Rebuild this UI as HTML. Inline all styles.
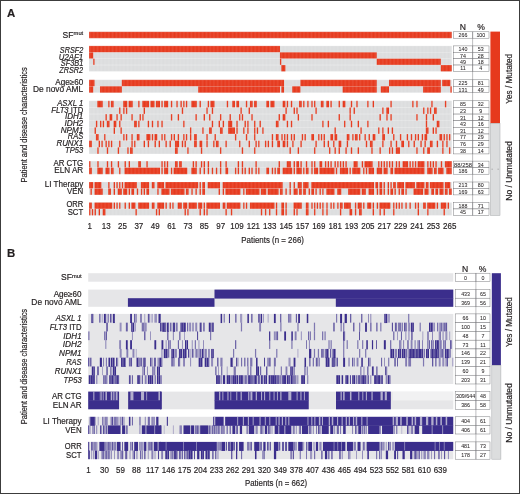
<!DOCTYPE html>
<html><head><meta charset="utf-8"><title>Figure</title>
<style>
html,body{margin:0;padding:0;background:#fff;}
body{width:520px;height:495px;overflow:hidden;position:relative;font-family:"Liberation Sans",sans-serif;}
svg{will-change:transform;display:block;position:absolute;left:0;top:0;}
svg text{font-family:"Liberation Sans",sans-serif;fill:#231f20;stroke:#231f20;stroke-width:0.18px;}
.i{font-style:italic;}
</style></head><body>
<svg width="520" height="495" viewBox="0 0 520 495">
<defs>
<pattern id="pa" patternUnits="userSpaceOnUse" x="88.95" y="0" width="1.3632" height="10"><rect x="0" y="0" width="0.3" height="10" fill="#fff" opacity="0.2"/></pattern>
</defs>
<rect x="0.5" y="0.5" width="519" height="493" fill="#fff" stroke="#3c3c3c" stroke-width="1"/>
<rect x="89.1" y="31.8" width="362.6" height="6.4" fill="#dcddde"/>
<rect x="89.1" y="45.9" width="362.6" height="25.52" fill="#dcddde"/>
<rect x="89.1" y="79.8" width="362.6" height="12.9" fill="#dcddde"/>
<rect x="89.1" y="100.8" width="362.6" height="53.12" fill="#dcddde"/>
<rect x="89.1" y="161.1" width="362.6" height="13.1" fill="#dcddde"/>
<rect x="89.1" y="182" width="362.6" height="12.9" fill="#dcddde"/>
<rect x="89.1" y="202.5" width="362.6" height="12.9" fill="#dcddde"/>
<rect x="89.1" y="31.8" width="362.61" height="6.4" fill="#e6391d"/>
<rect x="89.1" y="31.8" width="362.6" height="6.4" fill="url(#pa)"/>
<line x1="89.1" y1="38.2" x2="451.7" y2="38.2" stroke="#fff" stroke-width="0.5" opacity="0.3"/>
<line x1="89.1" y1="31.8" x2="451.7" y2="31.8" stroke="#fff" stroke-width="0.5" opacity="0.3"/>
<text transform="translate(83.2,37.7) scale(1.0330,1)" font-size="8.3" text-anchor="end">SF<tspan font-size="5.6" dy="-2.8">mut</tspan></text>
<rect x="453.3" y="31.8" width="35.7" height="6.4" fill="#fff" stroke="#6d6e71" stroke-width="0.45"/>
<line x1="472.6" y1="31.8" x2="472.6" y2="38.2" stroke="#6d6e71" stroke-width="0.45"/>
<text transform="translate(462.95,37.12) scale(0.9000,1)" font-size="5.9" text-anchor="middle" style="stroke-width:0.05px">266</text>
<text transform="translate(480.8,37.12) scale(0.9000,1)" font-size="5.9" text-anchor="middle" style="stroke-width:0.05px">100</text>
<rect x="89.1" y="45.9" width="190.85" height="6.38" fill="#e6391d"/>
<rect x="89.1" y="45.9" width="362.6" height="6.38" fill="url(#pa)"/>
<line x1="89.1" y1="52.28" x2="451.7" y2="52.28" stroke="#fff" stroke-width="0.5" opacity="0.3"/>
<line x1="89.1" y1="45.9" x2="451.7" y2="45.9" stroke="#fff" stroke-width="0.5" opacity="0.3"/>
<text transform="translate(83.2,52.76) scale(0.8747,1)" font-size="8.3" text-anchor="end"><tspan class="i">SRSF2</tspan></text>
<rect x="453.3" y="45.9" width="35.7" height="6.38" fill="#fff" stroke="#6d6e71" stroke-width="0.45"/>
<line x1="472.6" y1="45.9" x2="472.6" y2="52.28" stroke="#6d6e71" stroke-width="0.45"/>
<text transform="translate(462.95,51.21) scale(0.9000,1)" font-size="5.9" text-anchor="middle" style="stroke-width:0.05px">140</text>
<text transform="translate(480.8,51.21) scale(0.9000,1)" font-size="5.9" text-anchor="middle" style="stroke-width:0.05px">53</text>
<rect x="89.1" y="52.28" width="4.09" height="6.38" fill="#e6391d"/>
<rect x="279.95" y="52.28" width="96.79" height="6.38" fill="#e6391d"/>
<rect x="89.1" y="52.28" width="362.6" height="6.38" fill="url(#pa)"/>
<line x1="89.1" y1="58.66" x2="451.7" y2="58.66" stroke="#fff" stroke-width="0.5" opacity="0.3"/>
<line x1="89.1" y1="52.28" x2="451.7" y2="52.28" stroke="#fff" stroke-width="0.5" opacity="0.3"/>
<text transform="translate(83.2,59.55) scale(0.9445,1)" font-size="8.3" text-anchor="end"><tspan class="i">U2AF1</tspan></text>
<rect x="453.3" y="52.28" width="35.7" height="6.38" fill="#fff" stroke="#6d6e71" stroke-width="0.45"/>
<line x1="472.6" y1="52.28" x2="472.6" y2="58.66" stroke="#6d6e71" stroke-width="0.45"/>
<text transform="translate(462.95,57.59) scale(0.9000,1)" font-size="5.9" text-anchor="middle" style="stroke-width:0.05px">74</text>
<text transform="translate(480.8,57.59) scale(0.9000,1)" font-size="5.9" text-anchor="middle" style="stroke-width:0.05px">28</text>
<rect x="93.19" y="58.66" width="1.36" height="6.38" fill="#e6391d"/>
<rect x="279.95" y="58.66" width="1.36" height="6.38" fill="#e6391d"/>
<rect x="376.74" y="58.66" width="64.07" height="6.38" fill="#e6391d"/>
<rect x="89.1" y="58.66" width="362.6" height="6.38" fill="url(#pa)"/>
<line x1="89.1" y1="65.04" x2="451.7" y2="65.04" stroke="#fff" stroke-width="0.5" opacity="0.3"/>
<line x1="89.1" y1="58.66" x2="451.7" y2="58.66" stroke="#fff" stroke-width="0.5" opacity="0.3"/>
<text transform="translate(83.2,66.06) scale(0.8827,1)" font-size="8.3" text-anchor="end"><tspan class="i">SF3B1</tspan></text>
<rect x="453.3" y="58.66" width="35.7" height="6.38" fill="#fff" stroke="#6d6e71" stroke-width="0.45"/>
<line x1="472.6" y1="58.66" x2="472.6" y2="65.04" stroke="#6d6e71" stroke-width="0.45"/>
<text transform="translate(462.95,63.97) scale(0.9000,1)" font-size="5.9" text-anchor="middle" style="stroke-width:0.05px">49</text>
<text transform="translate(480.8,63.97) scale(0.9000,1)" font-size="5.9" text-anchor="middle" style="stroke-width:0.05px">18</text>
<rect x="281.31" y="65.04" width="4.09" height="6.38" fill="#e6391d"/>
<rect x="440.81" y="65.04" width="10.91" height="6.38" fill="#e6391d"/>
<rect x="89.1" y="65.04" width="362.6" height="6.38" fill="url(#pa)"/>
<line x1="89.1" y1="71.42" x2="451.7" y2="71.42" stroke="#fff" stroke-width="0.5" opacity="0.3"/>
<line x1="89.1" y1="65.04" x2="451.7" y2="65.04" stroke="#fff" stroke-width="0.5" opacity="0.3"/>
<text transform="translate(83.2,72.85) scale(0.8820,1)" font-size="8.3" text-anchor="end"><tspan class="i">ZRSR2</tspan></text>
<rect x="453.3" y="65.04" width="35.7" height="6.38" fill="#fff" stroke="#6d6e71" stroke-width="0.45"/>
<line x1="472.6" y1="65.04" x2="472.6" y2="71.42" stroke="#6d6e71" stroke-width="0.45"/>
<text transform="translate(462.95,70.35) scale(0.9000,1)" font-size="5.9" text-anchor="middle" style="stroke-width:0.05px">11</text>
<text transform="translate(480.8,70.35) scale(0.9000,1)" font-size="5.9" text-anchor="middle" style="stroke-width:0.05px">4</text>
<rect x="89.1" y="79.8" width="5.45" height="6.45" fill="#e6391d"/>
<rect x="121.82" y="79.8" width="162.22" height="6.45" fill="#e6391d"/>
<rect x="300.4" y="79.8" width="76.34" height="6.45" fill="#e6391d"/>
<rect x="389" y="79.8" width="51.8" height="6.45" fill="#e6391d"/>
<rect x="442.17" y="79.8" width="8.18" height="6.45" fill="#e6391d"/>
<rect x="89.1" y="79.8" width="362.6" height="6.45" fill="url(#pa)"/>
<line x1="89.1" y1="86.25" x2="451.7" y2="86.25" stroke="#fff" stroke-width="0.5" opacity="0.3"/>
<line x1="89.1" y1="79.8" x2="451.7" y2="79.8" stroke="#fff" stroke-width="0.5" opacity="0.3"/>
<text transform="translate(83.2,85.4) scale(0.9805,1)" font-size="8.3" text-anchor="end">Age≥60</text>
<rect x="453.3" y="79.8" width="35.7" height="6.45" fill="#fff" stroke="#6d6e71" stroke-width="0.45"/>
<line x1="472.6" y1="79.8" x2="472.6" y2="86.25" stroke="#6d6e71" stroke-width="0.45"/>
<text transform="translate(462.95,85.15) scale(0.9000,1)" font-size="5.9" text-anchor="middle" style="stroke-width:0.05px">225</text>
<text transform="translate(480.8,85.15) scale(0.9000,1)" font-size="5.9" text-anchor="middle" style="stroke-width:0.05px">81</text>
<rect x="89.1" y="86.25" width="4.09" height="6.45" fill="#e6391d"/>
<rect x="100.01" y="86.25" width="21.81" height="6.45" fill="#e6391d"/>
<rect x="198.16" y="86.25" width="81.79" height="6.45" fill="#e6391d"/>
<rect x="281.31" y="86.25" width="2.73" height="6.45" fill="#e6391d"/>
<rect x="292.22" y="86.25" width="8.18" height="6.45" fill="#e6391d"/>
<rect x="342.66" y="86.25" width="34.08" height="6.45" fill="#e6391d"/>
<rect x="380.82" y="86.25" width="8.18" height="6.45" fill="#e6391d"/>
<rect x="423.08" y="86.25" width="17.72" height="6.45" fill="#e6391d"/>
<rect x="450.35" y="86.25" width="1.36" height="6.45" fill="#e6391d"/>
<rect x="89.1" y="86.25" width="362.6" height="6.45" fill="url(#pa)"/>
<line x1="89.1" y1="92.7" x2="451.7" y2="92.7" stroke="#fff" stroke-width="0.5" opacity="0.3"/>
<line x1="89.1" y1="86.25" x2="451.7" y2="86.25" stroke="#fff" stroke-width="0.5" opacity="0.3"/>
<text transform="translate(83.2,92.3) scale(1.0094,1)" font-size="8.3" text-anchor="end">De novo AML</text>
<rect x="453.3" y="86.25" width="35.7" height="6.45" fill="#fff" stroke="#6d6e71" stroke-width="0.45"/>
<line x1="472.6" y1="86.25" x2="472.6" y2="92.7" stroke="#6d6e71" stroke-width="0.45"/>
<text transform="translate(462.95,91.6) scale(0.9000,1)" font-size="5.9" text-anchor="middle" style="stroke-width:0.05px">131</text>
<text transform="translate(480.8,91.6) scale(0.9000,1)" font-size="5.9" text-anchor="middle" style="stroke-width:0.05px">49</text>
<rect x="97.28" y="100.8" width="5.45" height="6.64" fill="#e6391d"/>
<rect x="108.18" y="100.8" width="1.36" height="6.64" fill="#e6391d"/>
<rect x="110.91" y="100.8" width="2.73" height="6.64" fill="#e6391d"/>
<rect x="123.18" y="100.8" width="4.09" height="6.64" fill="#e6391d"/>
<rect x="128.63" y="100.8" width="4.09" height="6.64" fill="#e6391d"/>
<rect x="138.18" y="100.8" width="1.36" height="6.64" fill="#e6391d"/>
<rect x="142.26" y="100.8" width="6.82" height="6.64" fill="#e6391d"/>
<rect x="150.44" y="100.8" width="4.09" height="6.64" fill="#e6391d"/>
<rect x="155.9" y="100.8" width="4.09" height="6.64" fill="#e6391d"/>
<rect x="161.35" y="100.8" width="1.36" height="6.64" fill="#e6391d"/>
<rect x="164.08" y="100.8" width="4.09" height="6.64" fill="#e6391d"/>
<rect x="170.89" y="100.8" width="1.36" height="6.64" fill="#e6391d"/>
<rect x="176.34" y="100.8" width="1.36" height="6.64" fill="#e6391d"/>
<rect x="180.43" y="100.8" width="1.36" height="6.64" fill="#e6391d"/>
<rect x="183.16" y="100.8" width="1.36" height="6.64" fill="#e6391d"/>
<rect x="185.89" y="100.8" width="1.36" height="6.64" fill="#e6391d"/>
<rect x="191.34" y="100.8" width="5.45" height="6.64" fill="#e6391d"/>
<rect x="199.52" y="100.8" width="1.36" height="6.64" fill="#e6391d"/>
<rect x="207.7" y="100.8" width="1.36" height="6.64" fill="#e6391d"/>
<rect x="210.42" y="100.8" width="4.09" height="6.64" fill="#e6391d"/>
<rect x="226.78" y="100.8" width="1.36" height="6.64" fill="#e6391d"/>
<rect x="232.24" y="100.8" width="2.73" height="6.64" fill="#e6391d"/>
<rect x="236.33" y="100.8" width="2.73" height="6.64" fill="#e6391d"/>
<rect x="245.87" y="100.8" width="1.36" height="6.64" fill="#e6391d"/>
<rect x="249.96" y="100.8" width="2.73" height="6.64" fill="#e6391d"/>
<rect x="254.05" y="100.8" width="2.73" height="6.64" fill="#e6391d"/>
<rect x="266.32" y="100.8" width="2.73" height="6.64" fill="#e6391d"/>
<rect x="270.41" y="100.8" width="4.09" height="6.64" fill="#e6391d"/>
<rect x="282.67" y="100.8" width="2.73" height="6.64" fill="#e6391d"/>
<rect x="286.76" y="100.8" width="1.36" height="6.64" fill="#e6391d"/>
<rect x="290.85" y="100.8" width="1.36" height="6.64" fill="#e6391d"/>
<rect x="299.03" y="100.8" width="2.73" height="6.64" fill="#e6391d"/>
<rect x="303.12" y="100.8" width="1.36" height="6.64" fill="#e6391d"/>
<rect x="307.21" y="100.8" width="1.36" height="6.64" fill="#e6391d"/>
<rect x="311.3" y="100.8" width="1.36" height="6.64" fill="#e6391d"/>
<rect x="314.03" y="100.8" width="1.36" height="6.64" fill="#e6391d"/>
<rect x="320.84" y="100.8" width="2.73" height="6.64" fill="#e6391d"/>
<rect x="326.3" y="100.8" width="2.73" height="6.64" fill="#e6391d"/>
<rect x="330.39" y="100.8" width="1.36" height="6.64" fill="#e6391d"/>
<rect x="338.57" y="100.8" width="1.36" height="6.64" fill="#e6391d"/>
<rect x="342.66" y="100.8" width="2.73" height="6.64" fill="#e6391d"/>
<rect x="350.83" y="100.8" width="1.36" height="6.64" fill="#e6391d"/>
<rect x="356.29" y="100.8" width="1.36" height="6.64" fill="#e6391d"/>
<rect x="367.19" y="100.8" width="1.36" height="6.64" fill="#e6391d"/>
<rect x="372.65" y="100.8" width="1.36" height="6.64" fill="#e6391d"/>
<rect x="390.37" y="100.8" width="1.36" height="6.64" fill="#e6391d"/>
<rect x="412.18" y="100.8" width="1.36" height="6.64" fill="#e6391d"/>
<rect x="416.27" y="100.8" width="1.36" height="6.64" fill="#e6391d"/>
<rect x="431.26" y="100.8" width="1.36" height="6.64" fill="#e6391d"/>
<rect x="444.9" y="100.8" width="1.36" height="6.64" fill="#e6391d"/>
<rect x="89.1" y="100.8" width="362.6" height="6.64" fill="url(#pa)"/>
<line x1="89.1" y1="107.44" x2="451.7" y2="107.44" stroke="#fff" stroke-width="0.5" opacity="0.3"/>
<line x1="89.1" y1="100.8" x2="451.7" y2="100.8" stroke="#fff" stroke-width="0.5" opacity="0.3"/>
<text transform="translate(83.2,105.9) scale(0.9287,1)" font-size="8.3" text-anchor="end"><tspan class="i">ASXL 1</tspan></text>
<rect x="453.3" y="100.8" width="35.7" height="6.64" fill="#fff" stroke="#6d6e71" stroke-width="0.45"/>
<line x1="472.6" y1="100.8" x2="472.6" y2="107.44" stroke="#6d6e71" stroke-width="0.45"/>
<text transform="translate(462.95,106.24) scale(0.9000,1)" font-size="5.9" text-anchor="middle" style="stroke-width:0.05px">85</text>
<text transform="translate(480.8,106.24) scale(0.9000,1)" font-size="5.9" text-anchor="middle" style="stroke-width:0.05px">32</text>
<rect x="119.09" y="107.44" width="1.36" height="6.64" fill="#e6391d"/>
<rect x="123.18" y="107.44" width="1.36" height="6.64" fill="#e6391d"/>
<rect x="125.91" y="107.44" width="1.36" height="6.64" fill="#e6391d"/>
<rect x="143.63" y="107.44" width="1.36" height="6.64" fill="#e6391d"/>
<rect x="181.8" y="107.44" width="1.36" height="6.64" fill="#e6391d"/>
<rect x="206.34" y="107.44" width="1.36" height="6.64" fill="#e6391d"/>
<rect x="211.79" y="107.44" width="1.36" height="6.64" fill="#e6391d"/>
<rect x="240.42" y="107.44" width="1.36" height="6.64" fill="#e6391d"/>
<rect x="248.59" y="107.44" width="1.36" height="6.64" fill="#e6391d"/>
<rect x="285.4" y="107.44" width="1.36" height="6.64" fill="#e6391d"/>
<rect x="293.58" y="107.44" width="1.36" height="6.64" fill="#e6391d"/>
<rect x="296.31" y="107.44" width="1.36" height="6.64" fill="#e6391d"/>
<rect x="315.39" y="107.44" width="1.36" height="6.64" fill="#e6391d"/>
<rect x="349.47" y="107.44" width="1.36" height="6.64" fill="#e6391d"/>
<rect x="353.56" y="107.44" width="1.36" height="6.64" fill="#e6391d"/>
<rect x="382.19" y="107.44" width="1.36" height="6.64" fill="#e6391d"/>
<rect x="386.28" y="107.44" width="2.73" height="6.64" fill="#e6391d"/>
<rect x="423.08" y="107.44" width="1.36" height="6.64" fill="#e6391d"/>
<rect x="427.17" y="107.44" width="1.36" height="6.64" fill="#e6391d"/>
<rect x="429.9" y="107.44" width="1.36" height="6.64" fill="#e6391d"/>
<rect x="433.99" y="107.44" width="2.73" height="6.64" fill="#e6391d"/>
<rect x="89.1" y="107.44" width="362.6" height="6.64" fill="url(#pa)"/>
<line x1="89.1" y1="114.08" x2="451.7" y2="114.08" stroke="#fff" stroke-width="0.5" opacity="0.3"/>
<line x1="89.1" y1="107.44" x2="451.7" y2="107.44" stroke="#fff" stroke-width="0.5" opacity="0.3"/>
<text transform="translate(83.2,112.7) scale(0.9293,1)" font-size="8.3" text-anchor="end"><tspan class="i">FLT3</tspan> ITD</text>
<rect x="453.3" y="107.44" width="35.7" height="6.64" fill="#fff" stroke="#6d6e71" stroke-width="0.45"/>
<line x1="472.6" y1="107.44" x2="472.6" y2="114.08" stroke="#6d6e71" stroke-width="0.45"/>
<text transform="translate(462.95,112.88) scale(0.9000,1)" font-size="5.9" text-anchor="middle" style="stroke-width:0.05px">23</text>
<text transform="translate(480.8,112.88) scale(0.9000,1)" font-size="5.9" text-anchor="middle" style="stroke-width:0.05px">9</text>
<rect x="105.46" y="114.08" width="1.36" height="6.64" fill="#e6391d"/>
<rect x="109.55" y="114.08" width="2.73" height="6.64" fill="#e6391d"/>
<rect x="116.36" y="114.08" width="1.36" height="6.64" fill="#e6391d"/>
<rect x="120.45" y="114.08" width="1.36" height="6.64" fill="#e6391d"/>
<rect x="131.36" y="114.08" width="1.36" height="6.64" fill="#e6391d"/>
<rect x="139.54" y="114.08" width="1.36" height="6.64" fill="#e6391d"/>
<rect x="142.26" y="114.08" width="1.36" height="6.64" fill="#e6391d"/>
<rect x="170.89" y="114.08" width="1.36" height="6.64" fill="#e6391d"/>
<rect x="177.71" y="114.08" width="1.36" height="6.64" fill="#e6391d"/>
<rect x="195.43" y="114.08" width="1.36" height="6.64" fill="#e6391d"/>
<rect x="203.61" y="114.08" width="1.36" height="6.64" fill="#e6391d"/>
<rect x="209.06" y="114.08" width="1.36" height="6.64" fill="#e6391d"/>
<rect x="219.97" y="114.08" width="1.36" height="6.64" fill="#e6391d"/>
<rect x="229.51" y="114.08" width="1.36" height="6.64" fill="#e6391d"/>
<rect x="239.05" y="114.08" width="1.36" height="6.64" fill="#e6391d"/>
<rect x="241.78" y="114.08" width="1.36" height="6.64" fill="#e6391d"/>
<rect x="251.32" y="114.08" width="1.36" height="6.64" fill="#e6391d"/>
<rect x="278.58" y="114.08" width="1.36" height="6.64" fill="#e6391d"/>
<rect x="282.67" y="114.08" width="2.73" height="6.64" fill="#e6391d"/>
<rect x="297.67" y="114.08" width="1.36" height="6.64" fill="#e6391d"/>
<rect x="311.3" y="114.08" width="1.36" height="6.64" fill="#e6391d"/>
<rect x="338.57" y="114.08" width="1.36" height="6.64" fill="#e6391d"/>
<rect x="349.47" y="114.08" width="1.36" height="6.64" fill="#e6391d"/>
<rect x="379.46" y="114.08" width="1.36" height="6.64" fill="#e6391d"/>
<rect x="386.28" y="114.08" width="1.36" height="6.64" fill="#e6391d"/>
<rect x="390.37" y="114.08" width="1.36" height="6.64" fill="#e6391d"/>
<rect x="416.27" y="114.08" width="1.36" height="6.64" fill="#e6391d"/>
<rect x="425.81" y="114.08" width="1.36" height="6.64" fill="#e6391d"/>
<rect x="432.63" y="114.08" width="1.36" height="6.64" fill="#e6391d"/>
<rect x="89.1" y="114.08" width="362.6" height="6.64" fill="url(#pa)"/>
<line x1="89.1" y1="120.72" x2="451.7" y2="120.72" stroke="#fff" stroke-width="0.5" opacity="0.3"/>
<line x1="89.1" y1="114.08" x2="451.7" y2="114.08" stroke="#fff" stroke-width="0.5" opacity="0.3"/>
<text transform="translate(83.2,119.4) scale(0.9677,1)" font-size="8.3" text-anchor="end"><tspan class="i">IDH1</tspan></text>
<rect x="453.3" y="114.08" width="35.7" height="6.64" fill="#fff" stroke="#6d6e71" stroke-width="0.45"/>
<line x1="472.6" y1="114.08" x2="472.6" y2="120.72" stroke="#6d6e71" stroke-width="0.45"/>
<text transform="translate(462.95,119.52) scale(0.9000,1)" font-size="5.9" text-anchor="middle" style="stroke-width:0.05px">31</text>
<text transform="translate(480.8,119.52) scale(0.9000,1)" font-size="5.9" text-anchor="middle" style="stroke-width:0.05px">12</text>
<rect x="95.92" y="120.72" width="1.36" height="6.64" fill="#e6391d"/>
<rect x="100.01" y="120.72" width="1.36" height="6.64" fill="#e6391d"/>
<rect x="102.73" y="120.72" width="1.36" height="6.64" fill="#e6391d"/>
<rect x="106.82" y="120.72" width="2.73" height="6.64" fill="#e6391d"/>
<rect x="113.64" y="120.72" width="2.73" height="6.64" fill="#e6391d"/>
<rect x="119.09" y="120.72" width="1.36" height="6.64" fill="#e6391d"/>
<rect x="134.09" y="120.72" width="2.73" height="6.64" fill="#e6391d"/>
<rect x="138.18" y="120.72" width="1.36" height="6.64" fill="#e6391d"/>
<rect x="147.72" y="120.72" width="1.36" height="6.64" fill="#e6391d"/>
<rect x="151.81" y="120.72" width="1.36" height="6.64" fill="#e6391d"/>
<rect x="157.26" y="120.72" width="1.36" height="6.64" fill="#e6391d"/>
<rect x="161.35" y="120.72" width="1.36" height="6.64" fill="#e6391d"/>
<rect x="183.16" y="120.72" width="1.36" height="6.64" fill="#e6391d"/>
<rect x="211.79" y="120.72" width="1.36" height="6.64" fill="#e6391d"/>
<rect x="218.6" y="120.72" width="1.36" height="6.64" fill="#e6391d"/>
<rect x="222.69" y="120.72" width="1.36" height="6.64" fill="#e6391d"/>
<rect x="228.15" y="120.72" width="4.09" height="6.64" fill="#e6391d"/>
<rect x="236.33" y="120.72" width="1.36" height="6.64" fill="#e6391d"/>
<rect x="244.5" y="120.72" width="1.36" height="6.64" fill="#e6391d"/>
<rect x="247.23" y="120.72" width="1.36" height="6.64" fill="#e6391d"/>
<rect x="254.05" y="120.72" width="1.36" height="6.64" fill="#e6391d"/>
<rect x="259.5" y="120.72" width="1.36" height="6.64" fill="#e6391d"/>
<rect x="275.86" y="120.72" width="2.73" height="6.64" fill="#e6391d"/>
<rect x="286.76" y="120.72" width="1.36" height="6.64" fill="#e6391d"/>
<rect x="290.85" y="120.72" width="1.36" height="6.64" fill="#e6391d"/>
<rect x="322.21" y="120.72" width="1.36" height="6.64" fill="#e6391d"/>
<rect x="327.66" y="120.72" width="1.36" height="6.64" fill="#e6391d"/>
<rect x="344.02" y="120.72" width="1.36" height="6.64" fill="#e6391d"/>
<rect x="350.83" y="120.72" width="1.36" height="6.64" fill="#e6391d"/>
<rect x="357.65" y="120.72" width="1.36" height="6.64" fill="#e6391d"/>
<rect x="367.19" y="120.72" width="1.36" height="6.64" fill="#e6391d"/>
<rect x="425.81" y="120.72" width="1.36" height="6.64" fill="#e6391d"/>
<rect x="436.72" y="120.72" width="2.73" height="6.64" fill="#e6391d"/>
<rect x="89.1" y="120.72" width="362.6" height="6.64" fill="url(#pa)"/>
<line x1="89.1" y1="127.36" x2="451.7" y2="127.36" stroke="#fff" stroke-width="0.5" opacity="0.3"/>
<line x1="89.1" y1="120.72" x2="451.7" y2="120.72" stroke="#fff" stroke-width="0.5" opacity="0.3"/>
<text transform="translate(83.2,126) scale(0.9942,1)" font-size="8.3" text-anchor="end"><tspan class="i">IDH2</tspan></text>
<rect x="453.3" y="120.72" width="35.7" height="6.64" fill="#fff" stroke="#6d6e71" stroke-width="0.45"/>
<line x1="472.6" y1="120.72" x2="472.6" y2="127.36" stroke="#6d6e71" stroke-width="0.45"/>
<text transform="translate(462.95,126.16) scale(0.9000,1)" font-size="5.9" text-anchor="middle" style="stroke-width:0.05px">43</text>
<text transform="translate(480.8,126.16) scale(0.9000,1)" font-size="5.9" text-anchor="middle" style="stroke-width:0.05px">16</text>
<rect x="94.55" y="127.36" width="1.36" height="6.64" fill="#e6391d"/>
<rect x="113.64" y="127.36" width="1.36" height="6.64" fill="#e6391d"/>
<rect x="120.45" y="127.36" width="1.36" height="6.64" fill="#e6391d"/>
<rect x="189.98" y="127.36" width="1.36" height="6.64" fill="#e6391d"/>
<rect x="202.25" y="127.36" width="1.36" height="6.64" fill="#e6391d"/>
<rect x="209.06" y="127.36" width="2.73" height="6.64" fill="#e6391d"/>
<rect x="219.97" y="127.36" width="2.73" height="6.64" fill="#e6391d"/>
<rect x="228.15" y="127.36" width="6.82" height="6.64" fill="#e6391d"/>
<rect x="236.33" y="127.36" width="1.36" height="6.64" fill="#e6391d"/>
<rect x="243.14" y="127.36" width="1.36" height="6.64" fill="#e6391d"/>
<rect x="247.23" y="127.36" width="1.36" height="6.64" fill="#e6391d"/>
<rect x="254.05" y="127.36" width="1.36" height="6.64" fill="#e6391d"/>
<rect x="256.77" y="127.36" width="1.36" height="6.64" fill="#e6391d"/>
<rect x="262.23" y="127.36" width="1.36" height="6.64" fill="#e6391d"/>
<rect x="334.48" y="127.36" width="1.36" height="6.64" fill="#e6391d"/>
<rect x="360.38" y="127.36" width="1.36" height="6.64" fill="#e6391d"/>
<rect x="378.1" y="127.36" width="1.36" height="6.64" fill="#e6391d"/>
<rect x="382.19" y="127.36" width="1.36" height="6.64" fill="#e6391d"/>
<rect x="387.64" y="127.36" width="1.36" height="6.64" fill="#e6391d"/>
<rect x="391.73" y="127.36" width="1.36" height="6.64" fill="#e6391d"/>
<rect x="425.81" y="127.36" width="2.73" height="6.64" fill="#e6391d"/>
<rect x="432.63" y="127.36" width="1.36" height="6.64" fill="#e6391d"/>
<rect x="435.35" y="127.36" width="1.36" height="6.64" fill="#e6391d"/>
<rect x="89.1" y="127.36" width="362.6" height="6.64" fill="url(#pa)"/>
<line x1="89.1" y1="134" x2="451.7" y2="134" stroke="#fff" stroke-width="0.5" opacity="0.3"/>
<line x1="89.1" y1="127.36" x2="451.7" y2="127.36" stroke="#fff" stroke-width="0.5" opacity="0.3"/>
<text transform="translate(83.2,132.5) scale(0.9800,1)" font-size="8.3" text-anchor="end"><tspan class="i">NPM1</tspan></text>
<rect x="453.3" y="127.36" width="35.7" height="6.64" fill="#fff" stroke="#6d6e71" stroke-width="0.45"/>
<line x1="472.6" y1="127.36" x2="472.6" y2="134" stroke="#6d6e71" stroke-width="0.45"/>
<text transform="translate(462.95,132.8) scale(0.9000,1)" font-size="5.9" text-anchor="middle" style="stroke-width:0.05px">31</text>
<text transform="translate(480.8,132.8) scale(0.9000,1)" font-size="5.9" text-anchor="middle" style="stroke-width:0.05px">12</text>
<rect x="95.92" y="134" width="2.73" height="6.64" fill="#e6391d"/>
<rect x="104.1" y="134" width="1.36" height="6.64" fill="#e6391d"/>
<rect x="123.18" y="134" width="1.36" height="6.64" fill="#e6391d"/>
<rect x="125.91" y="134" width="1.36" height="6.64" fill="#e6391d"/>
<rect x="131.36" y="134" width="1.36" height="6.64" fill="#e6391d"/>
<rect x="136.81" y="134" width="2.73" height="6.64" fill="#e6391d"/>
<rect x="146.35" y="134" width="4.09" height="6.64" fill="#e6391d"/>
<rect x="151.81" y="134" width="1.36" height="6.64" fill="#e6391d"/>
<rect x="154.53" y="134" width="2.73" height="6.64" fill="#e6391d"/>
<rect x="161.35" y="134" width="1.36" height="6.64" fill="#e6391d"/>
<rect x="164.08" y="134" width="1.36" height="6.64" fill="#e6391d"/>
<rect x="170.89" y="134" width="1.36" height="6.64" fill="#e6391d"/>
<rect x="173.62" y="134" width="1.36" height="6.64" fill="#e6391d"/>
<rect x="177.71" y="134" width="1.36" height="6.64" fill="#e6391d"/>
<rect x="183.16" y="134" width="1.36" height="6.64" fill="#e6391d"/>
<rect x="185.89" y="134" width="1.36" height="6.64" fill="#e6391d"/>
<rect x="189.98" y="134" width="1.36" height="6.64" fill="#e6391d"/>
<rect x="194.07" y="134" width="2.73" height="6.64" fill="#e6391d"/>
<rect x="206.34" y="134" width="1.36" height="6.64" fill="#e6391d"/>
<rect x="214.51" y="134" width="1.36" height="6.64" fill="#e6391d"/>
<rect x="234.96" y="134" width="1.36" height="6.64" fill="#e6391d"/>
<rect x="245.87" y="134" width="1.36" height="6.64" fill="#e6391d"/>
<rect x="254.05" y="134" width="1.36" height="6.64" fill="#e6391d"/>
<rect x="271.77" y="134" width="1.36" height="6.64" fill="#e6391d"/>
<rect x="275.86" y="134" width="2.73" height="6.64" fill="#e6391d"/>
<rect x="281.31" y="134" width="1.36" height="6.64" fill="#e6391d"/>
<rect x="284.04" y="134" width="1.36" height="6.64" fill="#e6391d"/>
<rect x="286.76" y="134" width="1.36" height="6.64" fill="#e6391d"/>
<rect x="290.85" y="134" width="1.36" height="6.64" fill="#e6391d"/>
<rect x="293.58" y="134" width="1.36" height="6.64" fill="#e6391d"/>
<rect x="301.76" y="134" width="1.36" height="6.64" fill="#e6391d"/>
<rect x="304.49" y="134" width="1.36" height="6.64" fill="#e6391d"/>
<rect x="311.3" y="134" width="2.73" height="6.64" fill="#e6391d"/>
<rect x="318.12" y="134" width="1.36" height="6.64" fill="#e6391d"/>
<rect x="320.84" y="134" width="1.36" height="6.64" fill="#e6391d"/>
<rect x="323.57" y="134" width="1.36" height="6.64" fill="#e6391d"/>
<rect x="330.39" y="134" width="2.73" height="6.64" fill="#e6391d"/>
<rect x="334.48" y="134" width="2.73" height="6.64" fill="#e6391d"/>
<rect x="346.74" y="134" width="2.73" height="6.64" fill="#e6391d"/>
<rect x="352.2" y="134" width="1.36" height="6.64" fill="#e6391d"/>
<rect x="354.92" y="134" width="2.73" height="6.64" fill="#e6391d"/>
<rect x="359.01" y="134" width="1.36" height="6.64" fill="#e6391d"/>
<rect x="364.47" y="134" width="1.36" height="6.64" fill="#e6391d"/>
<rect x="368.56" y="134" width="1.36" height="6.64" fill="#e6391d"/>
<rect x="372.65" y="134" width="2.73" height="6.64" fill="#e6391d"/>
<rect x="382.19" y="134" width="2.73" height="6.64" fill="#e6391d"/>
<rect x="393.09" y="134" width="1.36" height="6.64" fill="#e6391d"/>
<rect x="399.91" y="134" width="1.36" height="6.64" fill="#e6391d"/>
<rect x="406.73" y="134" width="1.36" height="6.64" fill="#e6391d"/>
<rect x="410.82" y="134" width="1.36" height="6.64" fill="#e6391d"/>
<rect x="414.9" y="134" width="1.36" height="6.64" fill="#e6391d"/>
<rect x="417.63" y="134" width="1.36" height="6.64" fill="#e6391d"/>
<rect x="421.72" y="134" width="1.36" height="6.64" fill="#e6391d"/>
<rect x="424.45" y="134" width="2.73" height="6.64" fill="#e6391d"/>
<rect x="439.44" y="134" width="2.73" height="6.64" fill="#e6391d"/>
<rect x="443.53" y="134" width="1.36" height="6.64" fill="#e6391d"/>
<rect x="446.26" y="134" width="1.36" height="6.64" fill="#e6391d"/>
<rect x="448.98" y="134" width="1.36" height="6.64" fill="#e6391d"/>
<rect x="89.1" y="134" width="362.6" height="6.64" fill="url(#pa)"/>
<line x1="89.1" y1="140.64" x2="451.7" y2="140.64" stroke="#fff" stroke-width="0.5" opacity="0.3"/>
<line x1="89.1" y1="134" x2="451.7" y2="134" stroke="#fff" stroke-width="0.5" opacity="0.3"/>
<text transform="translate(83.2,139.2) scale(0.9082,1)" font-size="8.3" text-anchor="end"><tspan class="i">RAS</tspan></text>
<rect x="453.3" y="134" width="35.7" height="6.64" fill="#fff" stroke="#6d6e71" stroke-width="0.45"/>
<line x1="472.6" y1="134" x2="472.6" y2="140.64" stroke="#6d6e71" stroke-width="0.45"/>
<text transform="translate(462.95,139.44) scale(0.9000,1)" font-size="5.9" text-anchor="middle" style="stroke-width:0.05px">77</text>
<text transform="translate(480.8,139.44) scale(0.9000,1)" font-size="5.9" text-anchor="middle" style="stroke-width:0.05px">29</text>
<rect x="89.1" y="140.64" width="2.73" height="6.64" fill="#e6391d"/>
<rect x="98.64" y="140.64" width="1.36" height="6.64" fill="#e6391d"/>
<rect x="101.37" y="140.64" width="1.36" height="6.64" fill="#e6391d"/>
<rect x="105.46" y="140.64" width="1.36" height="6.64" fill="#e6391d"/>
<rect x="108.18" y="140.64" width="1.36" height="6.64" fill="#e6391d"/>
<rect x="110.91" y="140.64" width="1.36" height="6.64" fill="#e6391d"/>
<rect x="119.09" y="140.64" width="1.36" height="6.64" fill="#e6391d"/>
<rect x="131.36" y="140.64" width="1.36" height="6.64" fill="#e6391d"/>
<rect x="134.09" y="140.64" width="1.36" height="6.64" fill="#e6391d"/>
<rect x="143.63" y="140.64" width="1.36" height="6.64" fill="#e6391d"/>
<rect x="147.72" y="140.64" width="1.36" height="6.64" fill="#e6391d"/>
<rect x="154.53" y="140.64" width="1.36" height="6.64" fill="#e6391d"/>
<rect x="158.62" y="140.64" width="1.36" height="6.64" fill="#e6391d"/>
<rect x="165.44" y="140.64" width="1.36" height="6.64" fill="#e6391d"/>
<rect x="169.53" y="140.64" width="1.36" height="6.64" fill="#e6391d"/>
<rect x="174.98" y="140.64" width="4.09" height="6.64" fill="#e6391d"/>
<rect x="181.8" y="140.64" width="1.36" height="6.64" fill="#e6391d"/>
<rect x="184.52" y="140.64" width="1.36" height="6.64" fill="#e6391d"/>
<rect x="194.07" y="140.64" width="2.73" height="6.64" fill="#e6391d"/>
<rect x="199.52" y="140.64" width="2.73" height="6.64" fill="#e6391d"/>
<rect x="206.34" y="140.64" width="1.36" height="6.64" fill="#e6391d"/>
<rect x="213.15" y="140.64" width="1.36" height="6.64" fill="#e6391d"/>
<rect x="215.88" y="140.64" width="2.73" height="6.64" fill="#e6391d"/>
<rect x="225.42" y="140.64" width="1.36" height="6.64" fill="#e6391d"/>
<rect x="239.05" y="140.64" width="1.36" height="6.64" fill="#e6391d"/>
<rect x="248.59" y="140.64" width="1.36" height="6.64" fill="#e6391d"/>
<rect x="255.41" y="140.64" width="1.36" height="6.64" fill="#e6391d"/>
<rect x="258.14" y="140.64" width="1.36" height="6.64" fill="#e6391d"/>
<rect x="264.95" y="140.64" width="1.36" height="6.64" fill="#e6391d"/>
<rect x="267.68" y="140.64" width="1.36" height="6.64" fill="#e6391d"/>
<rect x="271.77" y="140.64" width="1.36" height="6.64" fill="#e6391d"/>
<rect x="277.22" y="140.64" width="2.73" height="6.64" fill="#e6391d"/>
<rect x="282.67" y="140.64" width="2.73" height="6.64" fill="#e6391d"/>
<rect x="286.76" y="140.64" width="1.36" height="6.64" fill="#e6391d"/>
<rect x="292.22" y="140.64" width="1.36" height="6.64" fill="#e6391d"/>
<rect x="300.4" y="140.64" width="1.36" height="6.64" fill="#e6391d"/>
<rect x="315.39" y="140.64" width="1.36" height="6.64" fill="#e6391d"/>
<rect x="323.57" y="140.64" width="1.36" height="6.64" fill="#e6391d"/>
<rect x="327.66" y="140.64" width="1.36" height="6.64" fill="#e6391d"/>
<rect x="333.11" y="140.64" width="1.36" height="6.64" fill="#e6391d"/>
<rect x="338.57" y="140.64" width="2.73" height="6.64" fill="#e6391d"/>
<rect x="346.74" y="140.64" width="1.36" height="6.64" fill="#e6391d"/>
<rect x="365.83" y="140.64" width="1.36" height="6.64" fill="#e6391d"/>
<rect x="369.92" y="140.64" width="2.73" height="6.64" fill="#e6391d"/>
<rect x="382.19" y="140.64" width="1.36" height="6.64" fill="#e6391d"/>
<rect x="390.37" y="140.64" width="1.36" height="6.64" fill="#e6391d"/>
<rect x="395.82" y="140.64" width="1.36" height="6.64" fill="#e6391d"/>
<rect x="401.27" y="140.64" width="2.73" height="6.64" fill="#e6391d"/>
<rect x="408.09" y="140.64" width="1.36" height="6.64" fill="#e6391d"/>
<rect x="413.54" y="140.64" width="1.36" height="6.64" fill="#e6391d"/>
<rect x="420.36" y="140.64" width="1.36" height="6.64" fill="#e6391d"/>
<rect x="424.45" y="140.64" width="1.36" height="6.64" fill="#e6391d"/>
<rect x="429.9" y="140.64" width="2.73" height="6.64" fill="#e6391d"/>
<rect x="436.72" y="140.64" width="1.36" height="6.64" fill="#e6391d"/>
<rect x="442.17" y="140.64" width="1.36" height="6.64" fill="#e6391d"/>
<rect x="446.26" y="140.64" width="1.36" height="6.64" fill="#e6391d"/>
<rect x="89.1" y="140.64" width="362.6" height="6.64" fill="url(#pa)"/>
<line x1="89.1" y1="147.28" x2="451.7" y2="147.28" stroke="#fff" stroke-width="0.5" opacity="0.3"/>
<line x1="89.1" y1="140.64" x2="451.7" y2="140.64" stroke="#fff" stroke-width="0.5" opacity="0.3"/>
<text transform="translate(83.2,146) scale(0.9525,1)" font-size="8.3" text-anchor="end"><tspan class="i">RUNX1</tspan></text>
<rect x="453.3" y="140.64" width="35.7" height="6.64" fill="#fff" stroke="#6d6e71" stroke-width="0.45"/>
<line x1="472.6" y1="140.64" x2="472.6" y2="147.28" stroke="#6d6e71" stroke-width="0.45"/>
<text transform="translate(462.95,146.08) scale(0.9000,1)" font-size="5.9" text-anchor="middle" style="stroke-width:0.05px">76</text>
<text transform="translate(480.8,146.08) scale(0.9000,1)" font-size="5.9" text-anchor="middle" style="stroke-width:0.05px">29</text>
<rect x="97.28" y="147.28" width="1.36" height="6.64" fill="#e6391d"/>
<rect x="106.82" y="147.28" width="1.36" height="6.64" fill="#e6391d"/>
<rect x="117.73" y="147.28" width="1.36" height="6.64" fill="#e6391d"/>
<rect x="127.27" y="147.28" width="1.36" height="6.64" fill="#e6391d"/>
<rect x="130" y="147.28" width="2.73" height="6.64" fill="#e6391d"/>
<rect x="174.98" y="147.28" width="2.73" height="6.64" fill="#e6391d"/>
<rect x="187.25" y="147.28" width="1.36" height="6.64" fill="#e6391d"/>
<rect x="200.88" y="147.28" width="1.36" height="6.64" fill="#e6391d"/>
<rect x="219.97" y="147.28" width="1.36" height="6.64" fill="#e6391d"/>
<rect x="241.78" y="147.28" width="1.36" height="6.64" fill="#e6391d"/>
<rect x="254.05" y="147.28" width="1.36" height="6.64" fill="#e6391d"/>
<rect x="289.49" y="147.28" width="1.36" height="6.64" fill="#e6391d"/>
<rect x="297.67" y="147.28" width="1.36" height="6.64" fill="#e6391d"/>
<rect x="314.03" y="147.28" width="1.36" height="6.64" fill="#e6391d"/>
<rect x="329.02" y="147.28" width="1.36" height="6.64" fill="#e6391d"/>
<rect x="334.48" y="147.28" width="1.36" height="6.64" fill="#e6391d"/>
<rect x="338.57" y="147.28" width="1.36" height="6.64" fill="#e6391d"/>
<rect x="345.38" y="147.28" width="1.36" height="6.64" fill="#e6391d"/>
<rect x="350.83" y="147.28" width="1.36" height="6.64" fill="#e6391d"/>
<rect x="357.65" y="147.28" width="1.36" height="6.64" fill="#e6391d"/>
<rect x="371.28" y="147.28" width="1.36" height="6.64" fill="#e6391d"/>
<rect x="379.46" y="147.28" width="1.36" height="6.64" fill="#e6391d"/>
<rect x="389" y="147.28" width="1.36" height="6.64" fill="#e6391d"/>
<rect x="391.73" y="147.28" width="1.36" height="6.64" fill="#e6391d"/>
<rect x="395.82" y="147.28" width="4.09" height="6.64" fill="#e6391d"/>
<rect x="416.27" y="147.28" width="1.36" height="6.64" fill="#e6391d"/>
<rect x="423.08" y="147.28" width="1.36" height="6.64" fill="#e6391d"/>
<rect x="427.17" y="147.28" width="2.73" height="6.64" fill="#e6391d"/>
<rect x="442.17" y="147.28" width="1.36" height="6.64" fill="#e6391d"/>
<rect x="448.98" y="147.28" width="1.36" height="6.64" fill="#e6391d"/>
<rect x="89.1" y="147.28" width="362.6" height="6.64" fill="url(#pa)"/>
<line x1="89.1" y1="153.92" x2="451.7" y2="153.92" stroke="#fff" stroke-width="0.5" opacity="0.3"/>
<line x1="89.1" y1="147.28" x2="451.7" y2="147.28" stroke="#fff" stroke-width="0.5" opacity="0.3"/>
<text transform="translate(83.2,152.8) scale(0.9123,1)" font-size="8.3" text-anchor="end"><tspan class="i">TP53</tspan></text>
<rect x="453.3" y="147.28" width="35.7" height="6.64" fill="#fff" stroke="#6d6e71" stroke-width="0.45"/>
<line x1="472.6" y1="147.28" x2="472.6" y2="153.92" stroke="#6d6e71" stroke-width="0.45"/>
<text transform="translate(462.95,152.72) scale(0.9000,1)" font-size="5.9" text-anchor="middle" style="stroke-width:0.05px">38</text>
<text transform="translate(480.8,152.72) scale(0.9000,1)" font-size="5.9" text-anchor="middle" style="stroke-width:0.05px">14</text>
<rect x="89.1" y="161.1" width="1.36" height="6.55" fill="#e6391d"/>
<rect x="97.28" y="161.1" width="1.36" height="6.55" fill="#e6391d"/>
<rect x="106.82" y="161.1" width="1.36" height="6.55" fill="#e6391d"/>
<rect x="110.91" y="161.1" width="1.36" height="6.55" fill="#e6391d"/>
<rect x="117.73" y="161.1" width="1.36" height="6.55" fill="#e6391d"/>
<rect x="124.54" y="161.1" width="1.36" height="6.55" fill="#e6391d"/>
<rect x="128.63" y="161.1" width="1.36" height="6.55" fill="#e6391d"/>
<rect x="138.18" y="161.1" width="2.73" height="6.55" fill="#e6391d"/>
<rect x="146.35" y="161.1" width="1.36" height="6.55" fill="#e6391d"/>
<rect x="161.35" y="161.1" width="1.36" height="6.55" fill="#e6391d"/>
<rect x="164.08" y="161.1" width="1.36" height="6.55" fill="#e6391d"/>
<rect x="166.8" y="161.1" width="1.36" height="6.55" fill="#e6391d"/>
<rect x="174.98" y="161.1" width="2.73" height="6.55" fill="#e6391d"/>
<rect x="179.07" y="161.1" width="2.73" height="6.55" fill="#e6391d"/>
<rect x="192.7" y="161.1" width="1.36" height="6.55" fill="#e6391d"/>
<rect x="195.43" y="161.1" width="1.36" height="6.55" fill="#e6391d"/>
<rect x="200.88" y="161.1" width="1.36" height="6.55" fill="#e6391d"/>
<rect x="203.61" y="161.1" width="1.36" height="6.55" fill="#e6391d"/>
<rect x="207.7" y="161.1" width="1.36" height="6.55" fill="#e6391d"/>
<rect x="219.97" y="161.1" width="1.36" height="6.55" fill="#e6391d"/>
<rect x="225.42" y="161.1" width="1.36" height="6.55" fill="#e6391d"/>
<rect x="237.69" y="161.1" width="1.36" height="6.55" fill="#e6391d"/>
<rect x="241.78" y="161.1" width="1.36" height="6.55" fill="#e6391d"/>
<rect x="255.41" y="161.1" width="1.36" height="6.55" fill="#e6391d"/>
<rect x="278.58" y="161.1" width="1.36" height="6.55" fill="#e6391d"/>
<rect x="286.76" y="161.1" width="4.09" height="6.55" fill="#e6391d"/>
<rect x="293.58" y="161.1" width="1.36" height="6.55" fill="#e6391d"/>
<rect x="296.31" y="161.1" width="2.73" height="6.55" fill="#e6391d"/>
<rect x="300.4" y="161.1" width="1.36" height="6.55" fill="#e6391d"/>
<rect x="305.85" y="161.1" width="1.36" height="6.55" fill="#e6391d"/>
<rect x="311.3" y="161.1" width="1.36" height="6.55" fill="#e6391d"/>
<rect x="314.03" y="161.1" width="1.36" height="6.55" fill="#e6391d"/>
<rect x="319.48" y="161.1" width="2.73" height="6.55" fill="#e6391d"/>
<rect x="324.93" y="161.1" width="1.36" height="6.55" fill="#e6391d"/>
<rect x="327.66" y="161.1" width="1.36" height="6.55" fill="#e6391d"/>
<rect x="330.39" y="161.1" width="1.36" height="6.55" fill="#e6391d"/>
<rect x="334.48" y="161.1" width="1.36" height="6.55" fill="#e6391d"/>
<rect x="337.2" y="161.1" width="1.36" height="6.55" fill="#e6391d"/>
<rect x="339.93" y="161.1" width="1.36" height="6.55" fill="#e6391d"/>
<rect x="342.66" y="161.1" width="1.36" height="6.55" fill="#e6391d"/>
<rect x="345.38" y="161.1" width="1.36" height="6.55" fill="#e6391d"/>
<rect x="353.56" y="161.1" width="4.09" height="6.55" fill="#e6391d"/>
<rect x="361.74" y="161.1" width="1.36" height="6.55" fill="#e6391d"/>
<rect x="364.47" y="161.1" width="8.18" height="6.55" fill="#e6391d"/>
<rect x="378.1" y="161.1" width="1.36" height="6.55" fill="#e6391d"/>
<rect x="380.82" y="161.1" width="1.36" height="6.55" fill="#e6391d"/>
<rect x="383.55" y="161.1" width="1.36" height="6.55" fill="#e6391d"/>
<rect x="386.28" y="161.1" width="1.36" height="6.55" fill="#e6391d"/>
<rect x="389" y="161.1" width="1.36" height="6.55" fill="#e6391d"/>
<rect x="391.73" y="161.1" width="1.36" height="6.55" fill="#e6391d"/>
<rect x="395.82" y="161.1" width="1.36" height="6.55" fill="#e6391d"/>
<rect x="398.55" y="161.1" width="1.36" height="6.55" fill="#e6391d"/>
<rect x="402.64" y="161.1" width="5.45" height="6.55" fill="#e6391d"/>
<rect x="409.45" y="161.1" width="1.36" height="6.55" fill="#e6391d"/>
<rect x="412.18" y="161.1" width="1.36" height="6.55" fill="#e6391d"/>
<rect x="414.9" y="161.1" width="1.36" height="6.55" fill="#e6391d"/>
<rect x="417.63" y="161.1" width="6.82" height="6.55" fill="#e6391d"/>
<rect x="427.17" y="161.1" width="1.36" height="6.55" fill="#e6391d"/>
<rect x="429.9" y="161.1" width="1.36" height="6.55" fill="#e6391d"/>
<rect x="432.63" y="161.1" width="1.36" height="6.55" fill="#e6391d"/>
<rect x="435.35" y="161.1" width="1.36" height="6.55" fill="#e6391d"/>
<rect x="440.81" y="161.1" width="1.36" height="6.55" fill="#e6391d"/>
<rect x="444.9" y="161.1" width="6.82" height="6.55" fill="#e6391d"/>
<rect x="89.1" y="161.1" width="362.6" height="6.55" fill="url(#pa)"/>
<line x1="89.1" y1="167.65" x2="451.7" y2="167.65" stroke="#fff" stroke-width="0.5" opacity="0.3"/>
<line x1="89.1" y1="161.1" x2="451.7" y2="161.1" stroke="#fff" stroke-width="0.5" opacity="0.3"/>
<text transform="translate(83.2,166.4) scale(0.9472,1)" font-size="8.3" text-anchor="end">AR CTG</text>
<rect x="453.3" y="161.1" width="35.7" height="6.55" fill="#fff" stroke="#6d6e71" stroke-width="0.45"/>
<line x1="472.6" y1="161.1" x2="472.6" y2="167.65" stroke="#6d6e71" stroke-width="0.45"/>
<text transform="translate(462.95,166.5) scale(0.9919,1)" font-size="5.9" text-anchor="middle" style="stroke-width:0.05px">88/258</text>
<text transform="translate(480.8,166.5) scale(0.9000,1)" font-size="5.9" text-anchor="middle" style="stroke-width:0.05px">34</text>
<rect x="89.1" y="167.65" width="2.73" height="6.55" fill="#e6391d"/>
<rect x="97.28" y="167.65" width="5.45" height="6.55" fill="#e6391d"/>
<rect x="105.46" y="167.65" width="4.09" height="6.55" fill="#e6391d"/>
<rect x="110.91" y="167.65" width="2.73" height="6.55" fill="#e6391d"/>
<rect x="119.09" y="167.65" width="1.36" height="6.55" fill="#e6391d"/>
<rect x="124.54" y="167.65" width="35.44" height="6.55" fill="#e6391d"/>
<rect x="161.35" y="167.65" width="1.36" height="6.55" fill="#e6391d"/>
<rect x="164.08" y="167.65" width="4.09" height="6.55" fill="#e6391d"/>
<rect x="170.89" y="167.65" width="1.36" height="6.55" fill="#e6391d"/>
<rect x="173.62" y="167.65" width="13.63" height="6.55" fill="#e6391d"/>
<rect x="191.34" y="167.65" width="5.45" height="6.55" fill="#e6391d"/>
<rect x="199.52" y="167.65" width="1.36" height="6.55" fill="#e6391d"/>
<rect x="203.61" y="167.65" width="1.36" height="6.55" fill="#e6391d"/>
<rect x="207.7" y="167.65" width="1.36" height="6.55" fill="#e6391d"/>
<rect x="211.79" y="167.65" width="1.36" height="6.55" fill="#e6391d"/>
<rect x="215.88" y="167.65" width="1.36" height="6.55" fill="#e6391d"/>
<rect x="219.97" y="167.65" width="1.36" height="6.55" fill="#e6391d"/>
<rect x="225.42" y="167.65" width="2.73" height="6.55" fill="#e6391d"/>
<rect x="234.96" y="167.65" width="1.36" height="6.55" fill="#e6391d"/>
<rect x="237.69" y="167.65" width="1.36" height="6.55" fill="#e6391d"/>
<rect x="241.78" y="167.65" width="1.36" height="6.55" fill="#e6391d"/>
<rect x="244.5" y="167.65" width="1.36" height="6.55" fill="#e6391d"/>
<rect x="248.59" y="167.65" width="1.36" height="6.55" fill="#e6391d"/>
<rect x="251.32" y="167.65" width="1.36" height="6.55" fill="#e6391d"/>
<rect x="255.41" y="167.65" width="1.36" height="6.55" fill="#e6391d"/>
<rect x="258.14" y="167.65" width="1.36" height="6.55" fill="#e6391d"/>
<rect x="266.32" y="167.65" width="2.73" height="6.55" fill="#e6391d"/>
<rect x="271.77" y="167.65" width="1.36" height="6.55" fill="#e6391d"/>
<rect x="274.5" y="167.65" width="1.36" height="6.55" fill="#e6391d"/>
<rect x="277.22" y="167.65" width="2.73" height="6.55" fill="#e6391d"/>
<rect x="282.67" y="167.65" width="9.54" height="6.55" fill="#e6391d"/>
<rect x="293.58" y="167.65" width="1.36" height="6.55" fill="#e6391d"/>
<rect x="296.31" y="167.65" width="5.45" height="6.55" fill="#e6391d"/>
<rect x="303.12" y="167.65" width="1.36" height="6.55" fill="#e6391d"/>
<rect x="305.85" y="167.65" width="2.73" height="6.55" fill="#e6391d"/>
<rect x="311.3" y="167.65" width="1.36" height="6.55" fill="#e6391d"/>
<rect x="314.03" y="167.65" width="4.09" height="6.55" fill="#e6391d"/>
<rect x="319.48" y="167.65" width="15" height="6.55" fill="#e6391d"/>
<rect x="335.84" y="167.65" width="1.36" height="6.55" fill="#e6391d"/>
<rect x="339.93" y="167.65" width="8.18" height="6.55" fill="#e6391d"/>
<rect x="349.47" y="167.65" width="1.36" height="6.55" fill="#e6391d"/>
<rect x="352.2" y="167.65" width="8.18" height="6.55" fill="#e6391d"/>
<rect x="363.1" y="167.65" width="1.36" height="6.55" fill="#e6391d"/>
<rect x="365.83" y="167.65" width="1.36" height="6.55" fill="#e6391d"/>
<rect x="368.56" y="167.65" width="5.45" height="6.55" fill="#e6391d"/>
<rect x="376.74" y="167.65" width="5.45" height="6.55" fill="#e6391d"/>
<rect x="383.55" y="167.65" width="4.09" height="6.55" fill="#e6391d"/>
<rect x="390.37" y="167.65" width="2.73" height="6.55" fill="#e6391d"/>
<rect x="394.46" y="167.65" width="29.99" height="6.55" fill="#e6391d"/>
<rect x="427.17" y="167.65" width="5.45" height="6.55" fill="#e6391d"/>
<rect x="433.99" y="167.65" width="2.73" height="6.55" fill="#e6391d"/>
<rect x="438.08" y="167.65" width="5.45" height="6.55" fill="#e6391d"/>
<rect x="446.26" y="167.65" width="5.45" height="6.55" fill="#e6391d"/>
<rect x="89.1" y="167.65" width="362.6" height="6.55" fill="url(#pa)"/>
<line x1="89.1" y1="174.2" x2="451.7" y2="174.2" stroke="#fff" stroke-width="0.5" opacity="0.3"/>
<line x1="89.1" y1="167.65" x2="451.7" y2="167.65" stroke="#fff" stroke-width="0.5" opacity="0.3"/>
<text transform="translate(83.2,173.3) scale(0.9788,1)" font-size="8.3" text-anchor="end">ELN AR</text>
<rect x="453.3" y="167.65" width="35.7" height="6.55" fill="#fff" stroke="#6d6e71" stroke-width="0.45"/>
<line x1="472.6" y1="167.65" x2="472.6" y2="174.2" stroke="#6d6e71" stroke-width="0.45"/>
<text transform="translate(462.95,173.05) scale(0.9000,1)" font-size="5.9" text-anchor="middle" style="stroke-width:0.05px">186</text>
<text transform="translate(480.8,173.05) scale(0.9000,1)" font-size="5.9" text-anchor="middle" style="stroke-width:0.05px">70</text>
<rect x="89.1" y="182" width="4.09" height="6.45" fill="#e6391d"/>
<rect x="94.55" y="182" width="6.82" height="6.45" fill="#e6391d"/>
<rect x="108.18" y="182" width="1.36" height="6.45" fill="#e6391d"/>
<rect x="113.64" y="182" width="1.36" height="6.45" fill="#e6391d"/>
<rect x="116.36" y="182" width="1.36" height="6.45" fill="#e6391d"/>
<rect x="119.09" y="182" width="1.36" height="6.45" fill="#e6391d"/>
<rect x="121.82" y="182" width="1.36" height="6.45" fill="#e6391d"/>
<rect x="124.54" y="182" width="12.27" height="6.45" fill="#e6391d"/>
<rect x="140.9" y="182" width="8.18" height="6.45" fill="#e6391d"/>
<rect x="151.81" y="182" width="2.73" height="6.45" fill="#e6391d"/>
<rect x="157.26" y="182" width="6.82" height="6.45" fill="#e6391d"/>
<rect x="165.44" y="182" width="32.72" height="6.45" fill="#e6391d"/>
<rect x="199.52" y="182" width="1.36" height="6.45" fill="#e6391d"/>
<rect x="202.25" y="182" width="2.73" height="6.45" fill="#e6391d"/>
<rect x="207.7" y="182" width="12.27" height="6.45" fill="#e6391d"/>
<rect x="222.69" y="182" width="59.98" height="6.45" fill="#e6391d"/>
<rect x="289.49" y="182" width="1.36" height="6.45" fill="#e6391d"/>
<rect x="293.58" y="182" width="1.36" height="6.45" fill="#e6391d"/>
<rect x="297.67" y="182" width="4.09" height="6.45" fill="#e6391d"/>
<rect x="303.12" y="182" width="5.45" height="6.45" fill="#e6391d"/>
<rect x="311.3" y="182" width="62.71" height="6.45" fill="#e6391d"/>
<rect x="375.37" y="182" width="2.73" height="6.45" fill="#e6391d"/>
<rect x="379.46" y="182" width="2.73" height="6.45" fill="#e6391d"/>
<rect x="383.55" y="182" width="1.36" height="6.45" fill="#e6391d"/>
<rect x="387.64" y="182" width="1.36" height="6.45" fill="#e6391d"/>
<rect x="390.37" y="182" width="1.36" height="6.45" fill="#e6391d"/>
<rect x="393.09" y="182" width="2.73" height="6.45" fill="#e6391d"/>
<rect x="397.18" y="182" width="6.82" height="6.45" fill="#e6391d"/>
<rect x="405.36" y="182" width="9.54" height="6.45" fill="#e6391d"/>
<rect x="416.27" y="182" width="8.18" height="6.45" fill="#e6391d"/>
<rect x="425.81" y="182" width="2.73" height="6.45" fill="#e6391d"/>
<rect x="429.9" y="182" width="13.63" height="6.45" fill="#e6391d"/>
<rect x="444.9" y="182" width="5.45" height="6.45" fill="#e6391d"/>
<rect x="89.1" y="182" width="362.6" height="6.45" fill="url(#pa)"/>
<line x1="89.1" y1="188.45" x2="451.7" y2="188.45" stroke="#fff" stroke-width="0.5" opacity="0.3"/>
<line x1="89.1" y1="182" x2="451.7" y2="182" stroke="#fff" stroke-width="0.5" opacity="0.3"/>
<text transform="translate(83.2,187.05) scale(0.9765,1)" font-size="8.3" text-anchor="end">LI Therapy</text>
<rect x="453.3" y="182" width="35.7" height="6.45" fill="#fff" stroke="#6d6e71" stroke-width="0.45"/>
<line x1="472.6" y1="182" x2="472.6" y2="188.45" stroke="#6d6e71" stroke-width="0.45"/>
<text transform="translate(462.95,187.35) scale(0.9000,1)" font-size="5.9" text-anchor="middle" style="stroke-width:0.05px">213</text>
<text transform="translate(480.8,187.35) scale(0.9000,1)" font-size="5.9" text-anchor="middle" style="stroke-width:0.05px">80</text>
<rect x="90.46" y="188.45" width="1.36" height="6.45" fill="#e6391d"/>
<rect x="94.55" y="188.45" width="8.18" height="6.45" fill="#e6391d"/>
<rect x="108.18" y="188.45" width="2.73" height="6.45" fill="#e6391d"/>
<rect x="113.64" y="188.45" width="1.36" height="6.45" fill="#e6391d"/>
<rect x="117.73" y="188.45" width="4.09" height="6.45" fill="#e6391d"/>
<rect x="123.18" y="188.45" width="4.09" height="6.45" fill="#e6391d"/>
<rect x="128.63" y="188.45" width="1.36" height="6.45" fill="#e6391d"/>
<rect x="131.36" y="188.45" width="2.73" height="6.45" fill="#e6391d"/>
<rect x="136.81" y="188.45" width="1.36" height="6.45" fill="#e6391d"/>
<rect x="140.9" y="188.45" width="1.36" height="6.45" fill="#e6391d"/>
<rect x="143.63" y="188.45" width="1.36" height="6.45" fill="#e6391d"/>
<rect x="146.35" y="188.45" width="2.73" height="6.45" fill="#e6391d"/>
<rect x="157.26" y="188.45" width="1.36" height="6.45" fill="#e6391d"/>
<rect x="161.35" y="188.45" width="8.18" height="6.45" fill="#e6391d"/>
<rect x="170.89" y="188.45" width="13.63" height="6.45" fill="#e6391d"/>
<rect x="185.89" y="188.45" width="2.73" height="6.45" fill="#e6391d"/>
<rect x="191.34" y="188.45" width="1.36" height="6.45" fill="#e6391d"/>
<rect x="195.43" y="188.45" width="1.36" height="6.45" fill="#e6391d"/>
<rect x="199.52" y="188.45" width="1.36" height="6.45" fill="#e6391d"/>
<rect x="202.25" y="188.45" width="2.73" height="6.45" fill="#e6391d"/>
<rect x="218.6" y="188.45" width="1.36" height="6.45" fill="#e6391d"/>
<rect x="222.69" y="188.45" width="1.36" height="6.45" fill="#e6391d"/>
<rect x="225.42" y="188.45" width="15" height="6.45" fill="#e6391d"/>
<rect x="243.14" y="188.45" width="1.36" height="6.45" fill="#e6391d"/>
<rect x="245.87" y="188.45" width="13.63" height="6.45" fill="#e6391d"/>
<rect x="260.86" y="188.45" width="5.45" height="6.45" fill="#e6391d"/>
<rect x="267.68" y="188.45" width="10.91" height="6.45" fill="#e6391d"/>
<rect x="279.95" y="188.45" width="2.73" height="6.45" fill="#e6391d"/>
<rect x="285.4" y="188.45" width="1.36" height="6.45" fill="#e6391d"/>
<rect x="289.49" y="188.45" width="1.36" height="6.45" fill="#e6391d"/>
<rect x="293.58" y="188.45" width="4.09" height="6.45" fill="#e6391d"/>
<rect x="299.03" y="188.45" width="2.73" height="6.45" fill="#e6391d"/>
<rect x="303.12" y="188.45" width="2.73" height="6.45" fill="#e6391d"/>
<rect x="308.58" y="188.45" width="1.36" height="6.45" fill="#e6391d"/>
<rect x="311.3" y="188.45" width="2.73" height="6.45" fill="#e6391d"/>
<rect x="315.39" y="188.45" width="1.36" height="6.45" fill="#e6391d"/>
<rect x="319.48" y="188.45" width="1.36" height="6.45" fill="#e6391d"/>
<rect x="322.21" y="188.45" width="1.36" height="6.45" fill="#e6391d"/>
<rect x="326.3" y="188.45" width="8.18" height="6.45" fill="#e6391d"/>
<rect x="337.2" y="188.45" width="4.09" height="6.45" fill="#e6391d"/>
<rect x="348.11" y="188.45" width="12.27" height="6.45" fill="#e6391d"/>
<rect x="361.74" y="188.45" width="4.09" height="6.45" fill="#e6391d"/>
<rect x="368.56" y="188.45" width="5.45" height="6.45" fill="#e6391d"/>
<rect x="376.74" y="188.45" width="1.36" height="6.45" fill="#e6391d"/>
<rect x="379.46" y="188.45" width="2.73" height="6.45" fill="#e6391d"/>
<rect x="383.55" y="188.45" width="1.36" height="6.45" fill="#e6391d"/>
<rect x="387.64" y="188.45" width="1.36" height="6.45" fill="#e6391d"/>
<rect x="390.37" y="188.45" width="2.73" height="6.45" fill="#e6391d"/>
<rect x="394.46" y="188.45" width="1.36" height="6.45" fill="#e6391d"/>
<rect x="398.55" y="188.45" width="1.36" height="6.45" fill="#e6391d"/>
<rect x="401.27" y="188.45" width="2.73" height="6.45" fill="#e6391d"/>
<rect x="405.36" y="188.45" width="1.36" height="6.45" fill="#e6391d"/>
<rect x="413.54" y="188.45" width="9.54" height="6.45" fill="#e6391d"/>
<rect x="424.45" y="188.45" width="4.09" height="6.45" fill="#e6391d"/>
<rect x="431.26" y="188.45" width="2.73" height="6.45" fill="#e6391d"/>
<rect x="435.35" y="188.45" width="2.73" height="6.45" fill="#e6391d"/>
<rect x="439.44" y="188.45" width="4.09" height="6.45" fill="#e6391d"/>
<rect x="444.9" y="188.45" width="2.73" height="6.45" fill="#e6391d"/>
<rect x="448.98" y="188.45" width="2.73" height="6.45" fill="#e6391d"/>
<rect x="89.1" y="188.45" width="362.6" height="6.45" fill="url(#pa)"/>
<line x1="89.1" y1="194.9" x2="451.7" y2="194.9" stroke="#fff" stroke-width="0.5" opacity="0.3"/>
<line x1="89.1" y1="188.45" x2="451.7" y2="188.45" stroke="#fff" stroke-width="0.5" opacity="0.3"/>
<text transform="translate(83.2,193.85) scale(0.9551,1)" font-size="8.3" text-anchor="end">VEN</text>
<rect x="453.3" y="188.45" width="35.7" height="6.45" fill="#fff" stroke="#6d6e71" stroke-width="0.45"/>
<line x1="472.6" y1="188.45" x2="472.6" y2="194.9" stroke="#6d6e71" stroke-width="0.45"/>
<text transform="translate(462.95,193.8) scale(0.9000,1)" font-size="5.9" text-anchor="middle" style="stroke-width:0.05px">169</text>
<text transform="translate(480.8,193.8) scale(0.9000,1)" font-size="5.9" text-anchor="middle" style="stroke-width:0.05px">63</text>
<rect x="89.1" y="202.5" width="2.73" height="6.45" fill="#e6391d"/>
<rect x="94.55" y="202.5" width="17.72" height="6.45" fill="#e6391d"/>
<rect x="113.64" y="202.5" width="1.36" height="6.45" fill="#e6391d"/>
<rect x="116.36" y="202.5" width="1.36" height="6.45" fill="#e6391d"/>
<rect x="119.09" y="202.5" width="1.36" height="6.45" fill="#e6391d"/>
<rect x="124.54" y="202.5" width="1.36" height="6.45" fill="#e6391d"/>
<rect x="128.63" y="202.5" width="1.36" height="6.45" fill="#e6391d"/>
<rect x="131.36" y="202.5" width="4.09" height="6.45" fill="#e6391d"/>
<rect x="138.18" y="202.5" width="10.91" height="6.45" fill="#e6391d"/>
<rect x="151.81" y="202.5" width="2.73" height="6.45" fill="#e6391d"/>
<rect x="157.26" y="202.5" width="6.82" height="6.45" fill="#e6391d"/>
<rect x="165.44" y="202.5" width="1.36" height="6.45" fill="#e6391d"/>
<rect x="169.53" y="202.5" width="1.36" height="6.45" fill="#e6391d"/>
<rect x="172.26" y="202.5" width="1.36" height="6.45" fill="#e6391d"/>
<rect x="177.71" y="202.5" width="4.09" height="6.45" fill="#e6391d"/>
<rect x="183.16" y="202.5" width="4.09" height="6.45" fill="#e6391d"/>
<rect x="188.61" y="202.5" width="8.18" height="6.45" fill="#e6391d"/>
<rect x="198.16" y="202.5" width="4.09" height="6.45" fill="#e6391d"/>
<rect x="203.61" y="202.5" width="1.36" height="6.45" fill="#e6391d"/>
<rect x="206.34" y="202.5" width="13.63" height="6.45" fill="#e6391d"/>
<rect x="222.69" y="202.5" width="2.73" height="6.45" fill="#e6391d"/>
<rect x="226.78" y="202.5" width="13.63" height="6.45" fill="#e6391d"/>
<rect x="243.14" y="202.5" width="1.36" height="6.45" fill="#e6391d"/>
<rect x="245.87" y="202.5" width="1.36" height="6.45" fill="#e6391d"/>
<rect x="249.96" y="202.5" width="24.54" height="6.45" fill="#e6391d"/>
<rect x="275.86" y="202.5" width="1.36" height="6.45" fill="#e6391d"/>
<rect x="281.31" y="202.5" width="2.73" height="6.45" fill="#e6391d"/>
<rect x="285.4" y="202.5" width="1.36" height="6.45" fill="#e6391d"/>
<rect x="293.58" y="202.5" width="8.18" height="6.45" fill="#e6391d"/>
<rect x="305.85" y="202.5" width="2.73" height="6.45" fill="#e6391d"/>
<rect x="311.3" y="202.5" width="1.36" height="6.45" fill="#e6391d"/>
<rect x="314.03" y="202.5" width="1.36" height="6.45" fill="#e6391d"/>
<rect x="316.75" y="202.5" width="1.36" height="6.45" fill="#e6391d"/>
<rect x="319.48" y="202.5" width="1.36" height="6.45" fill="#e6391d"/>
<rect x="322.21" y="202.5" width="1.36" height="6.45" fill="#e6391d"/>
<rect x="326.3" y="202.5" width="1.36" height="6.45" fill="#e6391d"/>
<rect x="330.39" y="202.5" width="1.36" height="6.45" fill="#e6391d"/>
<rect x="333.11" y="202.5" width="1.36" height="6.45" fill="#e6391d"/>
<rect x="337.2" y="202.5" width="1.36" height="6.45" fill="#e6391d"/>
<rect x="339.93" y="202.5" width="2.73" height="6.45" fill="#e6391d"/>
<rect x="344.02" y="202.5" width="6.82" height="6.45" fill="#e6391d"/>
<rect x="354.92" y="202.5" width="1.36" height="6.45" fill="#e6391d"/>
<rect x="357.65" y="202.5" width="4.09" height="6.45" fill="#e6391d"/>
<rect x="363.1" y="202.5" width="1.36" height="6.45" fill="#e6391d"/>
<rect x="367.19" y="202.5" width="4.09" height="6.45" fill="#e6391d"/>
<rect x="372.65" y="202.5" width="1.36" height="6.45" fill="#e6391d"/>
<rect x="376.74" y="202.5" width="1.36" height="6.45" fill="#e6391d"/>
<rect x="379.46" y="202.5" width="10.91" height="6.45" fill="#e6391d"/>
<rect x="393.09" y="202.5" width="1.36" height="6.45" fill="#e6391d"/>
<rect x="395.82" y="202.5" width="1.36" height="6.45" fill="#e6391d"/>
<rect x="398.55" y="202.5" width="1.36" height="6.45" fill="#e6391d"/>
<rect x="401.27" y="202.5" width="1.36" height="6.45" fill="#e6391d"/>
<rect x="405.36" y="202.5" width="1.36" height="6.45" fill="#e6391d"/>
<rect x="409.45" y="202.5" width="1.36" height="6.45" fill="#e6391d"/>
<rect x="414.9" y="202.5" width="1.36" height="6.45" fill="#e6391d"/>
<rect x="417.63" y="202.5" width="1.36" height="6.45" fill="#e6391d"/>
<rect x="423.08" y="202.5" width="2.73" height="6.45" fill="#e6391d"/>
<rect x="427.17" y="202.5" width="8.18" height="6.45" fill="#e6391d"/>
<rect x="436.72" y="202.5" width="1.36" height="6.45" fill="#e6391d"/>
<rect x="440.81" y="202.5" width="5.45" height="6.45" fill="#e6391d"/>
<rect x="447.62" y="202.5" width="1.36" height="6.45" fill="#e6391d"/>
<rect x="89.1" y="202.5" width="362.6" height="6.45" fill="url(#pa)"/>
<line x1="89.1" y1="208.95" x2="451.7" y2="208.95" stroke="#fff" stroke-width="0.5" opacity="0.3"/>
<line x1="89.1" y1="202.5" x2="451.7" y2="202.5" stroke="#fff" stroke-width="0.5" opacity="0.3"/>
<text transform="translate(83.2,207.4) scale(0.9109,1)" font-size="8.3" text-anchor="end">ORR</text>
<rect x="453.3" y="202.5" width="35.7" height="6.45" fill="#fff" stroke="#6d6e71" stroke-width="0.45"/>
<line x1="472.6" y1="202.5" x2="472.6" y2="208.95" stroke="#6d6e71" stroke-width="0.45"/>
<text transform="translate(462.95,207.85) scale(0.9000,1)" font-size="5.9" text-anchor="middle" style="stroke-width:0.05px">188</text>
<text transform="translate(480.8,207.85) scale(0.9000,1)" font-size="5.9" text-anchor="middle" style="stroke-width:0.05px">71</text>
<rect x="89.1" y="208.95" width="1.36" height="6.45" fill="#e6391d"/>
<rect x="91.83" y="208.95" width="1.36" height="6.45" fill="#e6391d"/>
<rect x="94.55" y="208.95" width="1.36" height="6.45" fill="#e6391d"/>
<rect x="98.64" y="208.95" width="1.36" height="6.45" fill="#e6391d"/>
<rect x="102.73" y="208.95" width="2.73" height="6.45" fill="#e6391d"/>
<rect x="135.45" y="208.95" width="1.36" height="6.45" fill="#e6391d"/>
<rect x="155.9" y="208.95" width="1.36" height="6.45" fill="#e6391d"/>
<rect x="158.62" y="208.95" width="1.36" height="6.45" fill="#e6391d"/>
<rect x="184.52" y="208.95" width="1.36" height="6.45" fill="#e6391d"/>
<rect x="187.25" y="208.95" width="1.36" height="6.45" fill="#e6391d"/>
<rect x="199.52" y="208.95" width="1.36" height="6.45" fill="#e6391d"/>
<rect x="203.61" y="208.95" width="1.36" height="6.45" fill="#e6391d"/>
<rect x="206.34" y="208.95" width="1.36" height="6.45" fill="#e6391d"/>
<rect x="225.42" y="208.95" width="1.36" height="6.45" fill="#e6391d"/>
<rect x="230.87" y="208.95" width="1.36" height="6.45" fill="#e6391d"/>
<rect x="260.86" y="208.95" width="1.36" height="6.45" fill="#e6391d"/>
<rect x="264.95" y="208.95" width="1.36" height="6.45" fill="#e6391d"/>
<rect x="269.04" y="208.95" width="1.36" height="6.45" fill="#e6391d"/>
<rect x="275.86" y="208.95" width="1.36" height="6.45" fill="#e6391d"/>
<rect x="281.31" y="208.95" width="2.73" height="6.45" fill="#e6391d"/>
<rect x="285.4" y="208.95" width="1.36" height="6.45" fill="#e6391d"/>
<rect x="293.58" y="208.95" width="1.36" height="6.45" fill="#e6391d"/>
<rect x="296.31" y="208.95" width="1.36" height="6.45" fill="#e6391d"/>
<rect x="305.85" y="208.95" width="2.73" height="6.45" fill="#e6391d"/>
<rect x="314.03" y="208.95" width="1.36" height="6.45" fill="#e6391d"/>
<rect x="322.21" y="208.95" width="1.36" height="6.45" fill="#e6391d"/>
<rect x="326.3" y="208.95" width="1.36" height="6.45" fill="#e6391d"/>
<rect x="339.93" y="208.95" width="1.36" height="6.45" fill="#e6391d"/>
<rect x="349.47" y="208.95" width="2.73" height="6.45" fill="#e6391d"/>
<rect x="354.92" y="208.95" width="1.36" height="6.45" fill="#e6391d"/>
<rect x="359.01" y="208.95" width="2.73" height="6.45" fill="#e6391d"/>
<rect x="372.65" y="208.95" width="1.36" height="6.45" fill="#e6391d"/>
<rect x="379.46" y="208.95" width="1.36" height="6.45" fill="#e6391d"/>
<rect x="383.55" y="208.95" width="1.36" height="6.45" fill="#e6391d"/>
<rect x="393.09" y="208.95" width="1.36" height="6.45" fill="#e6391d"/>
<rect x="417.63" y="208.95" width="1.36" height="6.45" fill="#e6391d"/>
<rect x="427.17" y="208.95" width="1.36" height="6.45" fill="#e6391d"/>
<rect x="443.53" y="208.95" width="1.36" height="6.45" fill="#e6391d"/>
<rect x="89.1" y="208.95" width="362.6" height="6.45" fill="url(#pa)"/>
<line x1="89.1" y1="215.4" x2="451.7" y2="215.4" stroke="#fff" stroke-width="0.5" opacity="0.3"/>
<line x1="89.1" y1="208.95" x2="451.7" y2="208.95" stroke="#fff" stroke-width="0.5" opacity="0.3"/>
<text transform="translate(83.2,214.7) scale(0.9337,1)" font-size="8.3" text-anchor="end">SCT</text>
<rect x="453.3" y="208.95" width="35.7" height="6.45" fill="#fff" stroke="#6d6e71" stroke-width="0.45"/>
<line x1="472.6" y1="208.95" x2="472.6" y2="215.4" stroke="#6d6e71" stroke-width="0.45"/>
<text transform="translate(462.95,214.3) scale(0.9000,1)" font-size="5.9" text-anchor="middle" style="stroke-width:0.05px">45</text>
<text transform="translate(480.8,214.3) scale(0.9000,1)" font-size="5.9" text-anchor="middle" style="stroke-width:0.05px">17</text>
<line x1="472.6" y1="31.8" x2="472.6" y2="215.4" stroke="#6d6e71" stroke-width="0.45"/>
<rect x="88.2" y="273.2" width="365.1" height="8.5" fill="#e6e6e8"/>
<rect x="88.2" y="289.6" width="365.1" height="17.2" fill="#e6e6e8"/>
<rect x="88.2" y="313.9" width="365.1" height="70.08" fill="#e6e6e8"/>
<rect x="88.2" y="391.6" width="365.1" height="17.7" fill="#e6e6e8"/>
<rect x="88.2" y="416.8" width="365.1" height="17.2" fill="#e6e6e8"/>
<rect x="88.2" y="441.9" width="365.1" height="17.3" fill="#e6e6e8"/>
<text transform="translate(81.6,280.35) scale(1.0330,1)" font-size="8.3" text-anchor="end">SF<tspan font-size="5.6" dy="-2.8">mut</tspan></text>
<rect x="455.2" y="273.2" width="34.8" height="8.5" fill="#fff" stroke="#6d6e71" stroke-width="0.45"/>
<line x1="475.9" y1="273.2" x2="475.9" y2="281.7" stroke="#6d6e71" stroke-width="0.45"/>
<text transform="translate(465.55,279.57) scale(0.9000,1)" font-size="5.9" text-anchor="middle" style="stroke-width:0.05px">0</text>
<text transform="translate(482.95,279.57) scale(0.9000,1)" font-size="5.9" text-anchor="middle" style="stroke-width:0.05px">0</text>
<rect x="214.49" y="289.6" width="238.8" height="9" fill="#3b2e8c"/>
<text transform="translate(81.6,296.8) scale(0.9805,1)" font-size="8.3" text-anchor="end">Age≥60</text>
<rect x="455.2" y="289.6" width="34.8" height="8.6" fill="#fff" stroke="#6d6e71" stroke-width="0.45"/>
<line x1="475.9" y1="289.6" x2="475.9" y2="298.2" stroke="#6d6e71" stroke-width="0.45"/>
<text transform="translate(465.55,296.02) scale(0.9000,1)" font-size="5.9" text-anchor="middle" style="stroke-width:0.05px">433</text>
<text transform="translate(482.95,296.02) scale(0.9000,1)" font-size="5.9" text-anchor="middle" style="stroke-width:0.05px">65</text>
<rect x="127.91" y="298.2" width="86.59" height="8.6" fill="#3b2e8c"/>
<rect x="335.82" y="298.2" width="117.47" height="8.6" fill="#3b2e8c"/>
<text transform="translate(81.6,305.4) scale(1.0094,1)" font-size="8.3" text-anchor="end">De novo AML</text>
<rect x="455.2" y="298.2" width="34.8" height="8.6" fill="#fff" stroke="#6d6e71" stroke-width="0.45"/>
<line x1="475.9" y1="298.2" x2="475.9" y2="306.8" stroke="#6d6e71" stroke-width="0.45"/>
<text transform="translate(465.55,304.62) scale(0.9000,1)" font-size="5.9" text-anchor="middle" style="stroke-width:0.05px">369</text>
<text transform="translate(482.95,304.62) scale(0.9000,1)" font-size="5.9" text-anchor="middle" style="stroke-width:0.05px">56</text>
<rect x="91.33" y="313.9" width="1.97" height="9.16" fill="#3b2e8c"/>
<rect x="99.37" y="313.9" width="0.83" height="8.76" fill="#3b2e8c" opacity="0.95"/>
<rect x="100.67" y="313.9" width="0.21" height="8.76" fill="#3b2e8c" opacity="0.95"/>
<rect x="101.64" y="313.9" width="1.21" height="8.76" fill="#3b2e8c" opacity="0.3"/>
<rect x="103.92" y="313.9" width="2.27" height="9.16" fill="#3b2e8c"/>
<rect x="107.71" y="313.9" width="0.83" height="8.76" fill="#3b2e8c" opacity="0.95"/>
<rect x="109.98" y="313.9" width="0.85" height="8.76" fill="#3b2e8c" opacity="0.95"/>
<rect x="111.55" y="313.9" width="0.63" height="8.76" fill="#3b2e8c" opacity="0.95"/>
<rect x="113.01" y="313.9" width="1.97" height="9.16" fill="#3b2e8c"/>
<rect x="130.14" y="313.9" width="1.82" height="9.16" fill="#3b2e8c"/>
<rect x="134.23" y="313.9" width="0.9" height="8.76" fill="#3b2e8c" opacity="0.95"/>
<rect x="135.69" y="313.9" width="0.77" height="8.76" fill="#3b2e8c" opacity="0.95"/>
<rect x="140.3" y="313.9" width="0.57" height="8.76" fill="#3b2e8c" opacity="0.95"/>
<rect x="141.25" y="313.9" width="0.56" height="8.76" fill="#3b2e8c" opacity="0.95"/>
<rect x="144.09" y="313.9" width="1.21" height="8.76" fill="#3b2e8c" opacity="0.3"/>
<rect x="147.88" y="313.9" width="0.97" height="8.76" fill="#3b2e8c" opacity="0.95"/>
<rect x="149.51" y="313.9" width="0.6" height="8.76" fill="#3b2e8c" opacity="0.95"/>
<rect x="151.67" y="313.9" width="0.79" height="8.76" fill="#3b2e8c" opacity="0.6499999999999999"/>
<rect x="154.7" y="313.9" width="0.78" height="8.76" fill="#3b2e8c" opacity="0.95"/>
<rect x="156.04" y="313.9" width="0.47" height="8.76" fill="#3b2e8c" opacity="0.95"/>
<rect x="158.49" y="313.9" width="1.52" height="9.16" fill="#3b2e8c"/>
<rect x="160" y="313.9" width="0.73" height="8.76" fill="#3b2e8c" opacity="0.95"/>
<rect x="220.61" y="313.9" width="1.52" height="9.16" fill="#3b2e8c"/>
<rect x="223.64" y="313.9" width="1.21" height="8.76" fill="#3b2e8c" opacity="0.6"/>
<rect x="228.94" y="313.9" width="1.06" height="9.16" fill="#3b2e8c"/>
<rect x="235.27" y="313.9" width="0.64" height="8.76" fill="#3b2e8c" opacity="0.95"/>
<rect x="236.39" y="313.9" width="0.39" height="8.76" fill="#3b2e8c" opacity="0.95"/>
<rect x="240.58" y="313.9" width="0.61" height="8.76" fill="#3b2e8c" opacity="0.95"/>
<rect x="241.7" y="313.9" width="0.39" height="8.76" fill="#3b2e8c" opacity="0.95"/>
<rect x="247.39" y="313.9" width="1.52" height="9.16" fill="#3b2e8c"/>
<rect x="251.18" y="313.9" width="0.67" height="8.76" fill="#3b2e8c" opacity="0.95"/>
<rect x="252.28" y="313.9" width="0.42" height="8.76" fill="#3b2e8c" opacity="0.95"/>
<rect x="258" y="313.9" width="0.74" height="8.76" fill="#3b2e8c" opacity="0.95"/>
<rect x="259.29" y="313.9" width="0.68" height="8.76" fill="#3b2e8c" opacity="0.95"/>
<rect x="260.58" y="313.9" width="1.52" height="9.16" fill="#3b2e8c"/>
<rect x="263.3" y="313.9" width="0.65" height="8.76" fill="#3b2e8c" opacity="0.6499999999999999"/>
<rect x="267.55" y="313.9" width="1.21" height="8.76" fill="#3b2e8c" opacity="0.3"/>
<rect x="273.91" y="313.9" width="1.82" height="9.16" fill="#3b2e8c"/>
<rect x="280.27" y="313.9" width="0.97" height="8.76" fill="#3b2e8c" opacity="0.95"/>
<rect x="288.3" y="313.9" width="0.65" height="8.76" fill="#3b2e8c" opacity="0.95"/>
<rect x="289.46" y="313.9" width="0.73" height="8.76" fill="#3b2e8c" opacity="0.95"/>
<rect x="290.59" y="313.9" width="0.61" height="8.76" fill="#3b2e8c" opacity="0.95"/>
<rect x="295.88" y="313.9" width="0.91" height="8.76" fill="#3b2e8c" opacity="0.95"/>
<rect x="298.15" y="313.9" width="1.82" height="9.16" fill="#3b2e8c"/>
<rect x="306.76" y="313.9" width="1.52" height="9.16" fill="#3b2e8c"/>
<rect x="336" y="313.9" width="1.21" height="8.76" fill="#3b2e8c" opacity="0.6"/>
<rect x="340.09" y="313.9" width="1.97" height="9.16" fill="#3b2e8c"/>
<rect x="344.64" y="313.9" width="2.27" height="9.16" fill="#3b2e8c"/>
<rect x="350.24" y="313.9" width="0.76" height="8.76" fill="#3b2e8c" opacity="0.95"/>
<rect x="351.53" y="313.9" width="0.23" height="8.76" fill="#3b2e8c" opacity="0.95"/>
<rect x="361.3" y="313.9" width="0.71" height="8.76" fill="#3b2e8c" opacity="0.95"/>
<rect x="362.52" y="313.9" width="0.29" height="8.76" fill="#3b2e8c" opacity="0.95"/>
<rect x="368.12" y="313.9" width="0.76" height="8.76" fill="#3b2e8c" opacity="0.6499999999999999"/>
<rect x="370.44" y="313.9" width="0.8" height="8.76" fill="#3b2e8c" opacity="0.6499999999999999"/>
<rect x="384.3" y="313.9" width="3.03" height="9.16" fill="#3b2e8c"/>
<rect x="388.39" y="313.9" width="1.21" height="8.76" fill="#3b2e8c" opacity="0.6"/>
<rect x="408.09" y="313.9" width="1.21" height="8.76" fill="#3b2e8c" opacity="0.6"/>
<rect x="92.53" y="313.9" width="0.33" height="8.76" fill="#e6e6e8" opacity="0.76"/>
<rect x="105.3" y="313.9" width="0.37" height="8.76" fill="#e6e6e8" opacity="0.52"/>
<rect x="113.95" y="313.9" width="0.39" height="8.76" fill="#e6e6e8" opacity="0.53"/>
<rect x="385.31" y="313.9" width="0.34" height="8.76" fill="#e6e6e8" opacity="0.75"/>
<text transform="translate(81.6,321.18) scale(0.9287,1)" font-size="8.3" text-anchor="end"><tspan class="i">ASXL 1</tspan></text>
<rect x="455.2" y="313.9" width="34.8" height="8.76" fill="#fff" stroke="#6d6e71" stroke-width="0.45"/>
<line x1="475.9" y1="313.9" x2="475.9" y2="322.66" stroke="#6d6e71" stroke-width="0.45"/>
<text transform="translate(465.55,320.4) scale(0.9000,1)" font-size="5.9" text-anchor="middle" style="stroke-width:0.05px">66</text>
<text transform="translate(482.95,320.4) scale(0.9000,1)" font-size="5.9" text-anchor="middle" style="stroke-width:0.05px">10</text>
<rect x="106.19" y="322.66" width="0.63" height="8.76" fill="#3b2e8c" opacity="0.95"/>
<rect x="107.24" y="322.66" width="0.71" height="8.76" fill="#3b2e8c" opacity="0.95"/>
<rect x="119.83" y="322.66" width="0.67" height="8.76" fill="#3b2e8c" opacity="0.95"/>
<rect x="121.06" y="322.66" width="0.29" height="8.76" fill="#3b2e8c" opacity="0.95"/>
<rect x="125.9" y="322.66" width="0.86" height="8.76" fill="#3b2e8c" opacity="0.95"/>
<rect x="127.34" y="322.66" width="0.6" height="8.76" fill="#3b2e8c" opacity="0.95"/>
<rect x="131.2" y="322.66" width="3.03" height="9.16" fill="#3b2e8c"/>
<rect x="134.99" y="322.66" width="0.59" height="8.76" fill="#3b2e8c" opacity="0.6499999999999999"/>
<rect x="141.81" y="322.66" width="0.86" height="8.76" fill="#3b2e8c" opacity="0.95"/>
<rect x="143.35" y="322.66" width="0.83" height="8.76" fill="#3b2e8c" opacity="0.95"/>
<rect x="144.69" y="322.66" width="0.73" height="8.76" fill="#3b2e8c" opacity="0.95"/>
<rect x="145.88" y="322.66" width="0.48" height="8.76" fill="#3b2e8c" opacity="0.95"/>
<rect x="160" y="322.66" width="0.95" height="8.76" fill="#3b2e8c" opacity="0.95"/>
<rect x="161.4" y="322.66" width="0.64" height="8.76" fill="#3b2e8c" opacity="0.95"/>
<rect x="162.27" y="322.66" width="3.79" height="9.16" fill="#3b2e8c"/>
<rect x="166.82" y="322.66" width="2.27" height="9.16" fill="#3b2e8c"/>
<rect x="170.3" y="322.66" width="0.96" height="8.76" fill="#3b2e8c" opacity="0.95"/>
<rect x="171.9" y="322.66" width="0.23" height="8.76" fill="#3b2e8c" opacity="0.95"/>
<rect x="172.88" y="322.66" width="2.27" height="9.16" fill="#3b2e8c"/>
<rect x="176.36" y="322.66" width="0.66" height="8.76" fill="#3b2e8c" opacity="0.95"/>
<rect x="177.45" y="322.66" width="0.43" height="8.76" fill="#3b2e8c" opacity="0.95"/>
<rect x="180.45" y="322.66" width="5.3" height="9.16" fill="#3b2e8c"/>
<rect x="187.27" y="322.66" width="0.89" height="8.76" fill="#3b2e8c" opacity="0.95"/>
<rect x="189.55" y="322.66" width="0.71" height="8.76" fill="#3b2e8c" opacity="0.95"/>
<rect x="190.67" y="322.66" width="0.39" height="8.76" fill="#3b2e8c" opacity="0.95"/>
<rect x="192.58" y="322.66" width="0.85" height="8.76" fill="#3b2e8c" opacity="0.95"/>
<rect x="195.61" y="322.66" width="0.63" height="8.76" fill="#3b2e8c" opacity="0.95"/>
<rect x="196.63" y="322.66" width="0.49" height="8.76" fill="#3b2e8c" opacity="0.95"/>
<rect x="199.7" y="322.66" width="1.97" height="9.16" fill="#3b2e8c"/>
<rect x="203.18" y="322.66" width="0.61" height="8.76" fill="#3b2e8c" opacity="0.95"/>
<rect x="204.18" y="322.66" width="0.51" height="8.76" fill="#3b2e8c" opacity="0.95"/>
<rect x="208.79" y="322.66" width="1.97" height="9.16" fill="#3b2e8c"/>
<rect x="211.52" y="322.66" width="2.27" height="9.16" fill="#3b2e8c"/>
<rect x="240.88" y="322.66" width="1.21" height="8.76" fill="#3b2e8c" opacity="0.6"/>
<rect x="259.52" y="322.66" width="0.64" height="8.76" fill="#3b2e8c" opacity="0.95"/>
<rect x="260.52" y="322.66" width="0.51" height="8.76" fill="#3b2e8c" opacity="0.95"/>
<rect x="280.27" y="322.66" width="1.21" height="8.76" fill="#3b2e8c" opacity="0.6"/>
<rect x="297.39" y="322.66" width="1.21" height="8.76" fill="#3b2e8c" opacity="0.6"/>
<rect x="313.88" y="322.66" width="1.21" height="8.76" fill="#3b2e8c" opacity="0.6"/>
<rect x="333.27" y="322.66" width="0.62" height="8.76" fill="#3b2e8c" opacity="0.95"/>
<rect x="334.22" y="322.66" width="0.57" height="8.76" fill="#3b2e8c" opacity="0.95"/>
<rect x="340.55" y="322.66" width="1.21" height="8.76" fill="#3b2e8c" opacity="0.6"/>
<rect x="343.12" y="322.66" width="1.21" height="8.76" fill="#3b2e8c" opacity="0.6"/>
<rect x="353.27" y="322.66" width="0.78" height="8.76" fill="#3b2e8c" opacity="0.95"/>
<rect x="354.47" y="322.66" width="0.31" height="8.76" fill="#3b2e8c" opacity="0.95"/>
<rect x="359.03" y="322.66" width="1.21" height="8.76" fill="#3b2e8c" opacity="0.6"/>
<rect x="365.09" y="322.66" width="1.82" height="9.16" fill="#3b2e8c"/>
<rect x="370.39" y="322.66" width="0.99" height="8.76" fill="#3b2e8c" opacity="0.95"/>
<rect x="376" y="322.66" width="0.6" height="8.76" fill="#3b2e8c" opacity="0.95"/>
<rect x="377.1" y="322.66" width="0.41" height="8.76" fill="#3b2e8c" opacity="0.95"/>
<rect x="380.21" y="322.66" width="1.21" height="8.76" fill="#3b2e8c" opacity="0.6"/>
<rect x="391.88" y="322.66" width="0.99" height="8.76" fill="#3b2e8c" opacity="0.95"/>
<rect x="394.91" y="322.66" width="0.88" height="8.76" fill="#3b2e8c" opacity="0.95"/>
<rect x="396.35" y="322.66" width="0.64" height="8.76" fill="#3b2e8c" opacity="0.95"/>
<rect x="397.94" y="322.66" width="0.6" height="8.76" fill="#3b2e8c" opacity="0.95"/>
<rect x="398.87" y="322.66" width="0.72" height="8.76" fill="#3b2e8c" opacity="0.95"/>
<rect x="399.94" y="322.66" width="0.73" height="8.76" fill="#3b2e8c" opacity="0.95"/>
<rect x="401.73" y="322.66" width="0.86" height="8.76" fill="#3b2e8c" opacity="0.95"/>
<rect x="404" y="322.66" width="0.83" height="8.76" fill="#3b2e8c" opacity="0.95"/>
<rect x="405.38" y="322.66" width="0.61" height="8.76" fill="#3b2e8c" opacity="0.95"/>
<rect x="406.43" y="322.66" width="0.6" height="8.76" fill="#3b2e8c" opacity="0.95"/>
<rect x="408.55" y="322.66" width="0.96" height="8.76" fill="#3b2e8c" opacity="0.95"/>
<rect x="410.82" y="322.66" width="3.03" height="9.16" fill="#3b2e8c"/>
<rect x="419.61" y="322.66" width="1.21" height="8.76" fill="#3b2e8c" opacity="0.6"/>
<rect x="429" y="322.66" width="3.33" height="9.16" fill="#3b2e8c"/>
<rect x="432.33" y="322.66" width="0.81" height="8.76" fill="#3b2e8c" opacity="0.95"/>
<rect x="433.76" y="322.66" width="0.74" height="8.76" fill="#3b2e8c" opacity="0.95"/>
<rect x="437.33" y="322.66" width="0.87" height="8.76" fill="#3b2e8c" opacity="0.95"/>
<rect x="439.61" y="322.66" width="0.9" height="8.76" fill="#3b2e8c" opacity="0.95"/>
<rect x="441.18" y="322.66" width="0.7" height="8.76" fill="#3b2e8c" opacity="0.95"/>
<rect x="442.64" y="322.66" width="0.84" height="8.76" fill="#3b2e8c" opacity="0.95"/>
<rect x="444.02" y="322.66" width="0.69" height="8.76" fill="#3b2e8c" opacity="0.95"/>
<rect x="445.21" y="322.66" width="0.59" height="8.76" fill="#3b2e8c" opacity="0.95"/>
<rect x="446.18" y="322.66" width="0.9" height="8.76" fill="#3b2e8c" opacity="0.95"/>
<rect x="132.62" y="322.66" width="0.38" height="8.76" fill="#e6e6e8" opacity="0.89"/>
<rect x="163.95" y="322.66" width="0.36" height="8.76" fill="#e6e6e8" opacity="0.56"/>
<rect x="165.36" y="322.66" width="0.36" height="8.76" fill="#e6e6e8" opacity="0.83"/>
<rect x="168.24" y="322.66" width="0.43" height="8.76" fill="#e6e6e8" opacity="0.65"/>
<rect x="173.84" y="322.66" width="0.31" height="8.76" fill="#e6e6e8" opacity="0.58"/>
<rect x="181.74" y="322.66" width="0.36" height="8.76" fill="#e6e6e8" opacity="0.73"/>
<rect x="183.59" y="322.66" width="0.36" height="8.76" fill="#e6e6e8" opacity="0.82"/>
<rect x="200.82" y="322.66" width="0.41" height="8.76" fill="#e6e6e8" opacity="0.71"/>
<rect x="212.67" y="322.66" width="0.5" height="8.76" fill="#e6e6e8" opacity="0.55"/>
<rect x="412.4" y="322.66" width="0.33" height="8.76" fill="#e6e6e8" opacity="0.70"/>
<rect x="430.5" y="322.66" width="0.45" height="8.76" fill="#e6e6e8" opacity="0.73"/>
<text transform="translate(81.6,329.94) scale(0.9293,1)" font-size="8.3" text-anchor="end"><tspan class="i">FLT3</tspan> ITD</text>
<rect x="455.2" y="322.66" width="34.8" height="8.76" fill="#fff" stroke="#6d6e71" stroke-width="0.45"/>
<line x1="475.9" y1="322.66" x2="475.9" y2="331.42" stroke="#6d6e71" stroke-width="0.45"/>
<text transform="translate(465.55,329.16) scale(0.9000,1)" font-size="5.9" text-anchor="middle" style="stroke-width:0.05px">100</text>
<text transform="translate(482.95,329.16) scale(0.9000,1)" font-size="5.9" text-anchor="middle" style="stroke-width:0.05px">15</text>
<rect x="88.2" y="331.42" width="1.32" height="8.76" fill="#3b2e8c" opacity="0.6"/>
<rect x="104.37" y="331.42" width="0.93" height="8.76" fill="#3b2e8c" opacity="0.95"/>
<rect x="105.86" y="331.42" width="0.93" height="8.76" fill="#3b2e8c" opacity="0.95"/>
<rect x="131.96" y="331.42" width="0.72" height="8.76" fill="#3b2e8c" opacity="0.6499999999999999"/>
<rect x="144.09" y="331.42" width="0.74" height="8.76" fill="#3b2e8c" opacity="0.95"/>
<rect x="145.23" y="331.42" width="0.37" height="8.76" fill="#3b2e8c" opacity="0.95"/>
<rect x="150.15" y="331.42" width="0.68" height="8.76" fill="#3b2e8c" opacity="0.6499999999999999"/>
<rect x="167.27" y="331.42" width="0.69" height="8.76" fill="#3b2e8c" opacity="0.95"/>
<rect x="168.41" y="331.42" width="0.38" height="8.76" fill="#3b2e8c" opacity="0.95"/>
<rect x="172.88" y="331.42" width="0.85" height="8.76" fill="#3b2e8c" opacity="0.6499999999999999"/>
<rect x="179.39" y="331.42" width="0.97" height="8.76" fill="#3b2e8c" opacity="0.95"/>
<rect x="184.24" y="331.42" width="0.58" height="8.76" fill="#3b2e8c" opacity="0.6499999999999999"/>
<rect x="197.12" y="331.42" width="0.96" height="8.76" fill="#3b2e8c" opacity="0.95"/>
<rect x="210" y="331.42" width="1.21" height="8.76" fill="#3b2e8c" opacity="0.6"/>
<rect x="269.06" y="331.42" width="1.21" height="9.16" fill="#3b2e8c"/>
<rect x="273.91" y="331.42" width="0.61" height="8.76" fill="#3b2e8c" opacity="0.95"/>
<rect x="275.01" y="331.42" width="0.41" height="8.76" fill="#3b2e8c" opacity="0.95"/>
<rect x="276.18" y="331.42" width="0.56" height="8.76" fill="#3b2e8c" opacity="0.95"/>
<rect x="277.21" y="331.42" width="0.85" height="8.76" fill="#3b2e8c" opacity="0.95"/>
<rect x="284.21" y="331.42" width="1.82" height="9.16" fill="#3b2e8c"/>
<rect x="291.33" y="331.42" width="1.52" height="9.16" fill="#3b2e8c"/>
<rect x="294.82" y="331.42" width="0.6" height="8.76" fill="#3b2e8c" opacity="0.95"/>
<rect x="295.73" y="331.42" width="0.61" height="8.76" fill="#3b2e8c" opacity="0.95"/>
<rect x="300.88" y="331.42" width="0.71" height="8.76" fill="#3b2e8c" opacity="0.6499999999999999"/>
<rect x="308.27" y="331.42" width="0.96" height="8.76" fill="#3b2e8c" opacity="0.95"/>
<rect x="309.98" y="331.42" width="0.63" height="8.76" fill="#3b2e8c" opacity="0.95"/>
<rect x="313.88" y="331.42" width="1.21" height="8.76" fill="#3b2e8c" opacity="0.6"/>
<rect x="322.36" y="331.42" width="0.82" height="8.76" fill="#3b2e8c" opacity="0.95"/>
<rect x="324.48" y="331.42" width="1.21" height="8.76" fill="#3b2e8c" opacity="0.6"/>
<rect x="343.12" y="331.42" width="1.97" height="9.16" fill="#3b2e8c"/>
<rect x="359.03" y="331.42" width="0.85" height="8.76" fill="#3b2e8c" opacity="0.95"/>
<rect x="393.39" y="331.42" width="0.9" height="8.76" fill="#3b2e8c" opacity="0.95"/>
<rect x="397.18" y="331.42" width="0.64" height="8.76" fill="#3b2e8c" opacity="0.6499999999999999"/>
<rect x="400.97" y="331.42" width="0.79" height="8.76" fill="#3b2e8c" opacity="0.95"/>
<rect x="405.52" y="331.42" width="0.75" height="8.76" fill="#3b2e8c" opacity="0.6499999999999999"/>
<rect x="408.55" y="331.42" width="0.8" height="8.76" fill="#3b2e8c" opacity="0.6499999999999999"/>
<rect x="411.12" y="331.42" width="0.66" height="8.76" fill="#3b2e8c" opacity="0.95"/>
<rect x="412.12" y="331.42" width="0.52" height="8.76" fill="#3b2e8c" opacity="0.95"/>
<rect x="422.18" y="331.42" width="1.21" height="8.76" fill="#3b2e8c" opacity="0.3"/>
<rect x="427.48" y="331.42" width="0.76" height="8.76" fill="#3b2e8c" opacity="0.95"/>
<rect x="428.64" y="331.42" width="0.36" height="8.76" fill="#3b2e8c" opacity="0.95"/>
<rect x="432.03" y="331.42" width="0.79" height="8.76" fill="#3b2e8c" opacity="0.6499999999999999"/>
<rect x="438.85" y="331.42" width="0.55" height="8.76" fill="#3b2e8c" opacity="0.95"/>
<rect x="439.85" y="331.42" width="0.76" height="8.76" fill="#3b2e8c" opacity="0.95"/>
<rect x="442.64" y="331.42" width="0.85" height="8.76" fill="#3b2e8c" opacity="0.6499999999999999"/>
<rect x="445.67" y="331.42" width="0.72" height="8.76" fill="#3b2e8c" opacity="0.95"/>
<rect x="446.84" y="331.42" width="0.34" height="8.76" fill="#3b2e8c" opacity="0.95"/>
<rect x="449" y="331.42" width="1.21" height="8.76" fill="#3b2e8c" opacity="0.3"/>
<rect x="344.3" y="331.42" width="0.44" height="8.76" fill="#e6e6e8" opacity="0.74"/>
<text transform="translate(81.6,338.7) scale(0.9677,1)" font-size="8.3" text-anchor="end"><tspan class="i">IDH1</tspan></text>
<rect x="455.2" y="331.42" width="34.8" height="8.76" fill="#fff" stroke="#6d6e71" stroke-width="0.45"/>
<line x1="475.9" y1="331.42" x2="475.9" y2="340.18" stroke="#6d6e71" stroke-width="0.45"/>
<text transform="translate(465.55,337.92) scale(0.9000,1)" font-size="5.9" text-anchor="middle" style="stroke-width:0.05px">48</text>
<text transform="translate(482.95,337.92) scale(0.9000,1)" font-size="5.9" text-anchor="middle" style="stroke-width:0.05px">7</text>
<rect x="105.43" y="340.18" width="0.84" height="8.76" fill="#3b2e8c" opacity="0.6499999999999999"/>
<rect x="119.53" y="340.18" width="0.56" height="8.76" fill="#3b2e8c" opacity="0.95"/>
<rect x="120.49" y="340.18" width="0.55" height="8.76" fill="#3b2e8c" opacity="0.95"/>
<rect x="125.9" y="340.18" width="1.82" height="9.16" fill="#3b2e8c"/>
<rect x="130.14" y="340.18" width="1.82" height="9.16" fill="#3b2e8c"/>
<rect x="154.39" y="340.18" width="1.82" height="9.16" fill="#3b2e8c"/>
<rect x="161.52" y="340.18" width="1.82" height="9.16" fill="#3b2e8c"/>
<rect x="165.76" y="340.18" width="0.7" height="8.76" fill="#3b2e8c" opacity="0.6499999999999999"/>
<rect x="168.33" y="340.18" width="0.78" height="8.76" fill="#3b2e8c" opacity="0.95"/>
<rect x="169.63" y="340.18" width="0.95" height="8.76" fill="#3b2e8c" opacity="0.95"/>
<rect x="177.88" y="340.18" width="0.87" height="8.76" fill="#3b2e8c" opacity="0.95"/>
<rect x="181.97" y="340.18" width="0.7" height="8.76" fill="#3b2e8c" opacity="0.6499999999999999"/>
<rect x="185" y="340.18" width="3.03" height="9.16" fill="#3b2e8c"/>
<rect x="191.82" y="340.18" width="0.71" height="8.76" fill="#3b2e8c" opacity="0.6499999999999999"/>
<rect x="194.85" y="340.18" width="0.79" height="8.76" fill="#3b2e8c" opacity="0.95"/>
<rect x="198.64" y="340.18" width="0.64" height="8.76" fill="#3b2e8c" opacity="0.6499999999999999"/>
<rect x="203.18" y="340.18" width="0.74" height="8.76" fill="#3b2e8c" opacity="0.6499999999999999"/>
<rect x="235.27" y="340.18" width="0.92" height="8.76" fill="#3b2e8c" opacity="0.95"/>
<rect x="269.06" y="340.18" width="1.21" height="8.76" fill="#3b2e8c" opacity="0.6"/>
<rect x="291.33" y="340.18" width="1.21" height="8.76" fill="#3b2e8c" opacity="0.6"/>
<rect x="306" y="340.18" width="0.92" height="8.76" fill="#3b2e8c" opacity="0.6499999999999999"/>
<rect x="308.95" y="340.18" width="0.78" height="8.76" fill="#3b2e8c" opacity="0.6499999999999999"/>
<rect x="328.42" y="340.18" width="1.21" height="8.76" fill="#3b2e8c" opacity="0.6"/>
<rect x="330.55" y="340.18" width="1.21" height="8.76" fill="#3b2e8c" opacity="0.6"/>
<rect x="343.12" y="340.18" width="1.21" height="8.76" fill="#3b2e8c" opacity="0.6"/>
<rect x="346.61" y="340.18" width="1.21" height="8.76" fill="#3b2e8c" opacity="0.6"/>
<rect x="357.21" y="340.18" width="1.21" height="8.76" fill="#3b2e8c" opacity="0.6"/>
<rect x="362.06" y="340.18" width="1.21" height="8.76" fill="#3b2e8c" opacity="0.6"/>
<rect x="366.3" y="340.18" width="1.52" height="9.16" fill="#3b2e8c"/>
<rect x="371.91" y="340.18" width="1.21" height="9.16" fill="#3b2e8c"/>
<rect x="376" y="340.18" width="0.78" height="8.76" fill="#3b2e8c" opacity="0.95"/>
<rect x="383.85" y="340.18" width="1.97" height="9.16" fill="#3b2e8c"/>
<rect x="390.36" y="340.18" width="0.84" height="8.76" fill="#3b2e8c" opacity="0.95"/>
<rect x="399.45" y="340.18" width="0.7" height="8.76" fill="#3b2e8c" opacity="0.95"/>
<rect x="400.57" y="340.18" width="0.68" height="8.76" fill="#3b2e8c" opacity="0.95"/>
<rect x="403.24" y="340.18" width="0.84" height="8.76" fill="#3b2e8c" opacity="0.6499999999999999"/>
<rect x="407.03" y="340.18" width="0.57" height="8.76" fill="#3b2e8c" opacity="0.95"/>
<rect x="408.03" y="340.18" width="0.52" height="8.76" fill="#3b2e8c" opacity="0.95"/>
<rect x="410.82" y="340.18" width="0.57" height="8.76" fill="#3b2e8c" opacity="0.95"/>
<rect x="411.73" y="340.18" width="0.55" height="8.76" fill="#3b2e8c" opacity="0.95"/>
<rect x="414.61" y="340.18" width="0.96" height="8.76" fill="#3b2e8c" opacity="0.6499999999999999"/>
<rect x="417.64" y="340.18" width="0.85" height="8.76" fill="#3b2e8c" opacity="0.95"/>
<rect x="419.14" y="340.18" width="0.76" height="8.76" fill="#3b2e8c" opacity="0.95"/>
<rect x="422.18" y="340.18" width="0.83" height="8.76" fill="#3b2e8c" opacity="0.6499999999999999"/>
<rect x="427.48" y="340.18" width="0.86" height="8.76" fill="#3b2e8c" opacity="0.95"/>
<rect x="428.96" y="340.18" width="0.8" height="8.76" fill="#3b2e8c" opacity="0.95"/>
<rect x="431.27" y="340.18" width="0.85" height="8.76" fill="#3b2e8c" opacity="0.95"/>
<rect x="432.68" y="340.18" width="0.87" height="8.76" fill="#3b2e8c" opacity="0.95"/>
<rect x="435.06" y="340.18" width="3.79" height="9.16" fill="#3b2e8c"/>
<rect x="439.61" y="340.18" width="0.63" height="8.76" fill="#3b2e8c" opacity="0.95"/>
<rect x="440.54" y="340.18" width="0.9" height="8.76" fill="#3b2e8c" opacity="0.95"/>
<rect x="443.39" y="340.18" width="0.85" height="8.76" fill="#3b2e8c" opacity="0.95"/>
<rect x="444.76" y="340.18" width="0.92" height="8.76" fill="#3b2e8c" opacity="0.95"/>
<rect x="450.21" y="340.18" width="0.8" height="8.76" fill="#3b2e8c" opacity="0.95"/>
<rect x="451.47" y="340.18" width="0.56" height="8.76" fill="#3b2e8c" opacity="0.95"/>
<rect x="186.31" y="340.18" width="0.47" height="8.76" fill="#e6e6e8" opacity="0.88"/>
<rect x="436.02" y="340.18" width="0.44" height="8.76" fill="#e6e6e8" opacity="0.76"/>
<text transform="translate(81.6,347.46) scale(0.9942,1)" font-size="8.3" text-anchor="end"><tspan class="i">IDH2</tspan></text>
<rect x="455.2" y="340.18" width="34.8" height="8.76" fill="#fff" stroke="#6d6e71" stroke-width="0.45"/>
<line x1="475.9" y1="340.18" x2="475.9" y2="348.94" stroke="#6d6e71" stroke-width="0.45"/>
<text transform="translate(465.55,346.68) scale(0.9000,1)" font-size="5.9" text-anchor="middle" style="stroke-width:0.05px">73</text>
<text transform="translate(482.95,346.68) scale(0.9000,1)" font-size="5.9" text-anchor="middle" style="stroke-width:0.05px">11</text>
<rect x="119.83" y="348.94" width="0.65" height="8.76" fill="#3b2e8c" opacity="0.95"/>
<rect x="120.94" y="348.94" width="0.41" height="8.76" fill="#3b2e8c" opacity="0.95"/>
<rect x="126.65" y="348.94" width="0.62" height="8.76" fill="#3b2e8c" opacity="0.95"/>
<rect x="127.56" y="348.94" width="0.6" height="8.76" fill="#3b2e8c" opacity="0.95"/>
<rect x="132.72" y="348.94" width="0.71" height="8.76" fill="#3b2e8c" opacity="0.95"/>
<rect x="133.79" y="348.94" width="0.44" height="8.76" fill="#3b2e8c" opacity="0.95"/>
<rect x="135.75" y="348.94" width="1.06" height="8.76" fill="#3b2e8c" opacity="0.3"/>
<rect x="161.52" y="348.94" width="0.86" height="8.76" fill="#3b2e8c" opacity="0.6499999999999999"/>
<rect x="163.79" y="348.94" width="3.79" height="9.16" fill="#3b2e8c"/>
<rect x="168.33" y="348.94" width="0.86" height="8.76" fill="#3b2e8c" opacity="0.95"/>
<rect x="171.36" y="348.94" width="3.03" height="9.16" fill="#3b2e8c"/>
<rect x="175.15" y="348.94" width="0.58" height="8.76" fill="#3b2e8c" opacity="0.95"/>
<rect x="176.14" y="348.94" width="0.53" height="8.76" fill="#3b2e8c" opacity="0.95"/>
<rect x="178.94" y="348.94" width="3.03" height="9.16" fill="#3b2e8c"/>
<rect x="182.73" y="348.94" width="3.79" height="9.16" fill="#3b2e8c"/>
<rect x="188.03" y="348.94" width="0.92" height="8.76" fill="#3b2e8c" opacity="0.95"/>
<rect x="189.71" y="348.94" width="0.58" height="8.76" fill="#3b2e8c" opacity="0.95"/>
<rect x="191.82" y="348.94" width="0.96" height="8.76" fill="#3b2e8c" opacity="0.95"/>
<rect x="193.59" y="348.94" width="0.5" height="8.76" fill="#3b2e8c" opacity="0.95"/>
<rect x="195.61" y="348.94" width="0.6" height="8.76" fill="#3b2e8c" opacity="0.95"/>
<rect x="196.49" y="348.94" width="0.93" height="8.76" fill="#3b2e8c" opacity="0.95"/>
<rect x="198.64" y="348.94" width="0.84" height="8.76" fill="#3b2e8c" opacity="0.95"/>
<rect x="200.14" y="348.94" width="0.77" height="8.76" fill="#3b2e8c" opacity="0.95"/>
<rect x="201.67" y="348.94" width="2.27" height="9.16" fill="#3b2e8c"/>
<rect x="204.7" y="348.94" width="0.59" height="8.76" fill="#3b2e8c" opacity="0.95"/>
<rect x="205.59" y="348.94" width="0.89" height="8.76" fill="#3b2e8c" opacity="0.95"/>
<rect x="208.48" y="348.94" width="0.69" height="8.76" fill="#3b2e8c" opacity="0.95"/>
<rect x="209.62" y="348.94" width="0.38" height="8.76" fill="#3b2e8c" opacity="0.95"/>
<rect x="211.21" y="348.94" width="2.58" height="9.16" fill="#3b2e8c"/>
<rect x="233" y="348.94" width="1.21" height="8.76" fill="#3b2e8c" opacity="0.6"/>
<rect x="254.97" y="348.94" width="1.21" height="8.76" fill="#3b2e8c" opacity="0.6"/>
<rect x="276.18" y="348.94" width="1.21" height="8.76" fill="#3b2e8c" opacity="0.6"/>
<rect x="297.39" y="348.94" width="1.06" height="8.76" fill="#3b2e8c" opacity="0.3"/>
<rect x="309.03" y="348.94" width="2.27" height="9.16" fill="#3b2e8c"/>
<rect x="313.88" y="348.94" width="1.21" height="8.76" fill="#3b2e8c" opacity="0.6"/>
<rect x="317.82" y="348.94" width="1.21" height="8.76" fill="#3b2e8c" opacity="0.6"/>
<rect x="321.15" y="348.94" width="0.68" height="8.76" fill="#3b2e8c" opacity="0.95"/>
<rect x="322.34" y="348.94" width="0.72" height="8.76" fill="#3b2e8c" opacity="0.95"/>
<rect x="323.48" y="348.94" width="0.7" height="8.76" fill="#3b2e8c" opacity="0.95"/>
<rect x="325.39" y="348.94" width="3.33" height="9.16" fill="#3b2e8c"/>
<rect x="330.24" y="348.94" width="0.93" height="8.76" fill="#3b2e8c" opacity="0.95"/>
<rect x="332.52" y="348.94" width="3.03" height="9.16" fill="#3b2e8c"/>
<rect x="343.12" y="348.94" width="1.21" height="8.76" fill="#3b2e8c" opacity="0.6"/>
<rect x="359.03" y="348.94" width="1.21" height="8.76" fill="#3b2e8c" opacity="0.6"/>
<rect x="365.09" y="348.94" width="1.21" height="8.76" fill="#3b2e8c" opacity="0.6"/>
<rect x="390.36" y="348.94" width="3.79" height="9.16" fill="#3b2e8c"/>
<rect x="394.91" y="348.94" width="0.56" height="8.76" fill="#3b2e8c" opacity="0.95"/>
<rect x="395.83" y="348.94" width="0.75" height="8.76" fill="#3b2e8c" opacity="0.95"/>
<rect x="397.94" y="348.94" width="3.03" height="9.16" fill="#3b2e8c"/>
<rect x="401.73" y="348.94" width="3.79" height="9.16" fill="#3b2e8c"/>
<rect x="406.27" y="348.94" width="0.71" height="8.76" fill="#3b2e8c" opacity="0.95"/>
<rect x="407.51" y="348.94" width="0.28" height="8.76" fill="#3b2e8c" opacity="0.95"/>
<rect x="408.55" y="348.94" width="14.39" height="9.16" fill="#3b2e8c"/>
<rect x="423.7" y="348.94" width="0.94" height="8.76" fill="#3b2e8c" opacity="0.95"/>
<rect x="425.97" y="348.94" width="3.03" height="9.16" fill="#3b2e8c"/>
<rect x="430.52" y="348.94" width="8.33" height="9.16" fill="#3b2e8c"/>
<rect x="439.61" y="348.94" width="0.92" height="8.76" fill="#3b2e8c" opacity="0.95"/>
<rect x="441.02" y="348.94" width="0.55" height="8.76" fill="#3b2e8c" opacity="0.95"/>
<rect x="441.87" y="348.94" width="0.89" height="8.76" fill="#3b2e8c" opacity="0.95"/>
<rect x="443.53" y="348.94" width="0.55" height="8.76" fill="#3b2e8c" opacity="0.95"/>
<rect x="444.91" y="348.94" width="4.55" height="9.16" fill="#3b2e8c"/>
<rect x="450.21" y="348.94" width="0.77" height="8.76" fill="#3b2e8c" opacity="0.6499999999999999"/>
<rect x="165.43" y="348.94" width="0.36" height="8.76" fill="#e6e6e8" opacity="0.65"/>
<rect x="172.28" y="348.94" width="0.39" height="8.76" fill="#e6e6e8" opacity="0.57"/>
<rect x="179.89" y="348.94" width="0.45" height="8.76" fill="#e6e6e8" opacity="0.55"/>
<rect x="183.98" y="348.94" width="0.47" height="8.76" fill="#e6e6e8" opacity="0.53"/>
<rect x="203.06" y="348.94" width="0.48" height="8.76" fill="#e6e6e8" opacity="0.83"/>
<rect x="212.36" y="348.94" width="0.38" height="8.76" fill="#e6e6e8" opacity="0.64"/>
<rect x="326.43" y="348.94" width="0.34" height="8.76" fill="#e6e6e8" opacity="0.59"/>
<rect x="327.97" y="348.94" width="0.4" height="8.76" fill="#e6e6e8" opacity="0.74"/>
<rect x="333.42" y="348.94" width="0.38" height="8.76" fill="#e6e6e8" opacity="0.65"/>
<rect x="392.12" y="348.94" width="0.44" height="8.76" fill="#e6e6e8" opacity="0.71"/>
<rect x="399.45" y="348.94" width="0.31" height="8.76" fill="#e6e6e8" opacity="0.86"/>
<rect x="403.41" y="348.94" width="0.46" height="8.76" fill="#e6e6e8" opacity="0.66"/>
<rect x="409.54" y="348.94" width="0.43" height="8.76" fill="#e6e6e8" opacity="0.52"/>
<rect x="410.95" y="348.94" width="0.34" height="8.76" fill="#e6e6e8" opacity="0.56"/>
<rect x="412.64" y="348.94" width="0.31" height="8.76" fill="#e6e6e8" opacity="0.50"/>
<rect x="414.04" y="348.94" width="0.32" height="8.76" fill="#e6e6e8" opacity="0.65"/>
<rect x="415.3" y="348.94" width="0.47" height="8.76" fill="#e6e6e8" opacity="0.75"/>
<rect x="416.87" y="348.94" width="0.35" height="8.76" fill="#e6e6e8" opacity="0.64"/>
<rect x="418.59" y="348.94" width="0.32" height="8.76" fill="#e6e6e8" opacity="0.84"/>
<rect x="421.1" y="348.94" width="0.39" height="8.76" fill="#e6e6e8" opacity="0.69"/>
<rect x="426.96" y="348.94" width="0.37" height="8.76" fill="#e6e6e8" opacity="0.61"/>
<rect x="431.56" y="348.94" width="0.3" height="8.76" fill="#e6e6e8" opacity="0.88"/>
<rect x="433.45" y="348.94" width="0.33" height="8.76" fill="#e6e6e8" opacity="0.72"/>
<rect x="434.72" y="348.94" width="0.41" height="8.76" fill="#e6e6e8" opacity="0.89"/>
<rect x="437.14" y="348.94" width="0.44" height="8.76" fill="#e6e6e8" opacity="0.60"/>
<rect x="445.96" y="348.94" width="0.45" height="8.76" fill="#e6e6e8" opacity="0.71"/>
<rect x="448.33" y="348.94" width="0.37" height="8.76" fill="#e6e6e8" opacity="0.59"/>
<text transform="translate(81.6,356.22) scale(0.9800,1)" font-size="8.3" text-anchor="end"><tspan class="i">NPM1</tspan></text>
<rect x="455.2" y="348.94" width="34.8" height="8.76" fill="#fff" stroke="#6d6e71" stroke-width="0.45"/>
<line x1="475.9" y1="348.94" x2="475.9" y2="357.7" stroke="#6d6e71" stroke-width="0.45"/>
<text transform="translate(465.55,355.44) scale(0.9000,1)" font-size="5.9" text-anchor="middle" style="stroke-width:0.05px">146</text>
<text transform="translate(482.95,355.44) scale(0.9000,1)" font-size="5.9" text-anchor="middle" style="stroke-width:0.05px">22</text>
<rect x="88.2" y="357.7" width="0.97" height="8.76" fill="#3b2e8c" opacity="0.95"/>
<rect x="89.77" y="357.7" width="0.96" height="8.76" fill="#3b2e8c" opacity="0.95"/>
<rect x="91.41" y="357.7" width="0.38" height="8.76" fill="#3b2e8c" opacity="0.95"/>
<rect x="99.82" y="357.7" width="2.12" height="9.16" fill="#3b2e8c"/>
<rect x="103.16" y="357.7" width="0.9" height="8.76" fill="#3b2e8c" opacity="0.6499999999999999"/>
<rect x="105.89" y="357.7" width="0.73" height="8.76" fill="#3b2e8c" opacity="0.95"/>
<rect x="108.46" y="357.7" width="1.52" height="9.16" fill="#3b2e8c"/>
<rect x="110.74" y="357.7" width="3.79" height="9.16" fill="#3b2e8c"/>
<rect x="116.04" y="357.7" width="0.92" height="8.76" fill="#3b2e8c" opacity="0.95"/>
<rect x="117.46" y="357.7" width="0.65" height="8.76" fill="#3b2e8c" opacity="0.95"/>
<rect x="121.05" y="357.7" width="4.85" height="9.16" fill="#3b2e8c"/>
<rect x="128.93" y="357.7" width="0.78" height="8.76" fill="#3b2e8c" opacity="0.95"/>
<rect x="130.2" y="357.7" width="0.61" height="8.76" fill="#3b2e8c" opacity="0.95"/>
<rect x="131.14" y="357.7" width="0.88" height="8.76" fill="#3b2e8c" opacity="0.95"/>
<rect x="136.51" y="357.7" width="3.03" height="9.16" fill="#3b2e8c"/>
<rect x="140.3" y="357.7" width="0.57" height="8.76" fill="#3b2e8c" opacity="0.95"/>
<rect x="141.26" y="357.7" width="0.89" height="8.76" fill="#3b2e8c" opacity="0.95"/>
<rect x="143.33" y="357.7" width="2.27" height="9.16" fill="#3b2e8c"/>
<rect x="150.15" y="357.7" width="0.93" height="8.76" fill="#3b2e8c" opacity="0.95"/>
<rect x="151.55" y="357.7" width="0.82" height="8.76" fill="#3b2e8c" opacity="0.95"/>
<rect x="153.94" y="357.7" width="0.83" height="8.76" fill="#3b2e8c" opacity="0.95"/>
<rect x="155.26" y="357.7" width="0.74" height="8.76" fill="#3b2e8c" opacity="0.95"/>
<rect x="157.73" y="357.7" width="0.74" height="8.76" fill="#3b2e8c" opacity="0.95"/>
<rect x="159.01" y="357.7" width="0.75" height="8.76" fill="#3b2e8c" opacity="0.95"/>
<rect x="160" y="357.7" width="2.27" height="9.16" fill="#3b2e8c"/>
<rect x="171.36" y="357.7" width="0.56" height="8.76" fill="#3b2e8c" opacity="0.95"/>
<rect x="172.32" y="357.7" width="0.77" height="8.76" fill="#3b2e8c" opacity="0.95"/>
<rect x="173.53" y="357.7" width="0.87" height="8.76" fill="#3b2e8c" opacity="0.95"/>
<rect x="178.18" y="357.7" width="0.76" height="8.76" fill="#3b2e8c" opacity="0.95"/>
<rect x="179.35" y="357.7" width="0.76" height="8.76" fill="#3b2e8c" opacity="0.95"/>
<rect x="183.48" y="357.7" width="0.61" height="8.76" fill="#3b2e8c" opacity="0.95"/>
<rect x="184.48" y="357.7" width="0.52" height="8.76" fill="#3b2e8c" opacity="0.95"/>
<rect x="190.3" y="357.7" width="0.78" height="8.76" fill="#3b2e8c" opacity="0.6499999999999999"/>
<rect x="198.64" y="357.7" width="3.79" height="9.16" fill="#3b2e8c"/>
<rect x="204.7" y="357.7" width="4.55" height="9.16" fill="#3b2e8c"/>
<rect x="211.52" y="357.7" width="0.84" height="8.76" fill="#3b2e8c" opacity="0.95"/>
<rect x="212.77" y="357.7" width="0.26" height="8.76" fill="#3b2e8c" opacity="0.95"/>
<rect x="217.27" y="357.7" width="0.78" height="8.76" fill="#3b2e8c" opacity="0.95"/>
<rect x="218.43" y="357.7" width="0.35" height="8.76" fill="#3b2e8c" opacity="0.95"/>
<rect x="220.61" y="357.7" width="0.98" height="8.76" fill="#3b2e8c" opacity="0.95"/>
<rect x="222.09" y="357.7" width="0.33" height="8.76" fill="#3b2e8c" opacity="0.95"/>
<rect x="230.45" y="357.7" width="2.58" height="9.16" fill="#3b2e8c"/>
<rect x="236.03" y="357.7" width="0.88" height="8.76" fill="#3b2e8c" opacity="0.95"/>
<rect x="237.61" y="357.7" width="0.64" height="8.76" fill="#3b2e8c" opacity="0.95"/>
<rect x="241.33" y="357.7" width="0.77" height="8.76" fill="#3b2e8c" opacity="0.95"/>
<rect x="244.36" y="357.7" width="0.96" height="8.76" fill="#3b2e8c" opacity="0.95"/>
<rect x="247.39" y="357.7" width="0.9" height="8.76" fill="#3b2e8c" opacity="0.95"/>
<rect x="250.42" y="357.7" width="0.58" height="8.76" fill="#3b2e8c" opacity="0.95"/>
<rect x="251.36" y="357.7" width="0.89" height="8.76" fill="#3b2e8c" opacity="0.95"/>
<rect x="256.03" y="357.7" width="1.52" height="9.16" fill="#3b2e8c"/>
<rect x="264.06" y="357.7" width="0.95" height="8.76" fill="#3b2e8c" opacity="0.95"/>
<rect x="267.55" y="357.7" width="0.92" height="8.76" fill="#3b2e8c" opacity="0.95"/>
<rect x="268.94" y="357.7" width="0.78" height="8.76" fill="#3b2e8c" opacity="0.95"/>
<rect x="270.37" y="357.7" width="0.51" height="8.76" fill="#3b2e8c" opacity="0.95"/>
<rect x="273.91" y="357.7" width="0.78" height="8.76" fill="#3b2e8c" opacity="0.95"/>
<rect x="275.15" y="357.7" width="0.57" height="8.76" fill="#3b2e8c" opacity="0.95"/>
<rect x="288.76" y="357.7" width="0.62" height="8.76" fill="#3b2e8c" opacity="0.95"/>
<rect x="289.9" y="357.7" width="0.37" height="8.76" fill="#3b2e8c" opacity="0.95"/>
<rect x="293.61" y="357.7" width="1.82" height="9.16" fill="#3b2e8c"/>
<rect x="304.52" y="357.7" width="1.52" height="9.16" fill="#3b2e8c"/>
<rect x="309.33" y="357.7" width="0.63" height="8.76" fill="#3b2e8c" opacity="0.95"/>
<rect x="310.45" y="357.7" width="0.4" height="8.76" fill="#3b2e8c" opacity="0.95"/>
<rect x="312.82" y="357.7" width="0.84" height="8.76" fill="#3b2e8c" opacity="0.95"/>
<rect x="315.85" y="357.7" width="0.94" height="8.76" fill="#3b2e8c" opacity="0.95"/>
<rect x="317.44" y="357.7" width="0.81" height="8.76" fill="#3b2e8c" opacity="0.95"/>
<rect x="318.92" y="357.7" width="0.6" height="8.76" fill="#3b2e8c" opacity="0.95"/>
<rect x="325.7" y="357.7" width="3.79" height="9.16" fill="#3b2e8c"/>
<rect x="331.76" y="357.7" width="3.03" height="9.16" fill="#3b2e8c"/>
<rect x="335.55" y="357.7" width="0.83" height="8.76" fill="#3b2e8c" opacity="0.95"/>
<rect x="336.9" y="357.7" width="0.91" height="8.76" fill="#3b2e8c" opacity="0.95"/>
<rect x="343.12" y="357.7" width="1.97" height="9.16" fill="#3b2e8c"/>
<rect x="348.42" y="357.7" width="1.21" height="8.76" fill="#3b2e8c" opacity="0.6"/>
<rect x="352.21" y="357.7" width="1" height="8.76" fill="#3b2e8c" opacity="0.95"/>
<rect x="353.9" y="357.7" width="0.58" height="8.76" fill="#3b2e8c" opacity="0.95"/>
<rect x="356.76" y="357.7" width="0.75" height="8.76" fill="#3b2e8c" opacity="0.95"/>
<rect x="357.91" y="357.7" width="0.36" height="8.76" fill="#3b2e8c" opacity="0.95"/>
<rect x="361.3" y="357.7" width="1.52" height="9.16" fill="#3b2e8c"/>
<rect x="368.12" y="357.7" width="0.92" height="8.76" fill="#3b2e8c" opacity="0.95"/>
<rect x="369.56" y="357.7" width="0.84" height="8.76" fill="#3b2e8c" opacity="0.95"/>
<rect x="381.27" y="357.7" width="0.81" height="8.76" fill="#3b2e8c" opacity="0.95"/>
<rect x="384.3" y="357.7" width="0.69" height="8.76" fill="#3b2e8c" opacity="0.6499999999999999"/>
<rect x="388.09" y="357.7" width="1.21" height="8.76" fill="#3b2e8c" opacity="0.6"/>
<rect x="394.15" y="357.7" width="0.57" height="8.76" fill="#3b2e8c" opacity="0.95"/>
<rect x="395.01" y="357.7" width="0.65" height="8.76" fill="#3b2e8c" opacity="0.95"/>
<rect x="397.18" y="357.7" width="0.78" height="8.76" fill="#3b2e8c" opacity="0.95"/>
<rect x="405.52" y="357.7" width="0.61" height="8.76" fill="#3b2e8c" opacity="0.95"/>
<rect x="406.46" y="357.7" width="0.57" height="8.76" fill="#3b2e8c" opacity="0.95"/>
<rect x="408.55" y="357.7" width="0.55" height="8.76" fill="#3b2e8c" opacity="0.95"/>
<rect x="409.43" y="357.7" width="0.6" height="8.76" fill="#3b2e8c" opacity="0.95"/>
<rect x="410.39" y="357.7" width="0.65" height="8.76" fill="#3b2e8c" opacity="0.95"/>
<rect x="422.94" y="357.7" width="1.21" height="8.76" fill="#3b2e8c" opacity="0.6"/>
<rect x="432.03" y="357.7" width="0.82" height="8.76" fill="#3b2e8c" opacity="0.95"/>
<rect x="433.29" y="357.7" width="0.25" height="8.76" fill="#3b2e8c" opacity="0.95"/>
<rect x="435.06" y="357.7" width="0.61" height="8.76" fill="#3b2e8c" opacity="0.95"/>
<rect x="436.18" y="357.7" width="0.39" height="8.76" fill="#3b2e8c" opacity="0.95"/>
<rect x="438.85" y="357.7" width="0.59" height="8.76" fill="#3b2e8c" opacity="0.95"/>
<rect x="439.87" y="357.7" width="0.49" height="8.76" fill="#3b2e8c" opacity="0.95"/>
<rect x="442.64" y="357.7" width="0.73" height="8.76" fill="#3b2e8c" opacity="0.95"/>
<rect x="443.79" y="357.7" width="0.37" height="8.76" fill="#3b2e8c" opacity="0.95"/>
<rect x="445.67" y="357.7" width="0.8" height="8.76" fill="#3b2e8c" opacity="0.95"/>
<rect x="446.96" y="357.7" width="0.84" height="8.76" fill="#3b2e8c" opacity="0.95"/>
<rect x="452.48" y="357.7" width="0.76" height="8.76" fill="#3b2e8c" opacity="0.6"/>
<rect x="112.4" y="357.7" width="0.46" height="8.76" fill="#e6e6e8" opacity="0.83"/>
<rect x="122.15" y="357.7" width="0.4" height="8.76" fill="#e6e6e8" opacity="0.64"/>
<rect x="123.49" y="357.7" width="0.31" height="8.76" fill="#e6e6e8" opacity="0.61"/>
<rect x="125.03" y="357.7" width="0.44" height="8.76" fill="#e6e6e8" opacity="0.88"/>
<rect x="138.25" y="357.7" width="0.5" height="8.76" fill="#e6e6e8" opacity="0.88"/>
<rect x="144.43" y="357.7" width="0.35" height="8.76" fill="#e6e6e8" opacity="0.58"/>
<rect x="161.46" y="357.7" width="0.48" height="8.76" fill="#e6e6e8" opacity="0.84"/>
<rect x="200.12" y="357.7" width="0.46" height="8.76" fill="#e6e6e8" opacity="0.53"/>
<rect x="206.42" y="357.7" width="0.46" height="8.76" fill="#e6e6e8" opacity="0.80"/>
<rect x="208.39" y="357.7" width="0.34" height="8.76" fill="#e6e6e8" opacity="0.82"/>
<rect x="232.08" y="357.7" width="0.49" height="8.76" fill="#e6e6e8" opacity="0.66"/>
<rect x="327.45" y="357.7" width="0.44" height="8.76" fill="#e6e6e8" opacity="0.57"/>
<rect x="332.79" y="357.7" width="0.48" height="8.76" fill="#e6e6e8" opacity="0.82"/>
<text transform="translate(81.6,364.98) scale(0.9082,1)" font-size="8.3" text-anchor="end"><tspan class="i">RAS</tspan></text>
<rect x="455.2" y="357.7" width="34.8" height="8.76" fill="#fff" stroke="#6d6e71" stroke-width="0.45"/>
<line x1="475.9" y1="357.7" x2="475.9" y2="366.46" stroke="#6d6e71" stroke-width="0.45"/>
<text transform="translate(465.55,364.2) scale(0.9000,1)" font-size="5.9" text-anchor="middle" style="stroke-width:0.05px">139</text>
<text transform="translate(482.95,364.2) scale(0.9000,1)" font-size="5.9" text-anchor="middle" style="stroke-width:0.05px">21</text>
<rect x="91.79" y="366.46" width="3.03" height="9.16" fill="#3b2e8c"/>
<rect x="97.1" y="366.46" width="0.69" height="8.76" fill="#3b2e8c" opacity="0.95"/>
<rect x="98.23" y="366.46" width="0.68" height="8.76" fill="#3b2e8c" opacity="0.95"/>
<rect x="102.4" y="366.46" width="0.57" height="8.76" fill="#3b2e8c" opacity="0.6499999999999999"/>
<rect x="106.19" y="366.46" width="0.57" height="8.76" fill="#3b2e8c" opacity="0.95"/>
<rect x="107.05" y="366.46" width="0.66" height="8.76" fill="#3b2e8c" opacity="0.95"/>
<rect x="110.43" y="366.46" width="0.96" height="8.76" fill="#3b2e8c" opacity="0.95"/>
<rect x="112.02" y="366.46" width="0.23" height="8.76" fill="#3b2e8c" opacity="0.95"/>
<rect x="113.01" y="366.46" width="3.03" height="9.16" fill="#3b2e8c"/>
<rect x="142.57" y="366.46" width="0.82" height="8.76" fill="#3b2e8c" opacity="0.95"/>
<rect x="144.07" y="366.46" width="0.77" height="8.76" fill="#3b2e8c" opacity="0.95"/>
<rect x="147.12" y="366.46" width="0.74" height="8.76" fill="#3b2e8c" opacity="0.6499999999999999"/>
<rect x="152.42" y="366.46" width="0.84" height="8.76" fill="#3b2e8c" opacity="0.95"/>
<rect x="153.73" y="366.46" width="0.62" height="8.76" fill="#3b2e8c" opacity="0.95"/>
<rect x="154.64" y="366.46" width="0.55" height="8.76" fill="#3b2e8c" opacity="0.95"/>
<rect x="156.97" y="366.46" width="3.03" height="9.16" fill="#3b2e8c"/>
<rect x="215.3" y="366.46" width="0.6" height="8.76" fill="#3b2e8c" opacity="0.95"/>
<rect x="216.42" y="366.46" width="0.39" height="8.76" fill="#3b2e8c" opacity="0.95"/>
<rect x="218.33" y="366.46" width="0.61" height="8.76" fill="#3b2e8c" opacity="0.6499999999999999"/>
<rect x="221.36" y="366.46" width="0.87" height="8.76" fill="#3b2e8c" opacity="0.95"/>
<rect x="226.67" y="366.46" width="1.21" height="8.76" fill="#3b2e8c" opacity="0.3"/>
<rect x="233.76" y="366.46" width="0.88" height="8.76" fill="#3b2e8c" opacity="0.95"/>
<rect x="235.11" y="366.46" width="0.57" height="8.76" fill="#3b2e8c" opacity="0.95"/>
<rect x="247.39" y="366.46" width="1.21" height="8.76" fill="#3b2e8c" opacity="0.6"/>
<rect x="250.42" y="366.46" width="0.87" height="8.76" fill="#3b2e8c" opacity="0.95"/>
<rect x="256.03" y="366.46" width="3.03" height="9.16" fill="#3b2e8c"/>
<rect x="260.27" y="366.46" width="0.88" height="8.76" fill="#3b2e8c" opacity="0.95"/>
<rect x="266.03" y="366.46" width="0.83" height="8.76" fill="#3b2e8c" opacity="0.95"/>
<rect x="267.49" y="366.46" width="0.36" height="8.76" fill="#3b2e8c" opacity="0.95"/>
<rect x="273.91" y="366.46" width="0.66" height="8.76" fill="#3b2e8c" opacity="0.6499999999999999"/>
<rect x="280.73" y="366.46" width="1.21" height="8.76" fill="#3b2e8c" opacity="0.6"/>
<rect x="285.73" y="366.46" width="0.87" height="8.76" fill="#3b2e8c" opacity="0.95"/>
<rect x="287.01" y="366.46" width="0.23" height="8.76" fill="#3b2e8c" opacity="0.95"/>
<rect x="290.27" y="366.46" width="2.58" height="9.16" fill="#3b2e8c"/>
<rect x="293.61" y="366.46" width="0.92" height="8.76" fill="#3b2e8c" opacity="0.95"/>
<rect x="304.52" y="366.46" width="0.69" height="8.76" fill="#3b2e8c" opacity="0.95"/>
<rect x="305.73" y="366.46" width="0.3" height="8.76" fill="#3b2e8c" opacity="0.95"/>
<rect x="306.76" y="366.46" width="1.06" height="8.76" fill="#3b2e8c" opacity="0.6"/>
<rect x="360.24" y="366.46" width="1.21" height="8.76" fill="#3b2e8c" opacity="0.6"/>
<rect x="363.58" y="366.46" width="0.77" height="8.76" fill="#3b2e8c" opacity="0.6499999999999999"/>
<rect x="367.36" y="366.46" width="0.72" height="8.76" fill="#3b2e8c" opacity="0.95"/>
<rect x="368.58" y="366.46" width="0.3" height="8.76" fill="#3b2e8c" opacity="0.95"/>
<rect x="371.91" y="366.46" width="1.97" height="9.16" fill="#3b2e8c"/>
<rect x="376" y="366.46" width="0.62" height="8.76" fill="#3b2e8c" opacity="0.95"/>
<rect x="377.1" y="366.46" width="0.42" height="8.76" fill="#3b2e8c" opacity="0.95"/>
<rect x="385.06" y="366.46" width="0.83" height="8.76" fill="#3b2e8c" opacity="0.95"/>
<rect x="386.42" y="366.46" width="0.72" height="8.76" fill="#3b2e8c" opacity="0.95"/>
<rect x="93.57" y="366.46" width="0.43" height="8.76" fill="#e6e6e8" opacity="0.64"/>
<rect x="114.03" y="366.46" width="0.3" height="8.76" fill="#e6e6e8" opacity="0.89"/>
<rect x="158.34" y="366.46" width="0.49" height="8.76" fill="#e6e6e8" opacity="0.67"/>
<rect x="257.67" y="366.46" width="0.34" height="8.76" fill="#e6e6e8" opacity="0.60"/>
<rect x="291.39" y="366.46" width="0.42" height="8.76" fill="#e6e6e8" opacity="0.60"/>
<rect x="372.93" y="366.46" width="0.48" height="8.76" fill="#e6e6e8" opacity="0.64"/>
<text transform="translate(81.6,373.74) scale(0.9525,1)" font-size="8.3" text-anchor="end"><tspan class="i">RUNX1</tspan></text>
<rect x="455.2" y="366.46" width="34.8" height="8.76" fill="#fff" stroke="#6d6e71" stroke-width="0.45"/>
<line x1="475.9" y1="366.46" x2="475.9" y2="375.22" stroke="#6d6e71" stroke-width="0.45"/>
<text transform="translate(465.55,372.96) scale(0.9000,1)" font-size="5.9" text-anchor="middle" style="stroke-width:0.05px">60</text>
<text transform="translate(482.95,372.96) scale(0.9000,1)" font-size="5.9" text-anchor="middle" style="stroke-width:0.05px">9</text>
<rect x="88.76" y="375.22" width="6.06" height="8.76" fill="#3b2e8c"/>
<rect x="96.34" y="375.22" width="0.97" height="8.76" fill="#3b2e8c" opacity="0.6499999999999999"/>
<rect x="103.16" y="375.22" width="0.66" height="8.76" fill="#3b2e8c" opacity="0.95"/>
<rect x="104.37" y="375.22" width="0.57" height="8.76" fill="#3b2e8c" opacity="0.95"/>
<rect x="105.33" y="375.22" width="0.73" height="8.76" fill="#3b2e8c" opacity="0.95"/>
<rect x="106.47" y="375.22" width="0.58" height="8.76" fill="#3b2e8c" opacity="0.95"/>
<rect x="107.49" y="375.22" width="0.21" height="8.76" fill="#3b2e8c" opacity="0.95"/>
<rect x="109.22" y="375.22" width="5.31" height="8.76" fill="#3b2e8c"/>
<rect x="115.29" y="375.22" width="3.79" height="8.76" fill="#3b2e8c"/>
<rect x="128.93" y="375.22" width="0.97" height="8.76" fill="#3b2e8c" opacity="0.95"/>
<rect x="130.41" y="375.22" width="0.64" height="8.76" fill="#3b2e8c" opacity="0.95"/>
<rect x="131.96" y="375.22" width="0.78" height="8.76" fill="#3b2e8c" opacity="0.95"/>
<rect x="137.26" y="375.22" width="3.03" height="8.76" fill="#3b2e8c"/>
<rect x="141.81" y="375.22" width="0.92" height="8.76" fill="#3b2e8c" opacity="0.95"/>
<rect x="144.84" y="375.22" width="0.69" height="8.76" fill="#3b2e8c" opacity="0.95"/>
<rect x="145.94" y="375.22" width="0.42" height="8.76" fill="#3b2e8c" opacity="0.95"/>
<rect x="147.88" y="375.22" width="5.31" height="8.76" fill="#3b2e8c"/>
<rect x="154.7" y="375.22" width="0.9" height="8.76" fill="#3b2e8c" opacity="0.95"/>
<rect x="156.97" y="375.22" width="3.03" height="8.76" fill="#3b2e8c"/>
<rect x="160" y="375.22" width="0.55" height="8.76" fill="#3b2e8c" opacity="0.95"/>
<rect x="161" y="375.22" width="0.52" height="8.76" fill="#3b2e8c" opacity="0.95"/>
<rect x="216.06" y="375.22" width="3.79" height="8.76" fill="#3b2e8c"/>
<rect x="220.61" y="375.22" width="0.88" height="8.76" fill="#3b2e8c" opacity="0.95"/>
<rect x="222.88" y="375.22" width="2.27" height="8.76" fill="#3b2e8c"/>
<rect x="226.67" y="375.22" width="3.79" height="8.76" fill="#3b2e8c"/>
<rect x="231.21" y="375.22" width="0.65" height="8.76" fill="#3b2e8c" opacity="0.95"/>
<rect x="232.2" y="375.22" width="0.65" height="8.76" fill="#3b2e8c" opacity="0.95"/>
<rect x="233" y="375.22" width="5.3" height="8.76" fill="#3b2e8c"/>
<rect x="239.06" y="375.22" width="3.79" height="8.76" fill="#3b2e8c"/>
<rect x="243.61" y="375.22" width="0.7" height="8.76" fill="#3b2e8c" opacity="0.95"/>
<rect x="244.84" y="375.22" width="0.86" height="8.76" fill="#3b2e8c" opacity="0.95"/>
<rect x="246.4" y="375.22" width="0.87" height="8.76" fill="#3b2e8c" opacity="0.95"/>
<rect x="248.15" y="375.22" width="4.55" height="8.76" fill="#3b2e8c"/>
<rect x="253.45" y="375.22" width="3.79" height="8.76" fill="#3b2e8c"/>
<rect x="258" y="375.22" width="0.8" height="8.76" fill="#3b2e8c" opacity="0.95"/>
<rect x="259.31" y="375.22" width="0.9" height="8.76" fill="#3b2e8c" opacity="0.95"/>
<rect x="261.03" y="375.22" width="2.27" height="8.76" fill="#3b2e8c"/>
<rect x="264.06" y="375.22" width="3.03" height="8.76" fill="#3b2e8c"/>
<rect x="268.61" y="375.22" width="9.85" height="8.76" fill="#3b2e8c"/>
<rect x="278.45" y="375.22" width="0.67" height="8.76" fill="#3b2e8c" opacity="0.95"/>
<rect x="279.61" y="375.22" width="0.98" height="8.76" fill="#3b2e8c" opacity="0.95"/>
<rect x="281.14" y="375.22" width="0.35" height="8.76" fill="#3b2e8c" opacity="0.95"/>
<rect x="282.24" y="375.22" width="3.79" height="8.76" fill="#3b2e8c"/>
<rect x="286.79" y="375.22" width="3.03" height="8.76" fill="#3b2e8c"/>
<rect x="290.58" y="375.22" width="3.03" height="8.76" fill="#3b2e8c"/>
<rect x="294.36" y="375.22" width="0.67" height="8.76" fill="#3b2e8c" opacity="0.95"/>
<rect x="295.41" y="375.22" width="0.88" height="8.76" fill="#3b2e8c" opacity="0.95"/>
<rect x="297.39" y="375.22" width="0.89" height="8.76" fill="#3b2e8c" opacity="0.6499999999999999"/>
<rect x="301.18" y="375.22" width="3.79" height="8.76" fill="#3b2e8c"/>
<rect x="307.21" y="375.22" width="1.06" height="8.76" fill="#3b2e8c" opacity="0.6"/>
<rect x="336.3" y="375.22" width="3.79" height="8.76" fill="#3b2e8c"/>
<rect x="341.61" y="375.22" width="1.52" height="8.76" fill="#3b2e8c"/>
<rect x="345.39" y="375.22" width="3.03" height="8.76" fill="#3b2e8c"/>
<rect x="349.94" y="375.22" width="0.95" height="8.76" fill="#3b2e8c" opacity="0.95"/>
<rect x="352.21" y="375.22" width="3.03" height="8.76" fill="#3b2e8c"/>
<rect x="356" y="375.22" width="0.66" height="8.76" fill="#3b2e8c" opacity="0.95"/>
<rect x="357.2" y="375.22" width="0.31" height="8.76" fill="#3b2e8c" opacity="0.95"/>
<rect x="358.27" y="375.22" width="2.27" height="8.76" fill="#3b2e8c"/>
<rect x="361.3" y="375.22" width="4.55" height="8.76" fill="#3b2e8c"/>
<rect x="366.61" y="375.22" width="0.85" height="8.76" fill="#3b2e8c" opacity="0.95"/>
<rect x="368.18" y="375.22" width="0.76" height="8.76" fill="#3b2e8c" opacity="0.95"/>
<rect x="370.39" y="375.22" width="0.86" height="8.76" fill="#3b2e8c" opacity="0.6499999999999999"/>
<rect x="374.18" y="375.22" width="4.85" height="8.76" fill="#3b2e8c"/>
<rect x="379" y="375.22" width="1.52" height="8.76" fill="#3b2e8c"/>
<rect x="381.27" y="375.22" width="1.52" height="8.76" fill="#3b2e8c"/>
<rect x="385.82" y="375.22" width="0.75" height="8.76" fill="#3b2e8c" opacity="0.95"/>
<rect x="387.13" y="375.22" width="0.2" height="8.76" fill="#3b2e8c" opacity="0.95"/>
<rect x="387.79" y="375.22" width="2.58" height="8.76" fill="#3b2e8c"/>
<rect x="90.18" y="375.22" width="0.48" height="8.76" fill="#e6e6e8" opacity="0.67"/>
<rect x="92.76" y="375.22" width="0.4" height="8.76" fill="#e6e6e8" opacity="0.71"/>
<rect x="110.14" y="375.22" width="0.39" height="8.76" fill="#e6e6e8" opacity="0.57"/>
<rect x="111.43" y="375.22" width="0.46" height="8.76" fill="#e6e6e8" opacity="0.57"/>
<rect x="113.41" y="375.22" width="0.45" height="8.76" fill="#e6e6e8" opacity="0.72"/>
<rect x="116.65" y="375.22" width="0.41" height="8.76" fill="#e6e6e8" opacity="0.81"/>
<rect x="118.1" y="375.22" width="0.41" height="8.76" fill="#e6e6e8" opacity="0.60"/>
<rect x="138.86" y="375.22" width="0.4" height="8.76" fill="#e6e6e8" opacity="0.72"/>
<rect x="149.6" y="375.22" width="0.39" height="8.76" fill="#e6e6e8" opacity="0.75"/>
<rect x="151.54" y="375.22" width="0.4" height="8.76" fill="#e6e6e8" opacity="0.78"/>
<rect x="158.35" y="375.22" width="0.4" height="8.76" fill="#e6e6e8" opacity="0.88"/>
<rect x="217.75" y="375.22" width="0.49" height="8.76" fill="#e6e6e8" opacity="0.60"/>
<rect x="228.32" y="375.22" width="0.33" height="8.76" fill="#e6e6e8" opacity="0.55"/>
<rect x="233.97" y="375.22" width="0.35" height="8.76" fill="#e6e6e8" opacity="0.53"/>
<rect x="236.08" y="375.22" width="0.46" height="8.76" fill="#e6e6e8" opacity="0.86"/>
<rect x="240.61" y="375.22" width="0.43" height="8.76" fill="#e6e6e8" opacity="0.56"/>
<rect x="249.92" y="375.22" width="0.34" height="8.76" fill="#e6e6e8" opacity="0.88"/>
<rect x="251.68" y="375.22" width="0.4" height="8.76" fill="#e6e6e8" opacity="0.90"/>
<rect x="254.5" y="375.22" width="0.39" height="8.76" fill="#e6e6e8" opacity="0.71"/>
<rect x="256.23" y="375.22" width="0.34" height="8.76" fill="#e6e6e8" opacity="0.63"/>
<rect x="261.95" y="375.22" width="0.41" height="8.76" fill="#e6e6e8" opacity="0.68"/>
<rect x="265.26" y="375.22" width="0.42" height="8.76" fill="#e6e6e8" opacity="0.70"/>
<rect x="270.39" y="375.22" width="0.46" height="8.76" fill="#e6e6e8" opacity="0.89"/>
<rect x="271.89" y="375.22" width="0.35" height="8.76" fill="#e6e6e8" opacity="0.52"/>
<rect x="274.15" y="375.22" width="0.35" height="8.76" fill="#e6e6e8" opacity="0.55"/>
<rect x="275.96" y="375.22" width="0.48" height="8.76" fill="#e6e6e8" opacity="0.83"/>
<rect x="277.67" y="375.22" width="0.33" height="8.76" fill="#e6e6e8" opacity="0.87"/>
<rect x="283.77" y="375.22" width="0.32" height="8.76" fill="#e6e6e8" opacity="0.52"/>
<rect x="288.07" y="375.22" width="0.31" height="8.76" fill="#e6e6e8" opacity="0.88"/>
<rect x="292.2" y="375.22" width="0.32" height="8.76" fill="#e6e6e8" opacity="0.84"/>
<rect x="302.86" y="375.22" width="0.39" height="8.76" fill="#e6e6e8" opacity="0.64"/>
<rect x="338.04" y="375.22" width="0.35" height="8.76" fill="#e6e6e8" opacity="0.55"/>
<rect x="346.51" y="375.22" width="0.32" height="8.76" fill="#e6e6e8" opacity="0.56"/>
<rect x="353.29" y="375.22" width="0.36" height="8.76" fill="#e6e6e8" opacity="0.62"/>
<rect x="359.43" y="375.22" width="0.4" height="8.76" fill="#e6e6e8" opacity="0.57"/>
<rect x="362.22" y="375.22" width="0.35" height="8.76" fill="#e6e6e8" opacity="0.51"/>
<rect x="364.42" y="375.22" width="0.41" height="8.76" fill="#e6e6e8" opacity="0.58"/>
<rect x="375.92" y="375.22" width="0.32" height="8.76" fill="#e6e6e8" opacity="0.83"/>
<rect x="377.71" y="375.22" width="0.4" height="8.76" fill="#e6e6e8" opacity="0.83"/>
<rect x="389.14" y="375.22" width="0.44" height="8.76" fill="#e6e6e8" opacity="0.89"/>
<text transform="translate(81.6,382.5) scale(0.9123,1)" font-size="8.3" text-anchor="end"><tspan class="i">TP53</tspan></text>
<rect x="455.2" y="375.22" width="34.8" height="8.76" fill="#fff" stroke="#6d6e71" stroke-width="0.45"/>
<line x1="475.9" y1="375.22" x2="475.9" y2="383.98" stroke="#6d6e71" stroke-width="0.45"/>
<text transform="translate(465.55,381.72) scale(0.9000,1)" font-size="5.9" text-anchor="middle" style="stroke-width:0.05px">203</text>
<text transform="translate(482.95,381.72) scale(0.9000,1)" font-size="5.9" text-anchor="middle" style="stroke-width:0.05px">31</text>
<rect x="88.2" y="391.6" width="30.86" height="9.25" fill="#3b2e8c"/>
<rect x="128.15" y="391.6" width="32.88" height="9.25" fill="#3b2e8c"/>
<rect x="93.3" y="391.6" width="1.06" height="8.85" fill="#e6e6e8" opacity="0.7"/>
<rect x="99.82" y="391.6" width="0.76" height="8.85" fill="#e6e6e8" opacity="0.7"/>
<rect x="101.33" y="391.6" width="0.76" height="8.85" fill="#e6e6e8" opacity="0.7"/>
<rect x="102.85" y="391.6" width="0.76" height="8.85" fill="#e6e6e8" opacity="0.7"/>
<rect x="105.42" y="391.6" width="1.52" height="8.85" fill="#e6e6e8" opacity="0.7"/>
<rect x="110.73" y="391.6" width="1.52" height="8.85" fill="#e6e6e8" opacity="0.7"/>
<rect x="113" y="391.6" width="0.76" height="8.85" fill="#e6e6e8" opacity="0.7"/>
<rect x="114.52" y="391.6" width="0.76" height="8.85" fill="#e6e6e8" opacity="0.7"/>
<rect x="116.03" y="391.6" width="1.52" height="8.85" fill="#e6e6e8" opacity="0.7"/>
<rect x="130.42" y="391.6" width="3.03" height="8.85" fill="#e6e6e8" opacity="0.7"/>
<rect x="141.03" y="391.6" width="3.03" height="8.85" fill="#e6e6e8" opacity="0.7"/>
<rect x="146.33" y="391.6" width="0.76" height="8.85" fill="#e6e6e8" opacity="0.7"/>
<rect x="158.45" y="391.6" width="1.52" height="8.85" fill="#e6e6e8" opacity="0.7"/>
<rect x="160" y="391.6" width="1.82" height="9.25" fill="#3b2e8c"/>
<rect x="214.55" y="391.6" width="18.48" height="9.25" fill="#3b2e8c"/>
<rect x="219.09" y="391.6" width="1.21" height="8.85" fill="#e6e6e8" opacity="0.7"/>
<rect x="222.42" y="391.6" width="0.91" height="8.85" fill="#e6e6e8" opacity="0.7"/>
<rect x="227.42" y="391.6" width="1.06" height="8.85" fill="#e6e6e8" opacity="0.7"/>
<rect x="230.45" y="391.6" width="0.76" height="8.85" fill="#e6e6e8" opacity="0.7"/>
<rect x="233" y="391.6" width="73.03" height="9.25" fill="#3b2e8c"/>
<rect x="236.33" y="391.6" width="0.91" height="8.85" fill="#e6e6e8" opacity="0.7"/>
<rect x="240.58" y="391.6" width="1.21" height="8.85" fill="#e6e6e8" opacity="0.7"/>
<rect x="248.15" y="391.6" width="1.21" height="8.85" fill="#e6e6e8" opacity="0.7"/>
<rect x="250.42" y="391.6" width="1.97" height="8.85" fill="#e6e6e8" opacity="0.7"/>
<rect x="255.73" y="391.6" width="1.21" height="8.85" fill="#e6e6e8" opacity="0.7"/>
<rect x="261.03" y="391.6" width="1.06" height="8.85" fill="#e6e6e8" opacity="0.7"/>
<rect x="264.06" y="391.6" width="1.06" height="8.85" fill="#e6e6e8" opacity="0.7"/>
<rect x="269.36" y="391.6" width="0.91" height="8.85" fill="#e6e6e8" opacity="0.7"/>
<rect x="273.61" y="391.6" width="0.91" height="8.85" fill="#e6e6e8" opacity="0.7"/>
<rect x="276.94" y="391.6" width="0.91" height="8.85" fill="#e6e6e8" opacity="0.7"/>
<rect x="280.27" y="391.6" width="1.21" height="8.85" fill="#e6e6e8" opacity="0.7"/>
<rect x="288.3" y="391.6" width="3.03" height="8.85" fill="#e6e6e8" opacity="0.7"/>
<rect x="296.64" y="391.6" width="0.91" height="8.85" fill="#e6e6e8" opacity="0.7"/>
<rect x="300.42" y="391.6" width="1.06" height="8.85" fill="#e6e6e8" opacity="0.7"/>
<rect x="303.91" y="391.6" width="0.91" height="8.85" fill="#e6e6e8" opacity="0.7"/>
<rect x="306" y="391.6" width="2.73" height="9.25" fill="#3b2e8c"/>
<rect x="336" y="391.6" width="43.03" height="9.25" fill="#3b2e8c"/>
<rect x="340.55" y="391.6" width="1.21" height="8.85" fill="#e6e6e8" opacity="0.7"/>
<rect x="343.12" y="391.6" width="1.52" height="8.85" fill="#e6e6e8" opacity="0.7"/>
<rect x="349.94" y="391.6" width="1.52" height="8.85" fill="#e6e6e8" opacity="0.7"/>
<rect x="358.27" y="391.6" width="1.06" height="8.85" fill="#e6e6e8" opacity="0.7"/>
<rect x="362.36" y="391.6" width="0.91" height="8.85" fill="#e6e6e8" opacity="0.7"/>
<rect x="365.85" y="391.6" width="1.06" height="8.85" fill="#e6e6e8" opacity="0.7"/>
<rect x="371.45" y="391.6" width="1.21" height="8.85" fill="#e6e6e8" opacity="0.7"/>
<rect x="379" y="391.6" width="11.82" height="9.25" fill="#3b2e8c"/>
<rect x="380.52" y="391.6" width="2.27" height="8.85" fill="#e6e6e8" opacity="0.7"/>
<rect x="384.76" y="391.6" width="2.12" height="8.85" fill="#e6e6e8" opacity="0.7"/>
<rect x="392.64" y="391.6" width="60.66" height="8.85" fill="#fff" opacity="0.45"/>
<text transform="translate(81.6,398.93) scale(0.9472,1)" font-size="8.3" text-anchor="end">AR CTG</text>
<rect x="455.2" y="391.6" width="34.8" height="8.85" fill="#fff" stroke="#6d6e71" stroke-width="0.45"/>
<line x1="475.9" y1="391.6" x2="475.9" y2="400.45" stroke="#6d6e71" stroke-width="0.45"/>
<text transform="translate(465.55,398.15) scale(0.9049,1)" font-size="5.9" text-anchor="middle" style="stroke-width:0.05px">309/644</text>
<text transform="translate(482.95,398.15) scale(0.9000,1)" font-size="5.9" text-anchor="middle" style="stroke-width:0.05px">48</text>
<rect x="88.2" y="400.45" width="30.86" height="8.85" fill="#3b2e8c"/>
<rect x="128.15" y="400.45" width="32.88" height="8.85" fill="#3b2e8c"/>
<rect x="160" y="400.45" width="1.82" height="8.85" fill="#3b2e8c"/>
<rect x="214.55" y="400.45" width="18.48" height="8.85" fill="#3b2e8c"/>
<rect x="233" y="400.45" width="73.03" height="8.85" fill="#3b2e8c"/>
<rect x="306" y="400.45" width="2.73" height="8.85" fill="#3b2e8c"/>
<rect x="336" y="400.45" width="43.03" height="8.85" fill="#3b2e8c"/>
<rect x="379" y="400.45" width="11.82" height="8.85" fill="#3b2e8c"/>
<text transform="translate(81.6,407.77) scale(0.9788,1)" font-size="8.3" text-anchor="end">ELN AR</text>
<rect x="455.2" y="400.45" width="34.8" height="8.85" fill="#fff" stroke="#6d6e71" stroke-width="0.45"/>
<line x1="475.9" y1="400.45" x2="475.9" y2="409.3" stroke="#6d6e71" stroke-width="0.45"/>
<text transform="translate(465.55,407) scale(0.9000,1)" font-size="5.9" text-anchor="middle" style="stroke-width:0.05px">386</text>
<text transform="translate(482.95,407) scale(0.9000,1)" font-size="5.9" text-anchor="middle" style="stroke-width:0.05px">58</text>
<rect x="89.52" y="416.8" width="0.76" height="8.6" fill="#3b2e8c" opacity="0.6"/>
<rect x="90.27" y="416.8" width="4.55" height="9" fill="#3b2e8c"/>
<rect x="94.82" y="416.8" width="0.76" height="8.6" fill="#3b2e8c" opacity="0.6"/>
<rect x="97.85" y="416.8" width="0.55" height="8.6" fill="#3b2e8c" opacity="0.6499999999999999"/>
<rect x="102.39" y="416.8" width="0.76" height="8.6" fill="#3b2e8c" opacity="0.95"/>
<rect x="103.67" y="416.8" width="0.24" height="8.6" fill="#3b2e8c" opacity="0.95"/>
<rect x="104.67" y="416.8" width="0.55" height="8.6" fill="#3b2e8c" opacity="0.95"/>
<rect x="105.53" y="416.8" width="0.59" height="8.6" fill="#3b2e8c" opacity="0.95"/>
<rect x="106.5" y="416.8" width="0.57" height="8.6" fill="#3b2e8c" opacity="0.95"/>
<rect x="107.33" y="416.8" width="0.36" height="8.6" fill="#3b2e8c" opacity="0.95"/>
<rect x="110.73" y="416.8" width="0.81" height="8.6" fill="#3b2e8c" opacity="0.95"/>
<rect x="112.09" y="416.8" width="0.89" height="8.6" fill="#3b2e8c" opacity="0.95"/>
<rect x="113.76" y="416.8" width="0.87" height="8.6" fill="#3b2e8c" opacity="0.95"/>
<rect x="115.34" y="416.8" width="0.73" height="8.6" fill="#3b2e8c" opacity="0.95"/>
<rect x="116.5" y="416.8" width="0.99" height="8.6" fill="#3b2e8c" opacity="0.95"/>
<rect x="118.02" y="416.8" width="0.29" height="8.6" fill="#3b2e8c" opacity="0.95"/>
<rect x="119.82" y="416.8" width="0.57" height="8.6" fill="#3b2e8c" opacity="0.95"/>
<rect x="120.84" y="416.8" width="0.49" height="8.6" fill="#3b2e8c" opacity="0.95"/>
<rect x="122.09" y="416.8" width="0.88" height="8.6" fill="#3b2e8c" opacity="0.95"/>
<rect x="123.67" y="416.8" width="0.61" height="8.6" fill="#3b2e8c" opacity="0.95"/>
<rect x="128.91" y="416.8" width="1.52" height="9" fill="#3b2e8c"/>
<rect x="131.94" y="416.8" width="0.78" height="8.6" fill="#3b2e8c" opacity="0.95"/>
<rect x="139.52" y="416.8" width="0.91" height="8.6" fill="#3b2e8c" opacity="0.95"/>
<rect x="144.82" y="416.8" width="0.81" height="8.6" fill="#3b2e8c" opacity="0.6499999999999999"/>
<rect x="147.85" y="416.8" width="0.86" height="8.6" fill="#3b2e8c" opacity="0.95"/>
<rect x="149.34" y="416.8" width="0.65" height="8.6" fill="#3b2e8c" opacity="0.95"/>
<rect x="151.64" y="416.8" width="0.61" height="8.6" fill="#3b2e8c" opacity="0.95"/>
<rect x="152.62" y="416.8" width="0.6" height="8.6" fill="#3b2e8c" opacity="0.95"/>
<rect x="153.69" y="416.8" width="0.8" height="8.6" fill="#3b2e8c" opacity="0.95"/>
<rect x="156.18" y="416.8" width="2.27" height="9" fill="#3b2e8c"/>
<rect x="166.82" y="416.8" width="1.06" height="9" fill="#3b2e8c"/>
<rect x="213.03" y="416.8" width="10.61" height="9" fill="#3b2e8c"/>
<rect x="225.15" y="416.8" width="7.88" height="9" fill="#3b2e8c"/>
<rect x="213.79" y="416.8" width="1.52" height="8.6" fill="#e6e6e8" opacity="0.7"/>
<rect x="233" y="416.8" width="73.03" height="9" fill="#3b2e8c"/>
<rect x="237.24" y="416.8" width="0.91" height="8.6" fill="#e6e6e8" opacity="0.7"/>
<rect x="242.85" y="416.8" width="1.06" height="8.6" fill="#e6e6e8" opacity="0.7"/>
<rect x="247.85" y="416.8" width="1.06" height="8.6" fill="#e6e6e8" opacity="0.7"/>
<rect x="252.7" y="416.8" width="0.91" height="8.6" fill="#e6e6e8" opacity="0.7"/>
<rect x="259.52" y="416.8" width="1.06" height="8.6" fill="#e6e6e8" opacity="0.7"/>
<rect x="264.82" y="416.8" width="0.91" height="8.6" fill="#e6e6e8" opacity="0.7"/>
<rect x="269.36" y="416.8" width="0.91" height="8.6" fill="#e6e6e8" opacity="0.7"/>
<rect x="275.73" y="416.8" width="0.91" height="8.6" fill="#e6e6e8" opacity="0.7"/>
<rect x="278.45" y="416.8" width="1.21" height="8.6" fill="#e6e6e8" opacity="0.7"/>
<rect x="281.79" y="416.8" width="1.21" height="8.6" fill="#e6e6e8" opacity="0.7"/>
<rect x="285.27" y="416.8" width="1.06" height="8.6" fill="#e6e6e8" opacity="0.7"/>
<rect x="288.3" y="416.8" width="1.06" height="8.6" fill="#e6e6e8" opacity="0.7"/>
<rect x="306" y="416.8" width="73.03" height="9" fill="#3b2e8c"/>
<rect x="307.52" y="416.8" width="0.91" height="8.6" fill="#e6e6e8" opacity="0.7"/>
<rect x="311.3" y="416.8" width="1.06" height="8.6" fill="#e6e6e8" opacity="0.7"/>
<rect x="314.33" y="416.8" width="1.06" height="8.6" fill="#e6e6e8" opacity="0.7"/>
<rect x="318.88" y="416.8" width="1.52" height="8.6" fill="#e6e6e8" opacity="0.7"/>
<rect x="321.91" y="416.8" width="1.06" height="8.6" fill="#e6e6e8" opacity="0.7"/>
<rect x="328.73" y="416.8" width="1.21" height="8.6" fill="#e6e6e8" opacity="0.7"/>
<rect x="331.76" y="416.8" width="1.52" height="8.6" fill="#e6e6e8" opacity="0.7"/>
<rect x="337.06" y="416.8" width="1.06" height="8.6" fill="#e6e6e8" opacity="0.7"/>
<rect x="341.61" y="416.8" width="1.06" height="8.6" fill="#e6e6e8" opacity="0.7"/>
<rect x="345.7" y="416.8" width="1.21" height="8.6" fill="#e6e6e8" opacity="0.7"/>
<rect x="348.73" y="416.8" width="1.21" height="8.6" fill="#e6e6e8" opacity="0.7"/>
<rect x="352.97" y="416.8" width="1.21" height="8.6" fill="#e6e6e8" opacity="0.7"/>
<rect x="355.7" y="416.8" width="1.52" height="8.6" fill="#e6e6e8" opacity="0.7"/>
<rect x="361.3" y="416.8" width="1.06" height="8.6" fill="#e6e6e8" opacity="0.7"/>
<rect x="366.61" y="416.8" width="0.91" height="8.6" fill="#e6e6e8" opacity="0.7"/>
<rect x="379" y="416.8" width="74.24" height="9" fill="#3b2e8c"/>
<rect x="392.64" y="416.8" width="1.52" height="8.6" fill="#e6e6e8" opacity="0.7"/>
<rect x="395.67" y="416.8" width="2.27" height="8.6" fill="#e6e6e8" opacity="0.7"/>
<rect x="400.21" y="416.8" width="1.52" height="8.6" fill="#e6e6e8" opacity="0.7"/>
<rect x="406.27" y="416.8" width="1.52" height="8.6" fill="#e6e6e8" opacity="0.7"/>
<rect x="411.58" y="416.8" width="1.52" height="8.6" fill="#e6e6e8" opacity="0.7"/>
<rect x="414.61" y="416.8" width="1.52" height="8.6" fill="#e6e6e8" opacity="0.7"/>
<rect x="419.91" y="416.8" width="2.27" height="8.6" fill="#e6e6e8" opacity="0.7"/>
<rect x="425.97" y="416.8" width="2.27" height="8.6" fill="#e6e6e8" opacity="0.7"/>
<rect x="431.27" y="416.8" width="2.27" height="8.6" fill="#e6e6e8" opacity="0.7"/>
<rect x="435.82" y="416.8" width="1.52" height="8.6" fill="#e6e6e8" opacity="0.7"/>
<rect x="440.36" y="416.8" width="1.52" height="8.6" fill="#e6e6e8" opacity="0.7"/>
<rect x="445.67" y="416.8" width="1.52" height="8.6" fill="#e6e6e8" opacity="0.7"/>
<text transform="translate(81.6,424) scale(0.9765,1)" font-size="8.3" text-anchor="end">LI Therapy</text>
<rect x="455.2" y="416.8" width="34.8" height="8.6" fill="#fff" stroke="#6d6e71" stroke-width="0.45"/>
<line x1="475.9" y1="416.8" x2="475.9" y2="425.4" stroke="#6d6e71" stroke-width="0.45"/>
<text transform="translate(465.55,423.22) scale(0.9000,1)" font-size="5.9" text-anchor="middle" style="stroke-width:0.05px">404</text>
<text transform="translate(482.95,423.22) scale(0.9000,1)" font-size="5.9" text-anchor="middle" style="stroke-width:0.05px">61</text>
<rect x="88.2" y="425.4" width="0.83" height="8.6" fill="#3b2e8c" opacity="0.95"/>
<rect x="89.65" y="425.4" width="0.63" height="8.6" fill="#3b2e8c" opacity="0.95"/>
<rect x="92.55" y="425.4" width="0.91" height="8.6" fill="#3b2e8c" opacity="0.95"/>
<rect x="94.15" y="425.4" width="0.67" height="8.6" fill="#3b2e8c" opacity="0.95"/>
<rect x="96.33" y="425.4" width="0.85" height="8.6" fill="#3b2e8c" opacity="0.6499999999999999"/>
<rect x="100.12" y="425.4" width="0.88" height="8.6" fill="#3b2e8c" opacity="0.95"/>
<rect x="101.5" y="425.4" width="0.58" height="8.6" fill="#3b2e8c" opacity="0.95"/>
<rect x="103.15" y="425.4" width="0.88" height="8.6" fill="#3b2e8c" opacity="0.95"/>
<rect x="104.51" y="425.4" width="0.88" height="8.6" fill="#3b2e8c" opacity="0.95"/>
<rect x="106.15" y="425.4" width="0.77" height="8.6" fill="#3b2e8c" opacity="0.95"/>
<rect x="107.7" y="425.4" width="12.88" height="8.6" fill="#3b2e8c"/>
<rect x="122.09" y="425.4" width="3.03" height="8.6" fill="#3b2e8c"/>
<rect x="125.88" y="425.4" width="0.77" height="8.6" fill="#3b2e8c" opacity="0.95"/>
<rect x="127.21" y="425.4" width="0.49" height="8.6" fill="#3b2e8c" opacity="0.95"/>
<rect x="139.52" y="425.4" width="0.84" height="8.6" fill="#3b2e8c" opacity="0.6499999999999999"/>
<rect x="141.79" y="425.4" width="3.79" height="8.6" fill="#3b2e8c"/>
<rect x="146.33" y="425.4" width="14.7" height="8.6" fill="#3b2e8c"/>
<rect x="154.36" y="425.4" width="0.76" height="8.6" fill="#e6e6e8" opacity="0.7"/>
<rect x="160" y="425.4" width="1.52" height="8.6" fill="#3b2e8c"/>
<rect x="163.79" y="425.4" width="0.76" height="8.6" fill="#3b2e8c" opacity="0.3"/>
<rect x="172.88" y="425.4" width="1.06" height="8.6" fill="#3b2e8c" opacity="0.3"/>
<rect x="179.7" y="425.4" width="0.62" height="8.6" fill="#3b2e8c" opacity="0.95"/>
<rect x="180.66" y="425.4" width="0.88" height="8.6" fill="#3b2e8c" opacity="0.95"/>
<rect x="183.48" y="425.4" width="6.82" height="8.6" fill="#3b2e8c"/>
<rect x="191.06" y="425.4" width="3.03" height="8.6" fill="#3b2e8c"/>
<rect x="194.85" y="425.4" width="0.81" height="8.6" fill="#3b2e8c" opacity="0.95"/>
<rect x="196.03" y="425.4" width="0.58" height="8.6" fill="#3b2e8c" opacity="0.95"/>
<rect x="196.94" y="425.4" width="0.85" height="8.6" fill="#3b2e8c" opacity="0.95"/>
<rect x="198.43" y="425.4" width="0.85" height="8.6" fill="#3b2e8c" opacity="0.95"/>
<rect x="200.15" y="425.4" width="8.33" height="8.6" fill="#3b2e8c"/>
<rect x="209.24" y="425.4" width="0.78" height="8.6" fill="#3b2e8c" opacity="0.95"/>
<rect x="210.54" y="425.4" width="0.76" height="8.6" fill="#3b2e8c" opacity="0.95"/>
<rect x="212.27" y="425.4" width="0.95" height="8.6" fill="#3b2e8c" opacity="0.95"/>
<rect x="213.75" y="425.4" width="0.99" height="8.6" fill="#3b2e8c" opacity="0.95"/>
<rect x="215.57" y="425.4" width="0.56" height="8.6" fill="#3b2e8c" opacity="0.95"/>
<rect x="216.49" y="425.4" width="0.92" height="8.6" fill="#3b2e8c" opacity="0.95"/>
<rect x="218.33" y="425.4" width="0.75" height="8.6" fill="#3b2e8c" opacity="0.95"/>
<rect x="219.52" y="425.4" width="0.64" height="8.6" fill="#3b2e8c" opacity="0.95"/>
<rect x="221.36" y="425.4" width="0.64" height="8.6" fill="#3b2e8c" opacity="0.95"/>
<rect x="222.46" y="425.4" width="0.61" height="8.6" fill="#3b2e8c" opacity="0.95"/>
<rect x="223.49" y="425.4" width="0.98" height="8.6" fill="#3b2e8c" opacity="0.95"/>
<rect x="226.67" y="425.4" width="0.92" height="8.6" fill="#3b2e8c" opacity="0.95"/>
<rect x="229.7" y="425.4" width="0.95" height="8.6" fill="#3b2e8c" opacity="0.95"/>
<rect x="231.97" y="425.4" width="1.06" height="8.6" fill="#3b2e8c" opacity="0.6"/>
<rect x="233" y="425.4" width="2.27" height="8.6" fill="#3b2e8c"/>
<rect x="236.03" y="425.4" width="0.65" height="8.6" fill="#3b2e8c" opacity="0.95"/>
<rect x="237.22" y="425.4" width="0.77" height="8.6" fill="#3b2e8c" opacity="0.95"/>
<rect x="239.82" y="425.4" width="2.27" height="8.6" fill="#3b2e8c"/>
<rect x="246.64" y="425.4" width="0.55" height="8.6" fill="#3b2e8c" opacity="0.95"/>
<rect x="247.55" y="425.4" width="0.6" height="8.6" fill="#3b2e8c" opacity="0.95"/>
<rect x="248.91" y="425.4" width="5.3" height="8.6" fill="#3b2e8c"/>
<rect x="255.73" y="425.4" width="0.61" height="8.6" fill="#3b2e8c" opacity="0.95"/>
<rect x="256.71" y="425.4" width="0.69" height="8.6" fill="#3b2e8c" opacity="0.95"/>
<rect x="260.27" y="425.4" width="0.55" height="8.6" fill="#3b2e8c" opacity="0.95"/>
<rect x="261.25" y="425.4" width="0.93" height="8.6" fill="#3b2e8c" opacity="0.95"/>
<rect x="262.65" y="425.4" width="0.65" height="8.6" fill="#3b2e8c" opacity="0.95"/>
<rect x="264.82" y="425.4" width="2.27" height="8.6" fill="#3b2e8c"/>
<rect x="267.85" y="425.4" width="0.96" height="8.6" fill="#3b2e8c" opacity="0.95"/>
<rect x="269.36" y="425.4" width="0.72" height="8.6" fill="#3b2e8c" opacity="0.95"/>
<rect x="270.53" y="425.4" width="0.35" height="8.6" fill="#3b2e8c" opacity="0.95"/>
<rect x="271.64" y="425.4" width="0.71" height="8.6" fill="#3b2e8c" opacity="0.6499999999999999"/>
<rect x="274.67" y="425.4" width="3.79" height="8.6" fill="#3b2e8c"/>
<rect x="279.21" y="425.4" width="5.3" height="8.6" fill="#3b2e8c"/>
<rect x="285.27" y="425.4" width="6.06" height="8.6" fill="#3b2e8c"/>
<rect x="292.85" y="425.4" width="0.67" height="8.6" fill="#3b2e8c" opacity="0.95"/>
<rect x="293.85" y="425.4" width="0.6" height="8.6" fill="#3b2e8c" opacity="0.95"/>
<rect x="295.88" y="425.4" width="0.68" height="8.6" fill="#3b2e8c" opacity="0.6499999999999999"/>
<rect x="298.91" y="425.4" width="0.66" height="8.6" fill="#3b2e8c" opacity="0.95"/>
<rect x="299.95" y="425.4" width="0.78" height="8.6" fill="#3b2e8c" opacity="0.95"/>
<rect x="301.94" y="425.4" width="4.09" height="8.6" fill="#3b2e8c"/>
<rect x="306" y="425.4" width="2.27" height="8.6" fill="#3b2e8c"/>
<rect x="309.03" y="425.4" width="0.72" height="8.6" fill="#3b2e8c" opacity="0.95"/>
<rect x="310.36" y="425.4" width="0.95" height="8.6" fill="#3b2e8c" opacity="0.95"/>
<rect x="312.82" y="425.4" width="0.83" height="8.6" fill="#3b2e8c" opacity="0.6499999999999999"/>
<rect x="316.08" y="425.4" width="0.97" height="8.6" fill="#3b2e8c" opacity="0.6499999999999999"/>
<rect x="318.12" y="425.4" width="0.87" height="8.6" fill="#3b2e8c" opacity="0.95"/>
<rect x="319.42" y="425.4" width="0.88" height="8.6" fill="#3b2e8c" opacity="0.95"/>
<rect x="320.87" y="425.4" width="0.28" height="8.6" fill="#3b2e8c" opacity="0.95"/>
<rect x="321.91" y="425.4" width="6.82" height="8.6" fill="#3b2e8c"/>
<rect x="330.24" y="425.4" width="3.03" height="8.6" fill="#3b2e8c"/>
<rect x="334.03" y="425.4" width="0.68" height="8.6" fill="#3b2e8c" opacity="0.6499999999999999"/>
<rect x="335.86" y="425.4" width="0.44" height="8.6" fill="#3b2e8c" opacity="0.6499999999999999"/>
<rect x="337.06" y="425.4" width="0.76" height="8.6" fill="#3b2e8c" opacity="0.95"/>
<rect x="338.28" y="425.4" width="0.68" height="8.6" fill="#3b2e8c" opacity="0.95"/>
<rect x="340.09" y="425.4" width="0.99" height="8.6" fill="#3b2e8c" opacity="0.6499999999999999"/>
<rect x="343.12" y="425.4" width="2.58" height="8.6" fill="#3b2e8c"/>
<rect x="352.21" y="425.4" width="0.85" height="8.6" fill="#3b2e8c" opacity="0.6499999999999999"/>
<rect x="355.24" y="425.4" width="0.8" height="8.6" fill="#3b2e8c" opacity="0.95"/>
<rect x="356.54" y="425.4" width="0.63" height="8.6" fill="#3b2e8c" opacity="0.95"/>
<rect x="358.27" y="425.4" width="3.03" height="8.6" fill="#3b2e8c"/>
<rect x="362.06" y="425.4" width="0.64" height="8.6" fill="#3b2e8c" opacity="0.95"/>
<rect x="363.24" y="425.4" width="0.34" height="8.6" fill="#3b2e8c" opacity="0.95"/>
<rect x="364.33" y="425.4" width="0.96" height="8.6" fill="#3b2e8c" opacity="0.95"/>
<rect x="366.12" y="425.4" width="0.49" height="8.6" fill="#3b2e8c" opacity="0.95"/>
<rect x="368.12" y="425.4" width="10.91" height="8.6" fill="#3b2e8c"/>
<rect x="379" y="425.4" width="0.64" height="8.6" fill="#3b2e8c" opacity="0.95"/>
<rect x="379.96" y="425.4" width="0.56" height="8.6" fill="#3b2e8c" opacity="0.95"/>
<rect x="382.03" y="425.4" width="11.36" height="8.6" fill="#3b2e8c"/>
<rect x="394.15" y="425.4" width="0.66" height="8.6" fill="#3b2e8c" opacity="0.6499999999999999"/>
<rect x="396.42" y="425.4" width="0.81" height="8.6" fill="#3b2e8c" opacity="0.95"/>
<rect x="401.42" y="425.4" width="0.76" height="8.6" fill="#3b2e8c" opacity="0.3"/>
<rect x="407.03" y="425.4" width="0.89" height="8.6" fill="#3b2e8c" opacity="0.95"/>
<rect x="408.48" y="425.4" width="0.74" height="8.6" fill="#3b2e8c" opacity="0.95"/>
<rect x="410.82" y="425.4" width="0.72" height="8.6" fill="#3b2e8c" opacity="0.95"/>
<rect x="411.97" y="425.4" width="0.58" height="8.6" fill="#3b2e8c" opacity="0.95"/>
<rect x="412.88" y="425.4" width="0.21" height="8.6" fill="#3b2e8c" opacity="0.95"/>
<rect x="414.61" y="425.4" width="4.55" height="8.6" fill="#3b2e8c"/>
<rect x="422.18" y="425.4" width="31.06" height="8.6" fill="#3b2e8c"/>
<rect x="431.73" y="425.4" width="0.76" height="8.6" fill="#e6e6e8" opacity="0.7"/>
<rect x="442.33" y="425.4" width="0.76" height="8.6" fill="#e6e6e8" opacity="0.7"/>
<text transform="translate(81.6,432.6) scale(0.9551,1)" font-size="8.3" text-anchor="end">VEN</text>
<rect x="455.2" y="425.4" width="34.8" height="8.6" fill="#fff" stroke="#6d6e71" stroke-width="0.45"/>
<line x1="475.9" y1="425.4" x2="475.9" y2="434" stroke="#6d6e71" stroke-width="0.45"/>
<text transform="translate(465.55,431.82) scale(0.9000,1)" font-size="5.9" text-anchor="middle" style="stroke-width:0.05px">406</text>
<text transform="translate(482.95,431.82) scale(0.9000,1)" font-size="5.9" text-anchor="middle" style="stroke-width:0.05px">61</text>
<rect x="88.2" y="441.9" width="1.01" height="9.05" fill="#3b2e8c"/>
<rect x="91.03" y="441.9" width="0.78" height="8.65" fill="#3b2e8c" opacity="0.95"/>
<rect x="92.36" y="441.9" width="0.94" height="8.65" fill="#3b2e8c" opacity="0.95"/>
<rect x="93.82" y="441.9" width="0.67" height="8.65" fill="#3b2e8c" opacity="0.95"/>
<rect x="94.87" y="441.9" width="0.7" height="8.65" fill="#3b2e8c" opacity="0.95"/>
<rect x="96.33" y="441.9" width="0.98" height="8.65" fill="#3b2e8c" opacity="0.6499999999999999"/>
<rect x="99.36" y="441.9" width="5.3" height="9.05" fill="#3b2e8c"/>
<rect x="105.42" y="441.9" width="0.94" height="8.65" fill="#3b2e8c" opacity="0.95"/>
<rect x="106.82" y="441.9" width="0.56" height="8.65" fill="#3b2e8c" opacity="0.95"/>
<rect x="107.8" y="441.9" width="0.95" height="8.65" fill="#3b2e8c" opacity="0.95"/>
<rect x="109.38" y="441.9" width="0.81" height="8.65" fill="#3b2e8c" opacity="0.95"/>
<rect x="110.58" y="441.9" width="0.73" height="8.65" fill="#3b2e8c" opacity="0.95"/>
<rect x="111.91" y="441.9" width="0.92" height="8.65" fill="#3b2e8c" opacity="0.95"/>
<rect x="113.58" y="441.9" width="0.99" height="8.65" fill="#3b2e8c" opacity="0.95"/>
<rect x="115.12" y="441.9" width="0.6" height="8.65" fill="#3b2e8c" opacity="0.95"/>
<rect x="116.79" y="441.9" width="3.79" height="9.05" fill="#3b2e8c"/>
<rect x="122.09" y="441.9" width="0.79" height="8.65" fill="#3b2e8c" opacity="0.95"/>
<rect x="124.36" y="441.9" width="3.79" height="9.05" fill="#3b2e8c"/>
<rect x="130.42" y="441.9" width="0.97" height="8.65" fill="#3b2e8c" opacity="0.95"/>
<rect x="132.13" y="441.9" width="0.84" height="8.65" fill="#3b2e8c" opacity="0.95"/>
<rect x="134.21" y="441.9" width="3.79" height="9.05" fill="#3b2e8c"/>
<rect x="139.52" y="441.9" width="0.76" height="8.65" fill="#3b2e8c" opacity="0.95"/>
<rect x="140.79" y="441.9" width="0.57" height="8.65" fill="#3b2e8c" opacity="0.95"/>
<rect x="141.8" y="441.9" width="0.65" height="8.65" fill="#3b2e8c" opacity="0.95"/>
<rect x="143" y="441.9" width="0.3" height="8.65" fill="#3b2e8c" opacity="0.95"/>
<rect x="144.06" y="441.9" width="2.27" height="9.05" fill="#3b2e8c"/>
<rect x="147.85" y="441.9" width="0.61" height="8.65" fill="#3b2e8c" opacity="0.95"/>
<rect x="148.8" y="441.9" width="0.84" height="8.65" fill="#3b2e8c" opacity="0.95"/>
<rect x="150.26" y="441.9" width="0.6" height="8.65" fill="#3b2e8c" opacity="0.95"/>
<rect x="151.16" y="441.9" width="0.79" height="8.65" fill="#3b2e8c" opacity="0.95"/>
<rect x="152.49" y="441.9" width="0.66" height="8.65" fill="#3b2e8c" opacity="0.95"/>
<rect x="153.91" y="441.9" width="3.79" height="9.05" fill="#3b2e8c"/>
<rect x="158.45" y="441.9" width="2.58" height="9.05" fill="#3b2e8c"/>
<rect x="160" y="441.9" width="56.82" height="9.05" fill="#3b2e8c"/>
<rect x="217.58" y="441.9" width="0.82" height="8.65" fill="#3b2e8c" opacity="0.95"/>
<rect x="218.78" y="441.9" width="0.69" height="8.65" fill="#3b2e8c" opacity="0.95"/>
<rect x="219.91" y="441.9" width="0.69" height="8.65" fill="#3b2e8c" opacity="0.95"/>
<rect x="221.36" y="441.9" width="3.79" height="9.05" fill="#3b2e8c"/>
<rect x="225.91" y="441.9" width="0.95" height="8.65" fill="#3b2e8c" opacity="0.95"/>
<rect x="228.18" y="441.9" width="4.85" height="9.05" fill="#3b2e8c"/>
<rect x="165.76" y="441.9" width="0.61" height="8.65" fill="#e6e6e8" opacity="0.7"/>
<rect x="183.18" y="441.9" width="0.61" height="8.65" fill="#e6e6e8" opacity="0.7"/>
<rect x="196.06" y="441.9" width="0.61" height="8.65" fill="#e6e6e8" opacity="0.7"/>
<rect x="229.7" y="441.9" width="0.91" height="8.65" fill="#e6e6e8" opacity="0.7"/>
<rect x="233" y="441.9" width="0.66" height="8.65" fill="#3b2e8c" opacity="0.95"/>
<rect x="234.03" y="441.9" width="0.79" height="8.65" fill="#3b2e8c" opacity="0.95"/>
<rect x="236.03" y="441.9" width="1.52" height="9.05" fill="#3b2e8c"/>
<rect x="239.06" y="441.9" width="4.55" height="9.05" fill="#3b2e8c"/>
<rect x="247.39" y="441.9" width="0.69" height="8.65" fill="#3b2e8c" opacity="0.95"/>
<rect x="248.41" y="441.9" width="0.77" height="8.65" fill="#3b2e8c" opacity="0.95"/>
<rect x="249.75" y="441.9" width="0.74" height="8.65" fill="#3b2e8c" opacity="0.95"/>
<rect x="250.91" y="441.9" width="0.85" height="8.65" fill="#3b2e8c" opacity="0.95"/>
<rect x="254.21" y="441.9" width="5.3" height="9.05" fill="#3b2e8c"/>
<rect x="260.27" y="441.9" width="0.65" height="8.65" fill="#3b2e8c" opacity="0.95"/>
<rect x="261.24" y="441.9" width="0.7" height="8.65" fill="#3b2e8c" opacity="0.95"/>
<rect x="263.3" y="441.9" width="2.27" height="9.05" fill="#3b2e8c"/>
<rect x="267.09" y="441.9" width="0.86" height="8.65" fill="#3b2e8c" opacity="0.95"/>
<rect x="268.42" y="441.9" width="0.91" height="8.65" fill="#3b2e8c" opacity="0.95"/>
<rect x="270.02" y="441.9" width="0.78" height="8.65" fill="#3b2e8c" opacity="0.95"/>
<rect x="273.91" y="441.9" width="4.55" height="9.05" fill="#3b2e8c"/>
<rect x="279.21" y="441.9" width="0.99" height="8.65" fill="#3b2e8c" opacity="0.95"/>
<rect x="282.24" y="441.9" width="1.52" height="9.05" fill="#3b2e8c"/>
<rect x="285.27" y="441.9" width="1.52" height="9.05" fill="#3b2e8c"/>
<rect x="288.3" y="441.9" width="5.3" height="9.05" fill="#3b2e8c"/>
<rect x="294.36" y="441.9" width="0.92" height="8.65" fill="#3b2e8c" opacity="0.95"/>
<rect x="295.8" y="441.9" width="0.65" height="8.65" fill="#3b2e8c" opacity="0.95"/>
<rect x="298.15" y="441.9" width="4.55" height="9.05" fill="#3b2e8c"/>
<rect x="303.45" y="441.9" width="0.68" height="8.65" fill="#3b2e8c" opacity="0.6499999999999999"/>
<rect x="306" y="441.9" width="0.77" height="8.65" fill="#3b2e8c" opacity="0.95"/>
<rect x="307.19" y="441.9" width="0.32" height="8.65" fill="#3b2e8c" opacity="0.95"/>
<rect x="308.27" y="441.9" width="3.79" height="9.05" fill="#3b2e8c"/>
<rect x="313.58" y="441.9" width="0.85" height="8.65" fill="#3b2e8c" opacity="0.6499999999999999"/>
<rect x="315.85" y="441.9" width="2.27" height="9.05" fill="#3b2e8c"/>
<rect x="319.64" y="441.9" width="0.62" height="8.65" fill="#3b2e8c" opacity="0.95"/>
<rect x="320.64" y="441.9" width="0.65" height="8.65" fill="#3b2e8c" opacity="0.95"/>
<rect x="322.97" y="441.9" width="22.42" height="9.05" fill="#3b2e8c"/>
<rect x="346.91" y="441.9" width="6.06" height="9.05" fill="#3b2e8c"/>
<rect x="353.73" y="441.9" width="0.61" height="8.65" fill="#3b2e8c" opacity="0.95"/>
<rect x="354.64" y="441.9" width="0.58" height="8.65" fill="#3b2e8c" opacity="0.95"/>
<rect x="355.58" y="441.9" width="0.42" height="8.65" fill="#3b2e8c" opacity="0.95"/>
<rect x="357.52" y="441.9" width="3.03" height="9.05" fill="#3b2e8c"/>
<rect x="362.82" y="441.9" width="0.88" height="8.65" fill="#3b2e8c" opacity="0.95"/>
<rect x="364.46" y="441.9" width="0.63" height="8.65" fill="#3b2e8c" opacity="0.95"/>
<rect x="366.61" y="441.9" width="12.42" height="9.05" fill="#3b2e8c"/>
<rect x="333.73" y="441.9" width="0.61" height="8.65" fill="#e6e6e8" opacity="0.7"/>
<rect x="337.52" y="441.9" width="0.61" height="8.65" fill="#e6e6e8" opacity="0.7"/>
<rect x="341.3" y="441.9" width="0.61" height="8.65" fill="#e6e6e8" opacity="0.7"/>
<rect x="379" y="441.9" width="0.63" height="8.65" fill="#3b2e8c" opacity="0.95"/>
<rect x="380.17" y="441.9" width="0.35" height="8.65" fill="#3b2e8c" opacity="0.95"/>
<rect x="381.27" y="441.9" width="0.85" height="8.65" fill="#3b2e8c" opacity="0.95"/>
<rect x="382.65" y="441.9" width="0.72" height="8.65" fill="#3b2e8c" opacity="0.95"/>
<rect x="383.8" y="441.9" width="0.51" height="8.65" fill="#3b2e8c" opacity="0.95"/>
<rect x="385.82" y="441.9" width="0.68" height="8.65" fill="#3b2e8c" opacity="0.6499999999999999"/>
<rect x="388.09" y="441.9" width="0.98" height="8.65" fill="#3b2e8c" opacity="0.95"/>
<rect x="389.58" y="441.9" width="0.98" height="8.65" fill="#3b2e8c" opacity="0.95"/>
<rect x="392.64" y="441.9" width="0.71" height="8.65" fill="#3b2e8c" opacity="0.95"/>
<rect x="393.91" y="441.9" width="0.24" height="8.65" fill="#3b2e8c" opacity="0.95"/>
<rect x="394.91" y="441.9" width="58.33" height="9.05" fill="#3b2e8c"/>
<rect x="404.45" y="441.9" width="0.61" height="8.65" fill="#e6e6e8" opacity="0.7"/>
<rect x="434.76" y="441.9" width="0.61" height="8.65" fill="#e6e6e8" opacity="0.7"/>
<rect x="439.3" y="441.9" width="0.61" height="8.65" fill="#e6e6e8" opacity="0.7"/>
<rect x="443.85" y="441.9" width="0.61" height="8.65" fill="#e6e6e8" opacity="0.7"/>
<text transform="translate(81.6,449.12) scale(0.9109,1)" font-size="8.3" text-anchor="end">ORR</text>
<rect x="455.2" y="441.9" width="34.8" height="8.65" fill="#fff" stroke="#6d6e71" stroke-width="0.45"/>
<line x1="475.9" y1="441.9" x2="475.9" y2="450.55" stroke="#6d6e71" stroke-width="0.45"/>
<text transform="translate(465.55,448.35) scale(0.9000,1)" font-size="5.9" text-anchor="middle" style="stroke-width:0.05px">481</text>
<text transform="translate(482.95,448.35) scale(0.9000,1)" font-size="5.9" text-anchor="middle" style="stroke-width:0.05px">73</text>
<rect x="88.2" y="450.55" width="1.62" height="8.65" fill="#3b2e8c"/>
<rect x="91.03" y="450.55" width="0.57" height="8.65" fill="#3b2e8c" opacity="0.6499999999999999"/>
<rect x="92.92" y="450.55" width="0.72" height="8.65" fill="#3b2e8c" opacity="0.6499999999999999"/>
<rect x="94.82" y="450.55" width="2.27" height="8.65" fill="#3b2e8c"/>
<rect x="97.85" y="450.55" width="0.64" height="8.65" fill="#3b2e8c" opacity="0.6499999999999999"/>
<rect x="101.64" y="450.55" width="0.95" height="8.65" fill="#3b2e8c" opacity="0.95"/>
<rect x="103.05" y="450.55" width="0.73" height="8.65" fill="#3b2e8c" opacity="0.95"/>
<rect x="104.36" y="450.55" width="0.3" height="8.65" fill="#3b2e8c" opacity="0.95"/>
<rect x="105.42" y="450.55" width="0.57" height="8.65" fill="#3b2e8c" opacity="0.95"/>
<rect x="106.27" y="450.55" width="0.96" height="8.65" fill="#3b2e8c" opacity="0.95"/>
<rect x="107.78" y="450.55" width="0.89" height="8.65" fill="#3b2e8c" opacity="0.95"/>
<rect x="109.4" y="450.55" width="0.57" height="8.65" fill="#3b2e8c" opacity="0.95"/>
<rect x="110.73" y="450.55" width="0.98" height="8.65" fill="#3b2e8c" opacity="0.6499999999999999"/>
<rect x="114.16" y="450.55" width="0.67" height="8.65" fill="#3b2e8c" opacity="0.6499999999999999"/>
<rect x="117.55" y="450.55" width="0.69" height="8.65" fill="#3b2e8c" opacity="0.95"/>
<rect x="118.64" y="450.55" width="0.42" height="8.65" fill="#3b2e8c" opacity="0.95"/>
<rect x="120.58" y="450.55" width="0.96" height="8.65" fill="#3b2e8c" opacity="0.95"/>
<rect x="122.23" y="450.55" width="0.97" height="8.65" fill="#3b2e8c" opacity="0.95"/>
<rect x="125.12" y="450.55" width="0.66" height="8.65" fill="#3b2e8c" opacity="0.95"/>
<rect x="126.21" y="450.55" width="0.98" height="8.65" fill="#3b2e8c" opacity="0.95"/>
<rect x="129.67" y="450.55" width="0.72" height="8.65" fill="#3b2e8c" opacity="0.6499999999999999"/>
<rect x="132.7" y="450.55" width="0.74" height="8.65" fill="#3b2e8c" opacity="0.95"/>
<rect x="133.93" y="450.55" width="0.97" height="8.65" fill="#3b2e8c" opacity="0.95"/>
<rect x="136.48" y="450.55" width="0.91" height="8.65" fill="#3b2e8c" opacity="0.6499999999999999"/>
<rect x="140.27" y="450.55" width="0.92" height="8.65" fill="#3b2e8c" opacity="0.95"/>
<rect x="141.91" y="450.55" width="0.64" height="8.65" fill="#3b2e8c" opacity="0.95"/>
<rect x="144.06" y="450.55" width="0.69" height="8.65" fill="#3b2e8c" opacity="0.95"/>
<rect x="145.18" y="450.55" width="0.4" height="8.65" fill="#3b2e8c" opacity="0.95"/>
<rect x="147.85" y="450.55" width="0.64" height="8.65" fill="#3b2e8c" opacity="0.6499999999999999"/>
<rect x="151.64" y="450.55" width="0.66" height="8.65" fill="#3b2e8c" opacity="0.95"/>
<rect x="152.62" y="450.55" width="0.57" height="8.65" fill="#3b2e8c" opacity="0.95"/>
<rect x="154.67" y="450.55" width="0.7" height="8.65" fill="#3b2e8c" opacity="0.6499999999999999"/>
<rect x="158" y="450.55" width="0.95" height="8.65" fill="#3b2e8c" opacity="0.95"/>
<rect x="161.52" y="450.55" width="0.67" height="8.65" fill="#3b2e8c" opacity="0.95"/>
<rect x="162.52" y="450.55" width="0.51" height="8.65" fill="#3b2e8c" opacity="0.95"/>
<rect x="165.3" y="450.55" width="3.79" height="8.65" fill="#3b2e8c"/>
<rect x="170.61" y="450.55" width="0.87" height="8.65" fill="#3b2e8c" opacity="0.95"/>
<rect x="172.04" y="450.55" width="0.66" height="8.65" fill="#3b2e8c" opacity="0.95"/>
<rect x="173.64" y="450.55" width="3.79" height="8.65" fill="#3b2e8c"/>
<rect x="178.94" y="450.55" width="0.83" height="8.65" fill="#3b2e8c" opacity="0.95"/>
<rect x="180.38" y="450.55" width="0.89" height="8.65" fill="#3b2e8c" opacity="0.95"/>
<rect x="181.98" y="450.55" width="0.75" height="8.65" fill="#3b2e8c" opacity="0.95"/>
<rect x="184.24" y="450.55" width="0.93" height="8.65" fill="#3b2e8c" opacity="0.95"/>
<rect x="185.71" y="450.55" width="0.8" height="8.65" fill="#3b2e8c" opacity="0.95"/>
<rect x="187.27" y="450.55" width="5.3" height="8.65" fill="#3b2e8c"/>
<rect x="194.09" y="450.55" width="0.88" height="8.65" fill="#3b2e8c" opacity="0.95"/>
<rect x="197.12" y="450.55" width="2.27" height="8.65" fill="#3b2e8c"/>
<rect x="200.91" y="450.55" width="3.03" height="8.65" fill="#3b2e8c"/>
<rect x="205.45" y="450.55" width="4.55" height="8.65" fill="#3b2e8c"/>
<rect x="212.27" y="450.55" width="0.66" height="8.65" fill="#3b2e8c" opacity="0.95"/>
<rect x="213.31" y="450.55" width="0.48" height="8.65" fill="#3b2e8c" opacity="0.95"/>
<rect x="215.3" y="450.55" width="0.81" height="8.65" fill="#3b2e8c" opacity="0.95"/>
<rect x="216.6" y="450.55" width="0.22" height="8.65" fill="#3b2e8c" opacity="0.95"/>
<rect x="217.58" y="450.55" width="0.78" height="8.65" fill="#3b2e8c" opacity="0.6499999999999999"/>
<rect x="231.21" y="450.55" width="0.91" height="8.65" fill="#3b2e8c" opacity="0.95"/>
<rect x="232.79" y="450.55" width="0.24" height="8.65" fill="#3b2e8c" opacity="0.95"/>
<rect x="236.03" y="450.55" width="1.21" height="8.65" fill="#3b2e8c"/>
<rect x="241.33" y="450.55" width="0.76" height="8.65" fill="#3b2e8c" opacity="0.95"/>
<rect x="254.97" y="450.55" width="1.52" height="8.65" fill="#3b2e8c"/>
<rect x="262.55" y="450.55" width="0.93" height="8.65" fill="#3b2e8c" opacity="0.95"/>
<rect x="264.25" y="450.55" width="0.57" height="8.65" fill="#3b2e8c" opacity="0.95"/>
<rect x="273.91" y="450.55" width="2.27" height="8.65" fill="#3b2e8c"/>
<rect x="290.58" y="450.55" width="0.6" height="8.65" fill="#3b2e8c" opacity="0.95"/>
<rect x="291.51" y="450.55" width="0.58" height="8.65" fill="#3b2e8c" opacity="0.95"/>
<rect x="292.85" y="450.55" width="0.97" height="8.65" fill="#3b2e8c" opacity="0.95"/>
<rect x="299.67" y="450.55" width="1.21" height="8.65" fill="#3b2e8c" opacity="0.6"/>
<rect x="306" y="450.55" width="0.94" height="8.65" fill="#3b2e8c" opacity="0.6499999999999999"/>
<rect x="310.55" y="450.55" width="0.67" height="8.65" fill="#3b2e8c" opacity="0.95"/>
<rect x="311.73" y="450.55" width="0.33" height="8.65" fill="#3b2e8c" opacity="0.95"/>
<rect x="314.33" y="450.55" width="0.82" height="8.65" fill="#3b2e8c" opacity="0.95"/>
<rect x="321.15" y="450.55" width="0.65" height="8.65" fill="#3b2e8c" opacity="0.95"/>
<rect x="322.2" y="450.55" width="0.47" height="8.65" fill="#3b2e8c" opacity="0.95"/>
<rect x="324.94" y="450.55" width="2.27" height="8.65" fill="#3b2e8c"/>
<rect x="327.97" y="450.55" width="0.66" height="8.65" fill="#3b2e8c" opacity="0.95"/>
<rect x="329.1" y="450.55" width="0.38" height="8.65" fill="#3b2e8c" opacity="0.95"/>
<rect x="331" y="450.55" width="0.56" height="8.65" fill="#3b2e8c" opacity="0.95"/>
<rect x="331.89" y="450.55" width="0.63" height="8.65" fill="#3b2e8c" opacity="0.95"/>
<rect x="339.33" y="450.55" width="0.69" height="8.65" fill="#3b2e8c" opacity="0.95"/>
<rect x="340.4" y="450.55" width="0.75" height="8.65" fill="#3b2e8c" opacity="0.95"/>
<rect x="342.36" y="450.55" width="0.58" height="8.65" fill="#3b2e8c" opacity="0.6499999999999999"/>
<rect x="348.42" y="450.55" width="0.73" height="8.65" fill="#3b2e8c" opacity="0.95"/>
<rect x="349.65" y="450.55" width="0.59" height="8.65" fill="#3b2e8c" opacity="0.95"/>
<rect x="356" y="450.55" width="0.62" height="8.65" fill="#3b2e8c" opacity="0.6499999999999999"/>
<rect x="362.06" y="450.55" width="0.73" height="8.65" fill="#3b2e8c" opacity="0.6499999999999999"/>
<rect x="367.36" y="450.55" width="1.52" height="8.65" fill="#3b2e8c"/>
<rect x="376" y="450.55" width="1.21" height="8.65" fill="#3b2e8c" opacity="0.6"/>
<rect x="379" y="450.55" width="0.69" height="8.65" fill="#3b2e8c" opacity="0.95"/>
<rect x="380.27" y="450.55" width="0.24" height="8.65" fill="#3b2e8c" opacity="0.95"/>
<rect x="381.27" y="450.55" width="0.71" height="8.65" fill="#3b2e8c" opacity="0.6499999999999999"/>
<rect x="385.82" y="450.55" width="2.27" height="8.65" fill="#3b2e8c"/>
<rect x="394.15" y="450.55" width="1.82" height="8.65" fill="#3b2e8c"/>
<rect x="397.18" y="450.55" width="0.94" height="8.65" fill="#3b2e8c" opacity="0.95"/>
<rect x="402.48" y="450.55" width="2.27" height="8.65" fill="#3b2e8c"/>
<rect x="410.06" y="450.55" width="2.27" height="8.65" fill="#3b2e8c"/>
<rect x="413.85" y="450.55" width="0.71" height="8.65" fill="#3b2e8c" opacity="0.95"/>
<rect x="414.95" y="450.55" width="0.88" height="8.65" fill="#3b2e8c" opacity="0.95"/>
<rect x="416.31" y="450.55" width="0.55" height="8.65" fill="#3b2e8c" opacity="0.95"/>
<rect x="417.64" y="450.55" width="0.74" height="8.65" fill="#3b2e8c" opacity="0.95"/>
<rect x="418.97" y="450.55" width="0.73" height="8.65" fill="#3b2e8c" opacity="0.95"/>
<rect x="421.42" y="450.55" width="0.76" height="8.65" fill="#3b2e8c" opacity="0.6499999999999999"/>
<rect x="423.7" y="450.55" width="0.56" height="8.65" fill="#3b2e8c" opacity="0.95"/>
<rect x="424.64" y="450.55" width="0.84" height="8.65" fill="#3b2e8c" opacity="0.95"/>
<rect x="427.48" y="450.55" width="0.59" height="8.65" fill="#3b2e8c" opacity="0.95"/>
<rect x="428.5" y="450.55" width="0.72" height="8.65" fill="#3b2e8c" opacity="0.95"/>
<rect x="431.27" y="450.55" width="0.62" height="8.65" fill="#3b2e8c" opacity="0.6499999999999999"/>
<rect x="434.3" y="450.55" width="0.78" height="8.65" fill="#3b2e8c" opacity="0.95"/>
<rect x="438.09" y="450.55" width="0.6" height="8.65" fill="#3b2e8c" opacity="0.95"/>
<rect x="439.09" y="450.55" width="0.52" height="8.65" fill="#3b2e8c" opacity="0.95"/>
<rect x="441.12" y="450.55" width="0.64" height="8.65" fill="#3b2e8c" opacity="0.6499999999999999"/>
<rect x="444.15" y="450.55" width="0.97" height="8.65" fill="#3b2e8c" opacity="0.95"/>
<rect x="447.94" y="450.55" width="0.77" height="8.65" fill="#3b2e8c" opacity="0.6499999999999999"/>
<rect x="166.95" y="450.55" width="0.44" height="8.65" fill="#e6e6e8" opacity="0.75"/>
<rect x="174.85" y="450.55" width="0.31" height="8.65" fill="#e6e6e8" opacity="0.55"/>
<rect x="176.15" y="450.55" width="0.45" height="8.65" fill="#e6e6e8" opacity="0.60"/>
<rect x="188.25" y="450.55" width="0.47" height="8.65" fill="#e6e6e8" opacity="0.85"/>
<rect x="190.49" y="450.55" width="0.36" height="8.65" fill="#e6e6e8" opacity="0.60"/>
<rect x="202.22" y="450.55" width="0.33" height="8.65" fill="#e6e6e8" opacity="0.68"/>
<rect x="207.22" y="450.55" width="0.49" height="8.65" fill="#e6e6e8" opacity="0.72"/>
<rect x="208.93" y="450.55" width="0.49" height="8.65" fill="#e6e6e8" opacity="0.62"/>
<text transform="translate(81.6,457.77) scale(0.9337,1)" font-size="8.3" text-anchor="end">SCT</text>
<rect x="455.2" y="450.55" width="34.8" height="8.65" fill="#fff" stroke="#6d6e71" stroke-width="0.45"/>
<line x1="475.9" y1="450.55" x2="475.9" y2="459.2" stroke="#6d6e71" stroke-width="0.45"/>
<text transform="translate(465.55,457) scale(0.9000,1)" font-size="5.9" text-anchor="middle" style="stroke-width:0.05px">178</text>
<text transform="translate(482.95,457) scale(0.9000,1)" font-size="5.9" text-anchor="middle" style="stroke-width:0.05px">27</text>
<line x1="475.9" y1="273.2" x2="475.9" y2="459.2" stroke="#6d6e71" stroke-width="0.45"/>
<text x="462.8" y="29.9" font-size="8.6" text-anchor="middle">N</text>
<text x="481" y="29.9" font-size="8.6" text-anchor="middle">%</text>
<text x="465" y="271.9" font-size="8.6" text-anchor="middle">N</text>
<text x="482.5" y="271.9" font-size="8.6" text-anchor="middle">%</text>
<rect x="490.4" y="31.6" width="9.6" height="91.7" fill="#e6391d"/>
<rect x="490.4" y="123.3" width="9.6" height="92.2" fill="#dcddde" stroke="#a7a9ac" stroke-width="0.5"/>
<line x1="491.4" y1="169.2" x2="493.0" y2="169.2" stroke="#808285" stroke-width="0.5"/>
<line x1="492.4" y1="411.8" x2="494.0" y2="411.8" stroke="#808285" stroke-width="0.5"/>
<line x1="497.4" y1="169.2" x2="499.0" y2="169.2" stroke="#808285" stroke-width="0.5"/>
<line x1="498.4" y1="411.8" x2="500.0" y2="411.8" stroke="#808285" stroke-width="0.5"/>
<rect x="491.8" y="273.2" width="9.1" height="92.1" fill="#3b2e8c"/>
<rect x="491.8" y="365.3" width="9.1" height="93.9" fill="#dcddde" stroke="#a7a9ac" stroke-width="0.5"/>
<text transform="translate(511.5,78.8) rotate(-90) scale(0.9852,1)" font-size="8.35" text-anchor="middle">Yes / Mutated</text>
<text transform="translate(511.5,171) rotate(-90) scale(1.0192,1)" font-size="8.35" text-anchor="middle">No / Unmutated</text>
<text transform="translate(511.5,322) rotate(-90) scale(0.9852,1)" font-size="8.35" text-anchor="middle">Yes / Mutated</text>
<text transform="translate(511.5,413) rotate(-90) scale(1.0192,1)" font-size="8.35" text-anchor="middle">No / Unmutated</text>
<text transform="translate(26.7,124.85) rotate(-90) scale(0.9115,1)" font-size="8.2" text-anchor="middle">Patient and disease characteristics</text>
<text transform="translate(26.7,366.55) rotate(-90) scale(0.9123,1)" font-size="8.2" text-anchor="middle">Patient and disease characteristics</text>
<text x="7.1" y="16.5" font-size="11.4" font-weight="bold">A</text>
<text x="7.1" y="256.8" font-size="11.4" font-weight="bold">B</text>
<text transform="translate(89.78,228.9) scale(0.9300,1)" font-size="8.6" text-anchor="middle">1</text>
<text transform="translate(106.14,228.9) scale(0.9300,1)" font-size="8.6" text-anchor="middle">13</text>
<text transform="translate(122.5,228.9) scale(0.9300,1)" font-size="8.6" text-anchor="middle">25</text>
<text transform="translate(138.86,228.9) scale(0.9300,1)" font-size="8.6" text-anchor="middle">37</text>
<text transform="translate(155.22,228.9) scale(0.9300,1)" font-size="8.6" text-anchor="middle">49</text>
<text transform="translate(171.57,228.9) scale(0.9300,1)" font-size="8.6" text-anchor="middle">61</text>
<text transform="translate(187.93,228.9) scale(0.9300,1)" font-size="8.6" text-anchor="middle">73</text>
<text transform="translate(204.29,228.9) scale(0.9300,1)" font-size="8.6" text-anchor="middle">85</text>
<text transform="translate(220.65,228.9) scale(0.9300,1)" font-size="8.6" text-anchor="middle">97</text>
<text transform="translate(237.01,228.9) scale(0.9300,1)" font-size="8.6" text-anchor="middle">109</text>
<text transform="translate(253.37,228.9) scale(0.9300,1)" font-size="8.6" text-anchor="middle">121</text>
<text transform="translate(269.72,228.9) scale(0.9300,1)" font-size="8.6" text-anchor="middle">133</text>
<text transform="translate(286.08,228.9) scale(0.9300,1)" font-size="8.6" text-anchor="middle">145</text>
<text transform="translate(302.44,228.9) scale(0.9300,1)" font-size="8.6" text-anchor="middle">157</text>
<text transform="translate(318.8,228.9) scale(0.9300,1)" font-size="8.6" text-anchor="middle">169</text>
<text transform="translate(335.16,228.9) scale(0.9300,1)" font-size="8.6" text-anchor="middle">181</text>
<text transform="translate(351.52,228.9) scale(0.9300,1)" font-size="8.6" text-anchor="middle">193</text>
<text transform="translate(367.87,228.9) scale(0.9300,1)" font-size="8.6" text-anchor="middle">205</text>
<text transform="translate(384.23,228.9) scale(0.9300,1)" font-size="8.6" text-anchor="middle">217</text>
<text transform="translate(400.59,228.9) scale(0.9300,1)" font-size="8.6" text-anchor="middle">229</text>
<text transform="translate(416.95,228.9) scale(0.9300,1)" font-size="8.6" text-anchor="middle">241</text>
<text transform="translate(433.31,228.9) scale(0.9300,1)" font-size="8.6" text-anchor="middle">253</text>
<text transform="translate(449.67,228.9) scale(0.9300,1)" font-size="8.6" text-anchor="middle">265</text>
<text transform="translate(272.6,242.5) scale(0.8617,1)" font-size="9.2" text-anchor="middle">Patients (n = 266)</text>
<text transform="translate(88.48,472.7) scale(0.9300,1)" font-size="8.6" text-anchor="middle">1</text>
<text transform="translate(104.47,472.7) scale(0.9300,1)" font-size="8.6" text-anchor="middle">30</text>
<text transform="translate(120.46,472.7) scale(0.9300,1)" font-size="8.6" text-anchor="middle">59</text>
<text transform="translate(136.46,472.7) scale(0.9300,1)" font-size="8.6" text-anchor="middle">88</text>
<text transform="translate(152.45,472.7) scale(0.9300,1)" font-size="8.6" text-anchor="middle">117</text>
<text transform="translate(168.44,472.7) scale(0.9300,1)" font-size="8.6" text-anchor="middle">146</text>
<text transform="translate(184.44,472.7) scale(0.9300,1)" font-size="8.6" text-anchor="middle">175</text>
<text transform="translate(200.43,472.7) scale(0.9300,1)" font-size="8.6" text-anchor="middle">204</text>
<text transform="translate(216.42,472.7) scale(0.9300,1)" font-size="8.6" text-anchor="middle">233</text>
<text transform="translate(232.42,472.7) scale(0.9300,1)" font-size="8.6" text-anchor="middle">262</text>
<text transform="translate(248.41,472.7) scale(0.9300,1)" font-size="8.6" text-anchor="middle">291</text>
<text transform="translate(264.4,472.7) scale(0.9300,1)" font-size="8.6" text-anchor="middle">320</text>
<text transform="translate(280.4,472.7) scale(0.9300,1)" font-size="8.6" text-anchor="middle">349</text>
<text transform="translate(296.39,472.7) scale(0.9300,1)" font-size="8.6" text-anchor="middle">378</text>
<text transform="translate(312.38,472.7) scale(0.9300,1)" font-size="8.6" text-anchor="middle">407</text>
<text transform="translate(328.38,472.7) scale(0.9300,1)" font-size="8.6" text-anchor="middle">436</text>
<text transform="translate(344.37,472.7) scale(0.9300,1)" font-size="8.6" text-anchor="middle">465</text>
<text transform="translate(360.37,472.7) scale(0.9300,1)" font-size="8.6" text-anchor="middle">494</text>
<text transform="translate(376.36,472.7) scale(0.9300,1)" font-size="8.6" text-anchor="middle">523</text>
<text transform="translate(392.35,472.7) scale(0.9300,1)" font-size="8.6" text-anchor="middle">552</text>
<text transform="translate(408.35,472.7) scale(0.9300,1)" font-size="8.6" text-anchor="middle">581</text>
<text transform="translate(424.34,472.7) scale(0.9300,1)" font-size="8.6" text-anchor="middle">610</text>
<text transform="translate(440.33,472.7) scale(0.9300,1)" font-size="8.6" text-anchor="middle">639</text>
<text transform="translate(276.1,486) scale(0.8562,1)" font-size="9.2" text-anchor="middle">Patients (n = 662)</text>
</svg>
</body></html>
